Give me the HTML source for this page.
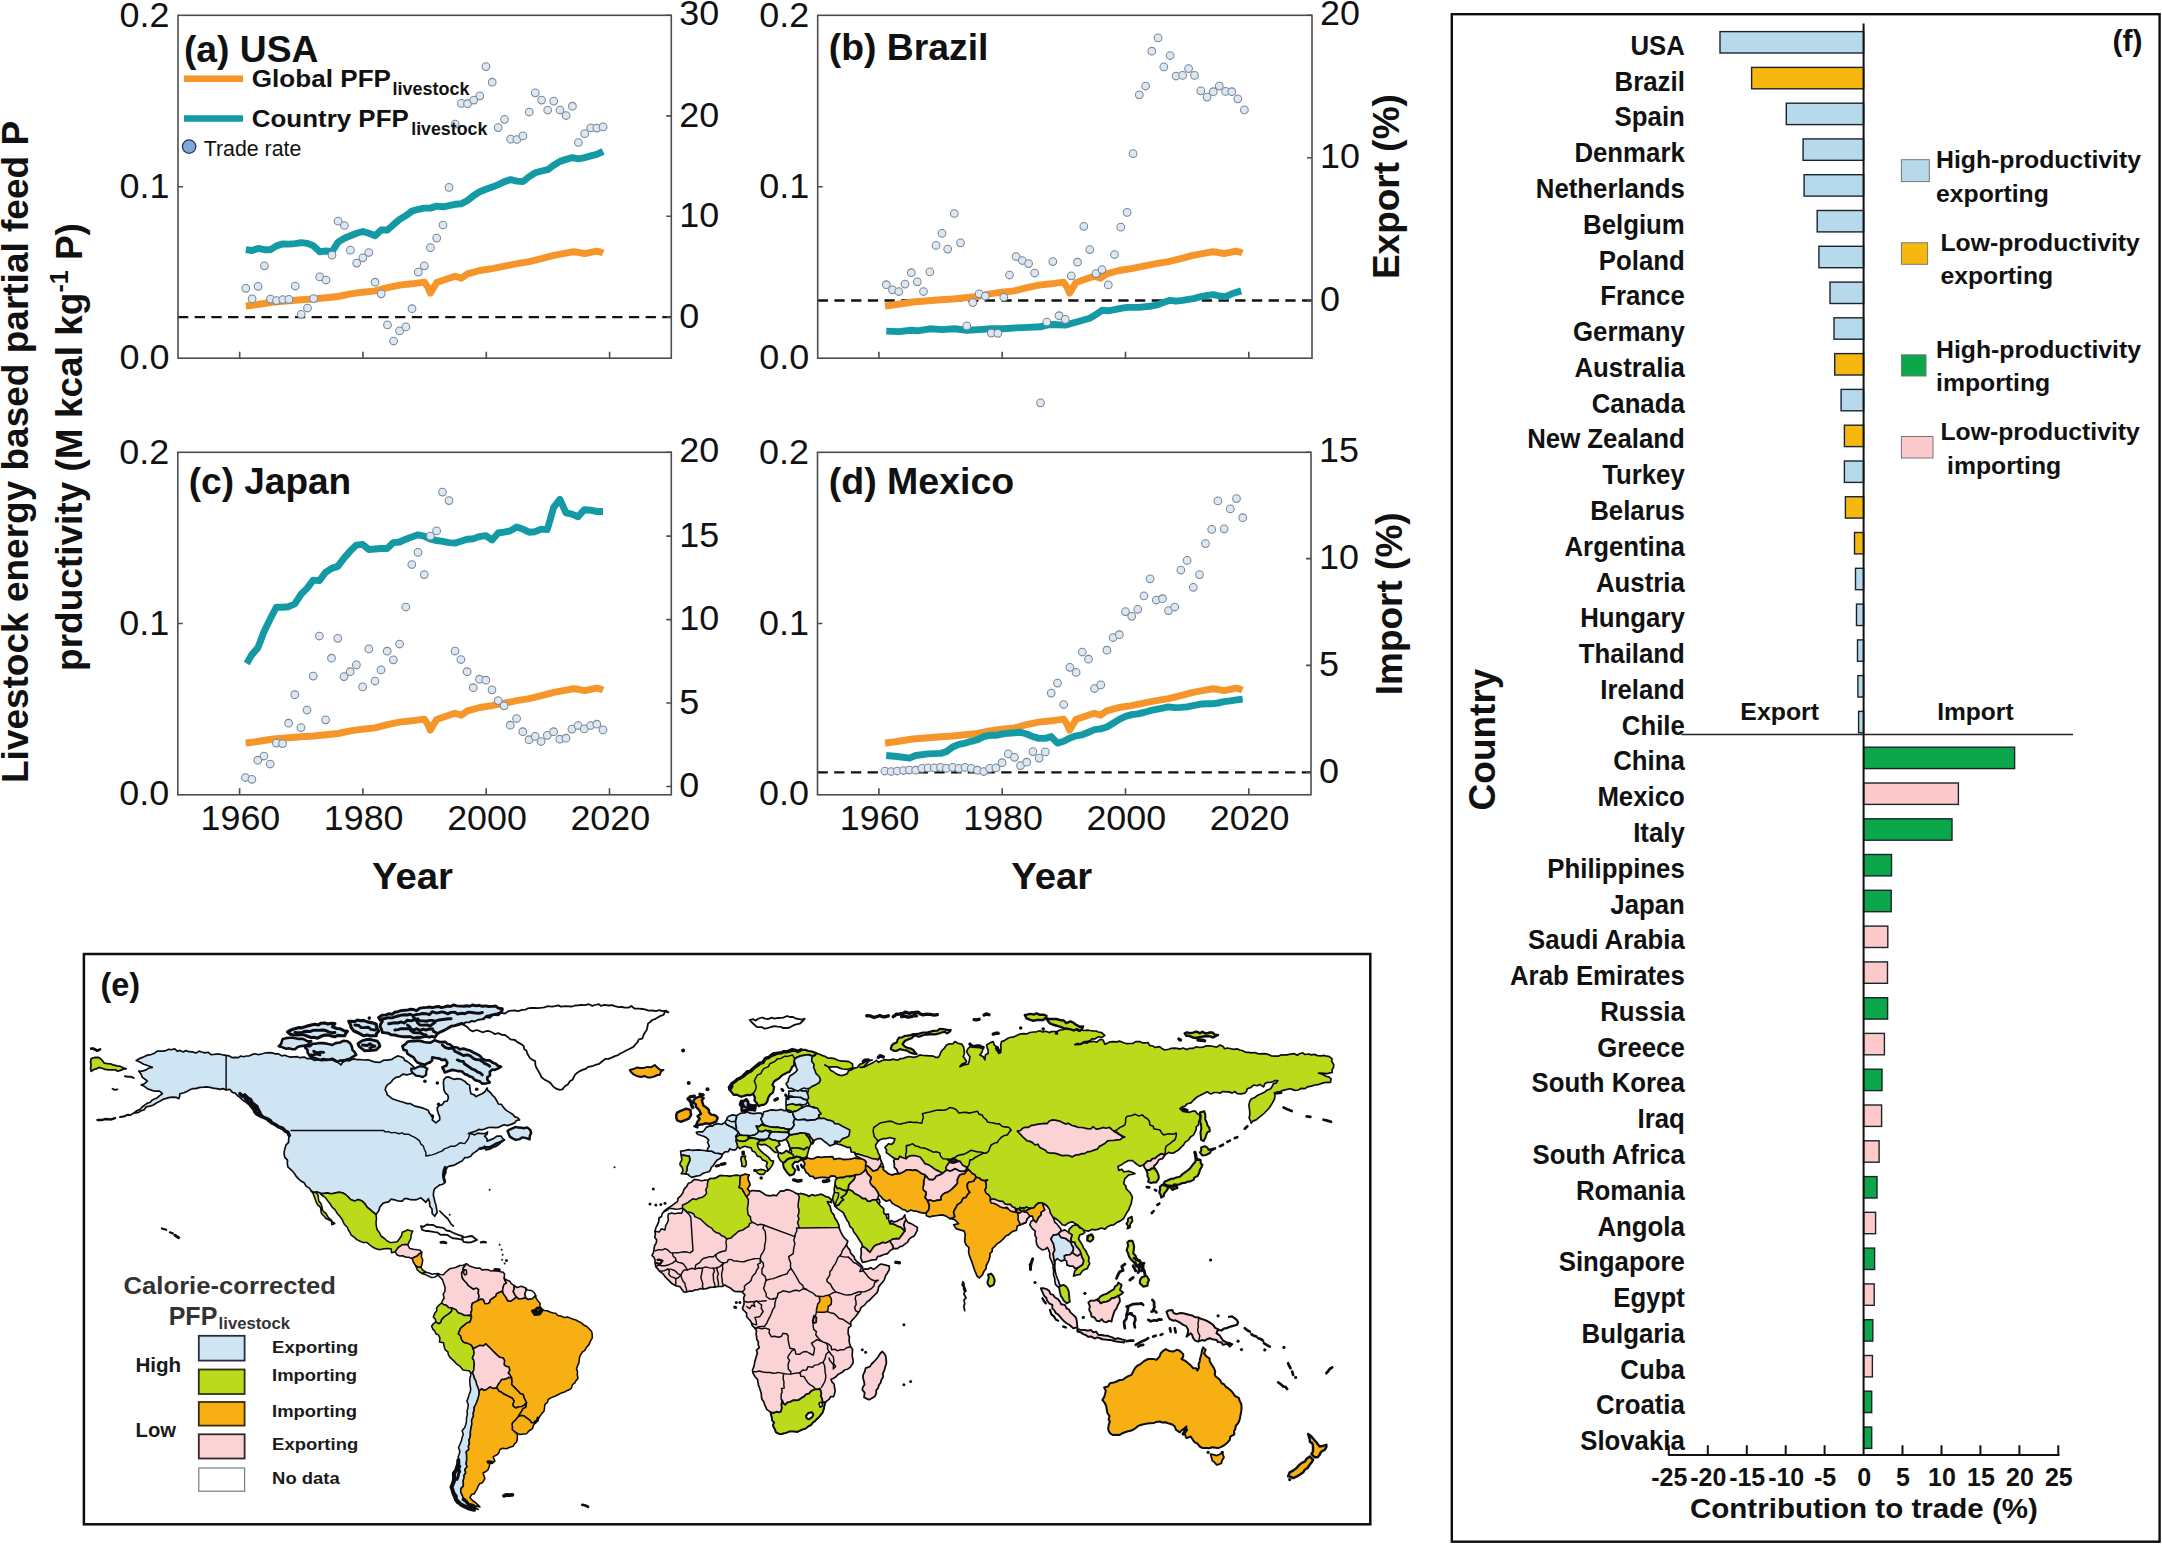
<!DOCTYPE html>
<html><head><meta charset="utf-8"><title>Figure</title>
<style>html,body{margin:0;padding:0;background:#fff}svg{display:block}text{font-family:"Liberation Sans", Arial, Helvetica, sans-serif}</style></head>
<body><svg width="2162" height="1546" viewBox="0 0 2162 1546">
<rect width="2162" height="1546" fill="#fff"/>
<path d="M178.0 317.1 H671.3" stroke="#111" stroke-width="2.3" stroke-dasharray="10.3 6.4" fill="none"/>
<path d="M245.8 306.0 L252.1 305.3 L260.9 304.0 L273.5 302.0 L286.1 301.0 L301.2 299.7 L313.6 299.0 L326.0 297.7 L338.1 296.5 L350.4 293.9 L362.8 292.2 L375.1 290.9 L387.5 287.6 L399.6 285.1 L412.0 283.8 L424.3 282.1 L427.4 286.4 L430.4 293.2 L433.7 287.6 L436.7 282.6 L449.0 278.3 L455.1 276.3 L461.4 278.3 L467.5 273.8 L479.8 270.5 L492.2 268.7 L504.5 266.2 L516.9 263.7 L529.2 261.7 L541.6 258.6 L553.7 255.3 L566.1 253.1 L572.4 251.8 L578.4 252.3 L584.7 253.6 L590.8 252.3 L596.8 251.1 L600.1 251.8 L603.1 253.1" stroke="#F5952A" stroke-width="6.9" fill="none" stroke-linejoin="round"/>
<path d="M245.8 249.7 L252.1 250.5 L258.1 248.4 L264.4 249.7 L270.5 249.7 L276.5 245.9 L282.8 243.9 L288.9 244.1 L295.2 243.6 L301.2 242.6 L307.5 243.4 L313.6 245.9 L319.7 251.7 L326.0 251.0 L332.0 251.7 L338.1 242.1 L344.4 238.3 L350.4 235.8 L356.7 233.3 L362.8 231.5 L368.8 233.3 L375.1 235.8 L381.2 230.0 L387.5 230.0 L393.6 224.5 L399.6 219.4 L405.9 215.6 L412.0 211.1 L418.3 209.3 L424.3 208.1 L430.4 208.1 L436.7 206.1 L443.0 206.8 L449.0 205.6 L455.1 204.3 L461.4 203.8 L467.5 200.5 L473.8 195.5 L479.8 191.7 L485.9 189.2 L492.2 187.1 L498.2 184.6 L504.5 181.6 L510.6 179.6 L516.9 181.1 L522.9 181.6 L529.2 176.6 L535.3 172.8 L541.6 171.0 L547.7 169.7 L553.7 165.2 L560.0 161.4 L566.1 159.4 L572.4 157.6 L578.4 158.9 L584.7 157.6 L590.8 155.9 L596.8 154.4 L603.1 151.3" stroke="#149AA5" stroke-width="6.9" fill="none" stroke-linejoin="round"/>
<g fill="#DBE8F4" stroke="#7b8794" stroke-width="1.05"><circle cx="245.8" cy="288.3" r="3.85"/><circle cx="252.1" cy="298.9" r="3.85"/><circle cx="258.1" cy="286.3" r="3.85"/><circle cx="264.4" cy="265.8" r="3.85"/><circle cx="270.5" cy="299.1" r="3.85"/><circle cx="276.5" cy="300.6" r="3.85"/><circle cx="282.8" cy="299.6" r="3.85"/><circle cx="288.9" cy="299.4" r="3.85"/><circle cx="295.2" cy="286.0" r="3.85"/><circle cx="301.2" cy="314.3" r="3.85"/><circle cx="307.5" cy="308.0" r="3.85"/><circle cx="313.6" cy="298.6" r="3.85"/><circle cx="319.7" cy="276.9" r="3.85"/><circle cx="326.0" cy="280.0" r="3.85"/><circle cx="332.0" cy="255.2" r="3.85"/><circle cx="338.1" cy="221.2" r="3.85"/><circle cx="344.4" cy="225.5" r="3.85"/><circle cx="350.4" cy="250.2" r="3.85"/><circle cx="356.7" cy="263.1" r="3.85"/><circle cx="362.8" cy="257.8" r="3.85"/><circle cx="368.8" cy="252.5" r="3.85"/><circle cx="375.1" cy="282.2" r="3.85"/><circle cx="381.2" cy="293.8" r="3.85"/><circle cx="387.5" cy="324.9" r="3.85"/><circle cx="393.6" cy="341.0" r="3.85"/><circle cx="399.6" cy="330.9" r="3.85"/><circle cx="405.9" cy="326.9" r="3.85"/><circle cx="412.0" cy="308.7" r="3.85"/><circle cx="418.3" cy="272.1" r="3.85"/><circle cx="424.3" cy="265.8" r="3.85"/><circle cx="430.4" cy="247.7" r="3.85"/><circle cx="436.7" cy="238.1" r="3.85"/><circle cx="443.0" cy="225.0" r="3.85"/><circle cx="449.0" cy="187.4" r="3.85"/><circle cx="455.1" cy="124.1" r="3.85"/><circle cx="461.4" cy="103.4" r="3.85"/><circle cx="467.5" cy="103.7" r="3.85"/><circle cx="473.8" cy="100.1" r="3.85"/><circle cx="479.8" cy="95.8" r="3.85"/><circle cx="485.9" cy="66.6" r="3.85"/><circle cx="492.2" cy="82.2" r="3.85"/><circle cx="498.2" cy="127.6" r="3.85"/><circle cx="504.5" cy="119.3" r="3.85"/><circle cx="510.6" cy="139.2" r="3.85"/><circle cx="516.9" cy="139.5" r="3.85"/><circle cx="522.9" cy="135.9" r="3.85"/><circle cx="529.2" cy="112.0" r="3.85"/><circle cx="535.3" cy="92.8" r="3.85"/><circle cx="541.6" cy="100.1" r="3.85"/><circle cx="547.7" cy="110.0" r="3.85"/><circle cx="553.7" cy="101.1" r="3.85"/><circle cx="560.0" cy="110.0" r="3.85"/><circle cx="566.1" cy="115.5" r="3.85"/><circle cx="572.4" cy="106.2" r="3.85"/><circle cx="578.4" cy="142.5" r="3.85"/><circle cx="584.7" cy="133.7" r="3.85"/><circle cx="590.8" cy="127.9" r="3.85"/><circle cx="596.8" cy="128.1" r="3.85"/><circle cx="603.1" cy="126.9" r="3.85"/></g>
<rect x="178.0" y="15.3" width="493.3" height="342.9" fill="none" stroke="#4d4d4d" stroke-width="1.6"/>
<path d="M239.7 358.2 v-6.5 M363.0 358.2 v-6.5 M486.3 358.2 v-6.5 M609.6 358.2 v-6.5 M178.0 186.8 h5 M671.3 15.3 h-5 M671.3 115.9 h-5 M671.3 216.2 h-5 M671.3 317.1 h-5" stroke="#4d4d4d" stroke-width="1.6" fill="none"/>
<text x="169.5" y="27.3" font-size="34.5" text-anchor="end" fill="#111" textLength="50.0" lengthAdjust="spacingAndGlyphs">0.2</text>
<text x="169.5" y="197.8" font-size="34.5" text-anchor="end" fill="#111" textLength="50.0" lengthAdjust="spacingAndGlyphs">0.1</text>
<text x="169.5" y="368.5" font-size="34.5" text-anchor="end" fill="#111" textLength="50.0" lengthAdjust="spacingAndGlyphs">0.0</text>
<text x="679.3" y="25.1" font-size="34.5" text-anchor="start" fill="#111" textLength="39.9" lengthAdjust="spacingAndGlyphs">30</text>
<text x="679.3" y="126.5" font-size="34.5" text-anchor="start" fill="#111" textLength="39.9" lengthAdjust="spacingAndGlyphs">20</text>
<text x="679.3" y="226.8" font-size="34.5" text-anchor="start" fill="#111" textLength="39.9" lengthAdjust="spacingAndGlyphs">10</text>
<text x="679.3" y="327.7" font-size="34.5" text-anchor="start" fill="#111" textLength="20.0" lengthAdjust="spacingAndGlyphs">0</text>
<text x="183.9" y="61.8" font-size="37.0" font-weight="bold" text-anchor="start" fill="#111" textLength="134.6" lengthAdjust="spacingAndGlyphs">(a) USA</text>
<path d="M817.7 300.5 H1312.0" stroke="#111" stroke-width="2.3" stroke-dasharray="10.3 6.4" fill="none"/>
<path d="M885.0 306.0 L891.3 305.3 L900.1 304.0 L912.7 302.0 L925.3 301.0 L940.4 299.7 L952.8 299.0 L965.2 297.7 L977.3 296.5 L989.6 293.9 L1002.0 292.2 L1014.3 290.9 L1026.7 287.6 L1038.8 285.1 L1051.2 283.8 L1063.5 282.1 L1066.6 286.4 L1069.6 293.2 L1072.9 287.6 L1075.9 282.6 L1088.2 278.3 L1094.3 276.3 L1100.6 278.3 L1106.7 273.8 L1119.0 270.5 L1131.4 268.7 L1143.7 266.2 L1156.1 263.7 L1168.4 261.7 L1180.8 258.6 L1192.9 255.3 L1205.3 253.1 L1211.6 251.8 L1217.6 252.3 L1223.9 253.6 L1230.0 252.3 L1236.0 251.1 L1239.3 251.8 L1242.3 253.1" stroke="#F5952A" stroke-width="6.9" fill="none" stroke-linejoin="round"/>
<path d="M886.3 331.1 L898.8 331.6 L911.3 330.2 L917.3 330.8 L929.8 328.8 L942.0 329.6 L954.3 328.8 L966.8 330.2 L979.1 329.6 L991.3 328.8 L1003.8 328.8 L1016.1 327.9 L1028.6 327.4 L1040.5 326.8 L1046.8 325.1 L1052.8 324.5 L1065.3 325.1 L1077.5 321.7 L1089.8 318.2 L1096.0 314.5 L1102.0 310.3 L1108.3 310.8 L1114.5 309.7 L1120.8 308.3 L1127.1 307.4 L1139.3 307.4 L1151.8 306.0 L1158.1 304.6 L1163.8 302.3 L1170.1 300.3 L1176.0 301.2 L1182.6 300.3 L1194.5 298.3 L1200.8 296.6 L1207.1 295.5 L1213.3 294.6 L1219.3 296.0 L1225.6 296.6 L1231.8 293.8 L1241.2 290.9" stroke="#149AA5" stroke-width="6.9" fill="none" stroke-linejoin="round"/>
<g fill="#DBE8F4" stroke="#7b8794" stroke-width="1.05"><circle cx="886.3" cy="284.7" r="3.85"/><circle cx="892.5" cy="289.8" r="3.85"/><circle cx="898.8" cy="291.5" r="3.85"/><circle cx="905.0" cy="284.1" r="3.85"/><circle cx="911.3" cy="272.7" r="3.85"/><circle cx="917.3" cy="281.8" r="3.85"/><circle cx="923.5" cy="291.5" r="3.85"/><circle cx="929.8" cy="271.9" r="3.85"/><circle cx="936.1" cy="245.4" r="3.85"/><circle cx="942.0" cy="233.4" r="3.85"/><circle cx="947.7" cy="249.1" r="3.85"/><circle cx="954.3" cy="213.5" r="3.85"/><circle cx="960.5" cy="242.8" r="3.85"/><circle cx="966.8" cy="325.9" r="3.85"/><circle cx="972.8" cy="302.6" r="3.85"/><circle cx="979.1" cy="293.8" r="3.85"/><circle cx="985.3" cy="296.0" r="3.85"/><circle cx="991.3" cy="333.1" r="3.85"/><circle cx="997.8" cy="333.3" r="3.85"/><circle cx="1003.8" cy="297.2" r="3.85"/><circle cx="1009.5" cy="275.0" r="3.85"/><circle cx="1016.1" cy="256.5" r="3.85"/><circle cx="1022.3" cy="260.5" r="3.85"/><circle cx="1028.6" cy="263.6" r="3.85"/><circle cx="1034.6" cy="273.0" r="3.85"/><circle cx="1040.5" cy="402.8" r="3.85"/><circle cx="1046.8" cy="322.0" r="3.85"/><circle cx="1052.8" cy="261.6" r="3.85"/><circle cx="1059.0" cy="315.7" r="3.85"/><circle cx="1065.3" cy="319.4" r="3.85"/><circle cx="1071.3" cy="275.8" r="3.85"/><circle cx="1077.5" cy="262.2" r="3.85"/><circle cx="1083.8" cy="226.3" r="3.85"/><circle cx="1089.8" cy="249.6" r="3.85"/><circle cx="1096.0" cy="273.6" r="3.85"/><circle cx="1102.0" cy="269.6" r="3.85"/><circle cx="1108.3" cy="284.9" r="3.85"/><circle cx="1114.5" cy="254.5" r="3.85"/><circle cx="1120.8" cy="227.2" r="3.85"/><circle cx="1127.1" cy="212.4" r="3.85"/><circle cx="1133.1" cy="153.7" r="3.85"/><circle cx="1139.3" cy="94.8" r="3.85"/><circle cx="1145.6" cy="86.0" r="3.85"/><circle cx="1151.8" cy="51.2" r="3.85"/><circle cx="1158.1" cy="37.9" r="3.85"/><circle cx="1163.8" cy="66.9" r="3.85"/><circle cx="1170.1" cy="55.5" r="3.85"/><circle cx="1176.0" cy="76.0" r="3.85"/><circle cx="1182.6" cy="75.4" r="3.85"/><circle cx="1188.6" cy="68.6" r="3.85"/><circle cx="1194.5" cy="75.4" r="3.85"/><circle cx="1200.8" cy="90.8" r="3.85"/><circle cx="1207.1" cy="97.1" r="3.85"/><circle cx="1213.3" cy="91.7" r="3.85"/><circle cx="1219.3" cy="86.0" r="3.85"/><circle cx="1225.6" cy="91.4" r="3.85"/><circle cx="1231.8" cy="91.7" r="3.85"/><circle cx="1237.8" cy="98.8" r="3.85"/><circle cx="1244.4" cy="109.9" r="3.85"/></g>
<rect x="817.7" y="15.3" width="494.3" height="342.9" fill="none" stroke="#4d4d4d" stroke-width="1.6"/>
<path d="M878.9 358.2 v-6.5 M1002.2 358.2 v-6.5 M1125.5 358.2 v-6.5 M1248.8 358.2 v-6.5 M817.7 186.8 h5 M1312.0 15.3 h-5 M1312.0 157.8 h-5 M1312.0 300.5 h-5" stroke="#4d4d4d" stroke-width="1.6" fill="none"/>
<text x="809.2" y="27.3" font-size="34.5" text-anchor="end" fill="#111" textLength="50.0" lengthAdjust="spacingAndGlyphs">0.2</text>
<text x="809.2" y="197.8" font-size="34.5" text-anchor="end" fill="#111" textLength="50.0" lengthAdjust="spacingAndGlyphs">0.1</text>
<text x="809.2" y="368.5" font-size="34.5" text-anchor="end" fill="#111" textLength="50.0" lengthAdjust="spacingAndGlyphs">0.0</text>
<text x="1320.0" y="25.1" font-size="34.5" text-anchor="start" fill="#111" textLength="39.9" lengthAdjust="spacingAndGlyphs">20</text>
<text x="1320.0" y="168.4" font-size="34.5" text-anchor="start" fill="#111" textLength="39.9" lengthAdjust="spacingAndGlyphs">10</text>
<text x="1320.0" y="311.1" font-size="34.5" text-anchor="start" fill="#111" textLength="20.0" lengthAdjust="spacingAndGlyphs">0</text>
<text x="828.8" y="59.7" font-size="37.0" font-weight="bold" text-anchor="start" fill="#111" textLength="159.6" lengthAdjust="spacingAndGlyphs">(b) Brazil</text>
<path d="M245.7 743.0 L252.0 742.3 L260.8 741.0 L273.4 739.0 L286.0 738.0 L301.1 736.7 L313.5 736.0 L325.9 734.7 L338.0 733.5 L350.3 730.9 L362.7 729.2 L375.0 727.9 L387.4 724.6 L399.5 722.1 L411.9 720.8 L424.2 719.1 L427.3 723.4 L430.3 730.2 L433.6 724.6 L436.6 719.6 L448.9 715.3 L455.0 713.3 L461.3 715.3 L467.4 710.8 L479.7 707.5 L492.1 705.7 L504.4 703.2 L516.8 700.7 L529.1 698.7 L541.5 695.6 L553.6 692.3 L566.0 690.1 L572.3 688.8 L578.3 689.3 L584.6 690.6 L590.7 689.3 L596.7 688.1 L600.0 688.8 L603.0 690.1" stroke="#F5952A" stroke-width="6.9" fill="none" stroke-linejoin="round"/>
<path d="M246.7 663.4 L251.9 654.6 L257.8 647.9 L264.0 631.8 L270.2 618.9 L276.4 607.2 L282.6 607.2 L288.6 606.7 L294.8 603.9 L301.0 594.3 L307.0 588.4 L313.2 580.1 L319.4 580.6 L325.6 572.3 L331.5 568.4 L337.8 566.4 L344.0 558.1 L350.2 551.1 L356.4 545.1 L362.6 544.4 L368.8 549.5 L375.0 549.0 L381.0 548.5 L387.2 548.5 L393.4 542.6 L399.6 542.0 L405.8 539.2 L411.8 536.9 L418.0 534.8 L424.2 536.1 L430.4 539.2 L436.6 540.5 L442.5 541.3 L449.0 542.6 L455.0 543.1 L460.9 541.3 L467.1 539.2 L473.3 538.7 L479.5 536.6 L485.8 535.6 L492.0 540.0 L498.2 533.0 L504.1 532.2 L510.3 530.9 L516.6 527.0 L522.8 529.1 L529.0 532.2 L535.2 531.7 L541.1 529.1 L547.3 529.6 L553.6 507.6 L559.8 499.3 L566.0 512.8 L571.9 514.1 L578.1 516.7 L584.3 509.7 L590.6 510.2 L596.8 511.5 L603.0 511.5" stroke="#149AA5" stroke-width="6.9" fill="none" stroke-linejoin="round"/>
<g fill="#DBE8F4" stroke="#7b8794" stroke-width="1.05"><circle cx="245.4" cy="777.5" r="3.85"/><circle cx="251.9" cy="779.3" r="3.85"/><circle cx="257.8" cy="760.2" r="3.85"/><circle cx="264.0" cy="756.0" r="3.85"/><circle cx="270.2" cy="764.0" r="3.85"/><circle cx="276.4" cy="743.1" r="3.85"/><circle cx="282.6" cy="743.6" r="3.85"/><circle cx="288.6" cy="723.2" r="3.85"/><circle cx="294.8" cy="694.7" r="3.85"/><circle cx="301.0" cy="727.6" r="3.85"/><circle cx="307.0" cy="710.0" r="3.85"/><circle cx="313.2" cy="676.1" r="3.85"/><circle cx="319.4" cy="636.0" r="3.85"/><circle cx="325.6" cy="719.8" r="3.85"/><circle cx="331.5" cy="658.2" r="3.85"/><circle cx="337.8" cy="638.3" r="3.85"/><circle cx="344.0" cy="676.6" r="3.85"/><circle cx="350.2" cy="671.7" r="3.85"/><circle cx="356.4" cy="664.9" r="3.85"/><circle cx="362.6" cy="686.9" r="3.85"/><circle cx="368.8" cy="648.9" r="3.85"/><circle cx="375.0" cy="681.0" r="3.85"/><circle cx="381.0" cy="669.9" r="3.85"/><circle cx="387.2" cy="651.2" r="3.85"/><circle cx="393.4" cy="659.8" r="3.85"/><circle cx="399.6" cy="644.0" r="3.85"/><circle cx="405.8" cy="607.0" r="3.85"/><circle cx="411.8" cy="564.5" r="3.85"/><circle cx="418.0" cy="552.4" r="3.85"/><circle cx="424.2" cy="574.6" r="3.85"/><circle cx="430.4" cy="536.1" r="3.85"/><circle cx="436.6" cy="530.9" r="3.85"/><circle cx="442.5" cy="492.1" r="3.85"/><circle cx="449.0" cy="500.6" r="3.85"/><circle cx="455.0" cy="651.0" r="3.85"/><circle cx="460.9" cy="659.5" r="3.85"/><circle cx="467.1" cy="671.7" r="3.85"/><circle cx="473.3" cy="687.7" r="3.85"/><circle cx="479.5" cy="679.2" r="3.85"/><circle cx="485.8" cy="680.2" r="3.85"/><circle cx="492.0" cy="689.8" r="3.85"/><circle cx="498.2" cy="700.6" r="3.85"/><circle cx="504.1" cy="705.8" r="3.85"/><circle cx="510.3" cy="725.2" r="3.85"/><circle cx="516.6" cy="718.5" r="3.85"/><circle cx="522.8" cy="731.7" r="3.85"/><circle cx="529.0" cy="739.7" r="3.85"/><circle cx="535.2" cy="736.4" r="3.85"/><circle cx="541.1" cy="741.5" r="3.85"/><circle cx="547.3" cy="735.3" r="3.85"/><circle cx="553.6" cy="731.7" r="3.85"/><circle cx="559.8" cy="739.2" r="3.85"/><circle cx="566.0" cy="738.2" r="3.85"/><circle cx="571.9" cy="729.1" r="3.85"/><circle cx="578.1" cy="725.5" r="3.85"/><circle cx="584.3" cy="728.9" r="3.85"/><circle cx="590.6" cy="725.5" r="3.85"/><circle cx="596.8" cy="724.2" r="3.85"/><circle cx="603.0" cy="729.9" r="3.85"/></g>
<rect x="177.8" y="452.3" width="493.5" height="342.5" fill="none" stroke="#4d4d4d" stroke-width="1.6"/>
<path d="M239.6 794.8 v-6.5 M362.9 794.8 v-6.5 M486.2 794.8 v-6.5 M609.5 794.8 v-6.5 M177.8 623.5 h5 M671.3 452.3 h-5 M671.3 536.1 h-5 M671.3 619.6 h-5 M671.3 703.0 h-5 M671.3 786.5 h-5" stroke="#4d4d4d" stroke-width="1.6" fill="none"/>
<text x="169.3" y="464.3" font-size="34.5" text-anchor="end" fill="#111" textLength="50.0" lengthAdjust="spacingAndGlyphs">0.2</text>
<text x="169.3" y="634.6" font-size="34.5" text-anchor="end" fill="#111" textLength="50.0" lengthAdjust="spacingAndGlyphs">0.1</text>
<text x="169.3" y="805.1" font-size="34.5" text-anchor="end" fill="#111" textLength="50.0" lengthAdjust="spacingAndGlyphs">0.0</text>
<text x="679.3" y="462.1" font-size="34.5" text-anchor="start" fill="#111" textLength="39.9" lengthAdjust="spacingAndGlyphs">20</text>
<text x="679.3" y="546.7" font-size="34.5" text-anchor="start" fill="#111" textLength="39.9" lengthAdjust="spacingAndGlyphs">15</text>
<text x="679.3" y="630.2" font-size="34.5" text-anchor="start" fill="#111" textLength="39.9" lengthAdjust="spacingAndGlyphs">10</text>
<text x="679.3" y="713.6" font-size="34.5" text-anchor="start" fill="#111" textLength="20.0" lengthAdjust="spacingAndGlyphs">5</text>
<text x="679.3" y="797.1" font-size="34.5" text-anchor="start" fill="#111" textLength="20.0" lengthAdjust="spacingAndGlyphs">0</text>
<text x="240.4" y="830.3" font-size="34.5" text-anchor="middle" fill="#111" textLength="79.7" lengthAdjust="spacingAndGlyphs">1960</text>
<text x="363.7" y="830.3" font-size="34.5" text-anchor="middle" fill="#111" textLength="79.7" lengthAdjust="spacingAndGlyphs">1980</text>
<text x="487.0" y="830.3" font-size="34.5" text-anchor="middle" fill="#111" textLength="79.7" lengthAdjust="spacingAndGlyphs">2000</text>
<text x="610.3" y="830.3" font-size="34.5" text-anchor="middle" fill="#111" textLength="79.7" lengthAdjust="spacingAndGlyphs">2020</text>
<text x="412.5" y="889.1" font-size="36.0" font-weight="bold" text-anchor="middle" fill="#111" textLength="80.9" lengthAdjust="spacingAndGlyphs">Year</text>
<text x="188.8" y="493.8" font-size="37.0" font-weight="bold" text-anchor="start" fill="#111" textLength="162.4" lengthAdjust="spacingAndGlyphs">(c) Japan</text>
<path d="M817.5 772.3 H1311.0" stroke="#111" stroke-width="2.3" stroke-dasharray="10.3 6.4" fill="none"/>
<path d="M885.0 743.0 L891.3 742.3 L900.1 741.0 L912.7 739.0 L925.3 738.0 L940.4 736.7 L952.8 736.0 L965.2 734.7 L977.3 733.5 L989.6 730.9 L1002.0 729.2 L1014.3 727.9 L1026.7 724.6 L1038.8 722.1 L1051.2 720.8 L1063.5 719.1 L1066.6 723.4 L1069.6 730.2 L1072.9 724.6 L1075.9 719.6 L1088.2 715.3 L1094.3 713.3 L1100.6 715.3 L1106.7 710.8 L1119.0 707.5 L1131.4 705.7 L1143.7 703.2 L1156.1 700.7 L1168.4 698.7 L1180.8 695.6 L1192.9 692.3 L1205.3 690.1 L1211.6 688.8 L1217.6 689.3 L1223.9 690.6 L1230.0 689.3 L1236.0 688.1 L1239.3 688.8 L1242.3 690.1" stroke="#F5952A" stroke-width="6.9" fill="none" stroke-linejoin="round"/>
<path d="M886.2 755.5 L897.3 756.5 L909.4 758.1 L915.7 755.5 L928.1 753.9 L940.5 753.4 L946.4 751.6 L952.7 747.0 L958.9 744.4 L965.1 743.1 L971.3 741.3 L977.5 739.7 L983.7 736.6 L989.7 735.3 L995.9 735.3 L1002.1 734.0 L1008.3 733.2 L1014.5 732.7 L1020.5 732.2 L1026.7 734.0 L1032.9 736.6 L1039.1 738.4 L1045.3 738.4 L1051.2 736.6 L1057.5 743.1 L1063.7 741.3 L1069.9 737.9 L1076.1 735.8 L1082.3 734.8 L1088.5 732.2 L1094.5 729.6 L1100.7 728.9 L1106.9 727.0 L1113.1 723.2 L1119.3 719.3 L1125.5 716.4 L1131.7 714.6 L1137.7 713.8 L1143.9 712.5 L1150.1 710.7 L1156.3 709.4 L1162.5 708.2 L1168.5 706.9 L1174.7 707.6 L1180.9 707.4 L1187.1 706.9 L1193.3 705.6 L1199.5 704.3 L1205.5 703.8 L1211.7 703.8 L1217.9 703.0 L1224.1 701.7 L1230.3 700.9 L1236.5 699.9 L1242.7 699.1" stroke="#149AA5" stroke-width="6.9" fill="none" stroke-linejoin="round"/>
<g fill="#DBE8F4" stroke="#7b8794" stroke-width="1.05"><circle cx="884.9" cy="771.0" r="3.85"/><circle cx="891.1" cy="771.5" r="3.85"/><circle cx="897.3" cy="771.0" r="3.85"/><circle cx="903.5" cy="770.5" r="3.85"/><circle cx="909.4" cy="770.0" r="3.85"/><circle cx="915.7" cy="770.2" r="3.85"/><circle cx="921.9" cy="768.4" r="3.85"/><circle cx="928.1" cy="767.9" r="3.85"/><circle cx="934.3" cy="767.9" r="3.85"/><circle cx="940.5" cy="767.4" r="3.85"/><circle cx="946.4" cy="768.4" r="3.85"/><circle cx="952.7" cy="767.4" r="3.85"/><circle cx="958.9" cy="768.4" r="3.85"/><circle cx="965.1" cy="767.4" r="3.85"/><circle cx="971.3" cy="768.4" r="3.85"/><circle cx="977.5" cy="770.2" r="3.85"/><circle cx="983.7" cy="771.5" r="3.85"/><circle cx="989.7" cy="768.4" r="3.85"/><circle cx="995.9" cy="767.9" r="3.85"/><circle cx="1002.1" cy="762.7" r="3.85"/><circle cx="1008.3" cy="753.9" r="3.85"/><circle cx="1014.5" cy="757.3" r="3.85"/><circle cx="1020.5" cy="765.6" r="3.85"/><circle cx="1026.7" cy="762.2" r="3.85"/><circle cx="1032.9" cy="751.6" r="3.85"/><circle cx="1039.1" cy="758.1" r="3.85"/><circle cx="1045.3" cy="751.9" r="3.85"/><circle cx="1051.2" cy="693.1" r="3.85"/><circle cx="1057.5" cy="683.1" r="3.85"/><circle cx="1063.7" cy="704.5" r="3.85"/><circle cx="1069.9" cy="667.3" r="3.85"/><circle cx="1076.1" cy="672.4" r="3.85"/><circle cx="1082.3" cy="652.0" r="3.85"/><circle cx="1088.5" cy="659.2" r="3.85"/><circle cx="1094.5" cy="688.5" r="3.85"/><circle cx="1100.7" cy="684.9" r="3.85"/><circle cx="1106.9" cy="650.2" r="3.85"/><circle cx="1113.1" cy="637.5" r="3.85"/><circle cx="1119.3" cy="634.7" r="3.85"/><circle cx="1125.5" cy="611.6" r="3.85"/><circle cx="1131.7" cy="616.3" r="3.85"/><circle cx="1137.7" cy="609.3" r="3.85"/><circle cx="1143.9" cy="595.9" r="3.85"/><circle cx="1150.1" cy="578.8" r="3.85"/><circle cx="1156.3" cy="600.0" r="3.85"/><circle cx="1162.5" cy="598.7" r="3.85"/><circle cx="1168.5" cy="610.6" r="3.85"/><circle cx="1174.7" cy="607.0" r="3.85"/><circle cx="1180.9" cy="570.0" r="3.85"/><circle cx="1187.1" cy="560.4" r="3.85"/><circle cx="1193.3" cy="587.3" r="3.85"/><circle cx="1199.5" cy="574.6" r="3.85"/><circle cx="1205.5" cy="543.6" r="3.85"/><circle cx="1211.7" cy="529.4" r="3.85"/><circle cx="1217.9" cy="500.9" r="3.85"/><circle cx="1224.1" cy="528.8" r="3.85"/><circle cx="1230.3" cy="508.9" r="3.85"/><circle cx="1236.5" cy="498.6" r="3.85"/><circle cx="1242.7" cy="517.7" r="3.85"/></g>
<rect x="817.5" y="452.3" width="493.5" height="342.5" fill="none" stroke="#4d4d4d" stroke-width="1.6"/>
<path d="M878.9 794.8 v-6.5 M1002.2 794.8 v-6.5 M1125.5 794.8 v-6.5 M1248.8 794.8 v-6.5 M817.5 623.5 h5 M1311.0 452.3 h-5 M1311.0 558.6 h-5 M1311.0 665.4 h-5 M1311.0 772.3 h-5" stroke="#4d4d4d" stroke-width="1.6" fill="none"/>
<text x="809.0" y="464.3" font-size="34.5" text-anchor="end" fill="#111" textLength="50.0" lengthAdjust="spacingAndGlyphs">0.2</text>
<text x="809.0" y="634.6" font-size="34.5" text-anchor="end" fill="#111" textLength="50.0" lengthAdjust="spacingAndGlyphs">0.1</text>
<text x="809.0" y="805.1" font-size="34.5" text-anchor="end" fill="#111" textLength="50.0" lengthAdjust="spacingAndGlyphs">0.0</text>
<text x="1319.0" y="462.1" font-size="34.5" text-anchor="start" fill="#111" textLength="39.9" lengthAdjust="spacingAndGlyphs">15</text>
<text x="1319.0" y="569.2" font-size="34.5" text-anchor="start" fill="#111" textLength="39.9" lengthAdjust="spacingAndGlyphs">10</text>
<text x="1319.0" y="676.0" font-size="34.5" text-anchor="start" fill="#111" textLength="20.0" lengthAdjust="spacingAndGlyphs">5</text>
<text x="1319.0" y="782.9" font-size="34.5" text-anchor="start" fill="#111" textLength="20.0" lengthAdjust="spacingAndGlyphs">0</text>
<text x="879.7" y="830.3" font-size="34.5" text-anchor="middle" fill="#111" textLength="79.7" lengthAdjust="spacingAndGlyphs">1960</text>
<text x="1003.0" y="830.3" font-size="34.5" text-anchor="middle" fill="#111" textLength="79.7" lengthAdjust="spacingAndGlyphs">1980</text>
<text x="1126.3" y="830.3" font-size="34.5" text-anchor="middle" fill="#111" textLength="79.7" lengthAdjust="spacingAndGlyphs">2000</text>
<text x="1249.6" y="830.3" font-size="34.5" text-anchor="middle" fill="#111" textLength="79.7" lengthAdjust="spacingAndGlyphs">2020</text>
<text x="1051.8" y="889.1" font-size="36.0" font-weight="bold" text-anchor="middle" fill="#111" textLength="80.9" lengthAdjust="spacingAndGlyphs">Year</text>
<text x="828.8" y="493.8" font-size="37.0" font-weight="bold" text-anchor="start" fill="#111" textLength="185.5" lengthAdjust="spacingAndGlyphs">(d) Mexico</text>
<path d="M184 78.7 H243" stroke="#F5952A" stroke-width="6.5"/>
<path d="M184 118.4 H243" stroke="#149AA5" stroke-width="6.5"/>
<text x="251.8" y="87.2" font-size="24.0" font-weight="bold" text-anchor="start" fill="#111" textLength="139.2" lengthAdjust="spacingAndGlyphs">Global PFP</text>
<text x="392.6" y="94.8" font-size="18.0" font-weight="bold" text-anchor="start" fill="#111" textLength="76.9" lengthAdjust="spacingAndGlyphs">livestock</text>
<text x="251.8" y="127.2" font-size="24.0" font-weight="bold" text-anchor="start" fill="#111" textLength="157.0" lengthAdjust="spacingAndGlyphs">Country PFP</text>
<text x="411.2" y="134.8" font-size="18.0" font-weight="bold" text-anchor="start" fill="#111" textLength="76.1" lengthAdjust="spacingAndGlyphs">livestock</text>
<circle cx="189.1" cy="146.6" r="6.7" fill="#7FA8DC" stroke="#22344f" stroke-width="1.3"/>
<text x="203.8" y="156.1" font-size="21.3" text-anchor="start" fill="#111">Trade rate</text>
<text transform="translate(28.4 452) rotate(-90)" font-size="37" font-weight="bold" text-anchor="middle" fill="#111">Livestock energy based partial feed P</text>
<text transform="translate(81.5 447) rotate(-90)" font-size="37" font-weight="bold" text-anchor="middle" fill="#111">prductivity (M kcal kg<tspan font-size="25" dy="-14">-1</tspan><tspan dy="14"> P)</tspan></text>
<text transform="translate(1398.6 186.6) rotate(-90)" font-size="37" font-weight="bold" text-anchor="middle" fill="#111">Export (%)</text>
<text transform="translate(1401.5 603.8) rotate(-90)" font-size="37" font-weight="bold" text-anchor="middle" fill="#111">Import (%)</text>
<rect x="1451.8" y="14.2" width="707.8" height="1527.5" fill="none" stroke="#0d0d0d" stroke-width="2.4"/>
<rect x="1720.0" y="31.6" width="143.6" height="21.4" fill="#B7D9EC" stroke="#1b242d" stroke-width="1.4"/>
<text x="1684.8" y="54.8" font-size="27.0" font-weight="bold" text-anchor="end" fill="#111" textLength="54.4" lengthAdjust="spacingAndGlyphs">USA</text>
<rect x="1751.6" y="67.4" width="112.0" height="21.4" fill="#F6B80E" stroke="#1b242d" stroke-width="1.4"/>
<text x="1684.8" y="90.6" font-size="27.0" font-weight="bold" text-anchor="end" fill="#111" textLength="70.2" lengthAdjust="spacingAndGlyphs">Brazil</text>
<rect x="1786.3" y="103.2" width="77.3" height="21.4" fill="#B7D9EC" stroke="#1b242d" stroke-width="1.4"/>
<text x="1684.8" y="126.4" font-size="27.0" font-weight="bold" text-anchor="end" fill="#111" textLength="70.2" lengthAdjust="spacingAndGlyphs">Spain</text>
<rect x="1803.1" y="138.9" width="60.5" height="21.4" fill="#B7D9EC" stroke="#1b242d" stroke-width="1.4"/>
<text x="1684.8" y="162.1" font-size="27.0" font-weight="bold" text-anchor="end" fill="#111" textLength="110.4" lengthAdjust="spacingAndGlyphs">Denmark</text>
<rect x="1804.1" y="174.7" width="59.5" height="21.4" fill="#B7D9EC" stroke="#1b242d" stroke-width="1.4"/>
<text x="1684.8" y="197.9" font-size="27.0" font-weight="bold" text-anchor="end" fill="#111" textLength="149.0" lengthAdjust="spacingAndGlyphs">Netherlands</text>
<rect x="1817.2" y="210.5" width="46.4" height="21.4" fill="#B7D9EC" stroke="#1b242d" stroke-width="1.4"/>
<text x="1684.8" y="233.7" font-size="27.0" font-weight="bold" text-anchor="end" fill="#111" textLength="101.7" lengthAdjust="spacingAndGlyphs">Belgium</text>
<rect x="1818.9" y="246.3" width="44.7" height="21.4" fill="#B7D9EC" stroke="#1b242d" stroke-width="1.4"/>
<text x="1684.8" y="269.5" font-size="27.0" font-weight="bold" text-anchor="end" fill="#111" textLength="86.0" lengthAdjust="spacingAndGlyphs">Poland</text>
<rect x="1830.0" y="282.1" width="33.6" height="21.4" fill="#B7D9EC" stroke="#1b242d" stroke-width="1.4"/>
<text x="1684.8" y="305.3" font-size="27.0" font-weight="bold" text-anchor="end" fill="#111" textLength="84.6" lengthAdjust="spacingAndGlyphs">France</text>
<rect x="1834.0" y="317.8" width="29.6" height="21.4" fill="#B7D9EC" stroke="#1b242d" stroke-width="1.4"/>
<text x="1684.8" y="341.0" font-size="27.0" font-weight="bold" text-anchor="end" fill="#111" textLength="111.8" lengthAdjust="spacingAndGlyphs">Germany</text>
<rect x="1834.7" y="353.6" width="28.9" height="21.4" fill="#F6B80E" stroke="#1b242d" stroke-width="1.4"/>
<text x="1684.8" y="376.8" font-size="27.0" font-weight="bold" text-anchor="end" fill="#111" textLength="110.3" lengthAdjust="spacingAndGlyphs">Australia</text>
<rect x="1841.1" y="389.4" width="22.5" height="21.4" fill="#B7D9EC" stroke="#1b242d" stroke-width="1.4"/>
<text x="1684.8" y="412.6" font-size="27.0" font-weight="bold" text-anchor="end" fill="#111" textLength="93.1" lengthAdjust="spacingAndGlyphs">Canada</text>
<rect x="1844.4" y="425.2" width="19.2" height="21.4" fill="#F6B80E" stroke="#1b242d" stroke-width="1.4"/>
<text x="1684.8" y="448.4" font-size="27.0" font-weight="bold" text-anchor="end" fill="#111" textLength="157.6" lengthAdjust="spacingAndGlyphs">New Zealand</text>
<rect x="1844.4" y="461.0" width="19.2" height="21.4" fill="#B7D9EC" stroke="#1b242d" stroke-width="1.4"/>
<text x="1684.8" y="484.2" font-size="27.0" font-weight="bold" text-anchor="end" fill="#111" textLength="82.6" lengthAdjust="spacingAndGlyphs">Turkey</text>
<rect x="1845.4" y="496.7" width="18.2" height="21.4" fill="#F6B80E" stroke="#1b242d" stroke-width="1.4"/>
<text x="1684.8" y="519.9" font-size="27.0" font-weight="bold" text-anchor="end" fill="#111" textLength="94.6" lengthAdjust="spacingAndGlyphs">Belarus</text>
<rect x="1854.5" y="532.5" width="9.1" height="21.4" fill="#F6B80E" stroke="#1b242d" stroke-width="1.4"/>
<text x="1684.8" y="555.7" font-size="27.0" font-weight="bold" text-anchor="end" fill="#111" textLength="120.3" lengthAdjust="spacingAndGlyphs">Argentina</text>
<rect x="1855.5" y="568.3" width="8.1" height="21.4" fill="#B7D9EC" stroke="#1b242d" stroke-width="1.4"/>
<text x="1684.8" y="591.5" font-size="27.0" font-weight="bold" text-anchor="end" fill="#111" textLength="88.8" lengthAdjust="spacingAndGlyphs">Austria</text>
<rect x="1856.5" y="604.1" width="7.1" height="21.4" fill="#B7D9EC" stroke="#1b242d" stroke-width="1.4"/>
<text x="1684.8" y="627.3" font-size="27.0" font-weight="bold" text-anchor="end" fill="#111" textLength="104.6" lengthAdjust="spacingAndGlyphs">Hungary</text>
<rect x="1857.5" y="639.9" width="6.1" height="21.4" fill="#B7D9EC" stroke="#1b242d" stroke-width="1.4"/>
<text x="1684.8" y="663.1" font-size="27.0" font-weight="bold" text-anchor="end" fill="#111" textLength="106.0" lengthAdjust="spacingAndGlyphs">Thailand</text>
<rect x="1857.9" y="675.6" width="5.7" height="21.4" fill="#B7D9EC" stroke="#1b242d" stroke-width="1.4"/>
<text x="1684.8" y="698.8" font-size="27.0" font-weight="bold" text-anchor="end" fill="#111" textLength="84.5" lengthAdjust="spacingAndGlyphs">Ireland</text>
<rect x="1858.6" y="711.4" width="5.0" height="21.4" fill="#B7D9EC" stroke="#1b242d" stroke-width="1.4"/>
<text x="1684.8" y="734.6" font-size="27.0" font-weight="bold" text-anchor="end" fill="#111" textLength="63.0" lengthAdjust="spacingAndGlyphs">Chile</text>
<rect x="1863.6" y="747.2" width="151.0" height="21.4" fill="#0CA74A" stroke="#1b242d" stroke-width="1.4"/>
<text x="1684.8" y="770.4" font-size="27.0" font-weight="bold" text-anchor="end" fill="#111" textLength="71.6" lengthAdjust="spacingAndGlyphs">China</text>
<rect x="1863.6" y="783.0" width="94.8" height="21.4" fill="#FCCACA" stroke="#1b242d" stroke-width="1.4"/>
<text x="1684.8" y="806.2" font-size="27.0" font-weight="bold" text-anchor="end" fill="#111" textLength="87.4" lengthAdjust="spacingAndGlyphs">Mexico</text>
<rect x="1863.6" y="818.8" width="88.4" height="21.4" fill="#0CA74A" stroke="#1b242d" stroke-width="1.4"/>
<text x="1684.8" y="842.0" font-size="27.0" font-weight="bold" text-anchor="end" fill="#111" textLength="51.6" lengthAdjust="spacingAndGlyphs">Italy</text>
<rect x="1863.6" y="854.5" width="27.9" height="21.4" fill="#0CA74A" stroke="#1b242d" stroke-width="1.4"/>
<text x="1684.8" y="877.7" font-size="27.0" font-weight="bold" text-anchor="end" fill="#111" textLength="137.5" lengthAdjust="spacingAndGlyphs">Philippines</text>
<rect x="1863.6" y="890.3" width="27.6" height="21.4" fill="#0CA74A" stroke="#1b242d" stroke-width="1.4"/>
<text x="1684.8" y="913.5" font-size="27.0" font-weight="bold" text-anchor="end" fill="#111" textLength="74.5" lengthAdjust="spacingAndGlyphs">Japan</text>
<rect x="1863.6" y="926.1" width="24.2" height="21.4" fill="#FCCACA" stroke="#1b242d" stroke-width="1.4"/>
<text x="1684.8" y="949.3" font-size="27.0" font-weight="bold" text-anchor="end" fill="#111" textLength="156.7" lengthAdjust="spacingAndGlyphs">Saudi Arabia</text>
<rect x="1863.6" y="961.9" width="23.9" height="21.4" fill="#FCCACA" stroke="#1b242d" stroke-width="1.4"/>
<text x="1684.8" y="985.1" font-size="27.0" font-weight="bold" text-anchor="end" fill="#111" textLength="174.8" lengthAdjust="spacingAndGlyphs">Arab Emirates</text>
<rect x="1863.6" y="997.7" width="24.0" height="21.4" fill="#0CA74A" stroke="#1b242d" stroke-width="1.4"/>
<text x="1684.8" y="1020.9" font-size="27.0" font-weight="bold" text-anchor="end" fill="#111" textLength="84.6" lengthAdjust="spacingAndGlyphs">Russia</text>
<rect x="1863.6" y="1033.4" width="20.8" height="21.4" fill="#FCCACA" stroke="#1b242d" stroke-width="1.4"/>
<text x="1684.8" y="1056.6" font-size="27.0" font-weight="bold" text-anchor="end" fill="#111" textLength="87.5" lengthAdjust="spacingAndGlyphs">Greece</text>
<rect x="1863.6" y="1069.2" width="18.4" height="21.4" fill="#0CA74A" stroke="#1b242d" stroke-width="1.4"/>
<text x="1684.8" y="1092.4" font-size="27.0" font-weight="bold" text-anchor="end" fill="#111" textLength="153.3" lengthAdjust="spacingAndGlyphs">South Korea</text>
<rect x="1863.6" y="1105.0" width="18.0" height="21.4" fill="#FCCACA" stroke="#1b242d" stroke-width="1.4"/>
<text x="1684.8" y="1128.2" font-size="27.0" font-weight="bold" text-anchor="end" fill="#111" textLength="47.3" lengthAdjust="spacingAndGlyphs">Iraq</text>
<rect x="1863.6" y="1140.8" width="15.5" height="21.4" fill="#FCCACA" stroke="#1b242d" stroke-width="1.4"/>
<text x="1684.8" y="1164.0" font-size="27.0" font-weight="bold" text-anchor="end" fill="#111" textLength="152.3" lengthAdjust="spacingAndGlyphs">South Africa</text>
<rect x="1863.6" y="1176.6" width="13.4" height="21.4" fill="#0CA74A" stroke="#1b242d" stroke-width="1.4"/>
<text x="1684.8" y="1199.8" font-size="27.0" font-weight="bold" text-anchor="end" fill="#111" textLength="108.9" lengthAdjust="spacingAndGlyphs">Romania</text>
<rect x="1863.6" y="1212.3" width="12.0" height="21.4" fill="#FCCACA" stroke="#1b242d" stroke-width="1.4"/>
<text x="1684.8" y="1235.5" font-size="27.0" font-weight="bold" text-anchor="end" fill="#111" textLength="87.4" lengthAdjust="spacingAndGlyphs">Angola</text>
<rect x="1863.6" y="1248.1" width="11.0" height="21.4" fill="#0CA74A" stroke="#1b242d" stroke-width="1.4"/>
<text x="1684.8" y="1271.3" font-size="27.0" font-weight="bold" text-anchor="end" fill="#111" textLength="126.1" lengthAdjust="spacingAndGlyphs">Singapore</text>
<rect x="1863.6" y="1283.9" width="10.6" height="21.4" fill="#FCCACA" stroke="#1b242d" stroke-width="1.4"/>
<text x="1684.8" y="1307.1" font-size="27.0" font-weight="bold" text-anchor="end" fill="#111" textLength="71.6" lengthAdjust="spacingAndGlyphs">Egypt</text>
<rect x="1863.6" y="1319.7" width="9.2" height="21.4" fill="#0CA74A" stroke="#1b242d" stroke-width="1.4"/>
<text x="1684.8" y="1342.9" font-size="27.0" font-weight="bold" text-anchor="end" fill="#111" textLength="103.2" lengthAdjust="spacingAndGlyphs">Bulgaria</text>
<rect x="1863.6" y="1355.5" width="8.8" height="21.4" fill="#FCCACA" stroke="#1b242d" stroke-width="1.4"/>
<text x="1684.8" y="1378.7" font-size="27.0" font-weight="bold" text-anchor="end" fill="#111" textLength="64.5" lengthAdjust="spacingAndGlyphs">Cuba</text>
<rect x="1863.6" y="1391.2" width="8.1" height="21.4" fill="#0CA74A" stroke="#1b242d" stroke-width="1.4"/>
<text x="1684.8" y="1414.4" font-size="27.0" font-weight="bold" text-anchor="end" fill="#111" textLength="88.8" lengthAdjust="spacingAndGlyphs">Croatia</text>
<rect x="1863.6" y="1427.0" width="8.1" height="21.4" fill="#0CA74A" stroke="#1b242d" stroke-width="1.4"/>
<text x="1684.8" y="1450.2" font-size="27.0" font-weight="bold" text-anchor="end" fill="#111" textLength="104.6" lengthAdjust="spacingAndGlyphs">Slovakia</text>
<path d="M1863.6 23.5 V1454.6" stroke="#111" stroke-width="2"/>
<path d="M1681.5 734.6 H2073" stroke="#222" stroke-width="1.5"/>
<path d="M1668.2 1454.9 H2059.5" stroke="#111" stroke-width="2"/>
<text x="1669.3" y="1485.7" font-size="25.0" font-weight="bold" text-anchor="middle" fill="#111">-25</text>
<text x="1708.3" y="1485.7" font-size="25.0" font-weight="bold" text-anchor="middle" fill="#111">-20</text>
<text x="1747.2" y="1485.7" font-size="25.0" font-weight="bold" text-anchor="middle" fill="#111">-15</text>
<text x="1786.2" y="1485.7" font-size="25.0" font-weight="bold" text-anchor="middle" fill="#111">-10</text>
<text x="1825.1" y="1485.7" font-size="25.0" font-weight="bold" text-anchor="middle" fill="#111">-5</text>
<text x="1864.1" y="1485.7" font-size="25.0" font-weight="bold" text-anchor="middle" fill="#111">0</text>
<text x="1903.0" y="1485.7" font-size="25.0" font-weight="bold" text-anchor="middle" fill="#111">5</text>
<text x="1942.0" y="1485.7" font-size="25.0" font-weight="bold" text-anchor="middle" fill="#111">10</text>
<text x="1980.9" y="1485.7" font-size="25.0" font-weight="bold" text-anchor="middle" fill="#111">15</text>
<text x="2019.9" y="1485.7" font-size="25.0" font-weight="bold" text-anchor="middle" fill="#111">20</text>
<text x="2058.8" y="1485.7" font-size="25.0" font-weight="bold" text-anchor="middle" fill="#111">25</text>
<path d="M1668.8 1454.9 v-9.6 M1707.8 1454.9 v-9.6 M1746.8 1454.9 v-9.6 M1785.7 1454.9 v-9.6 M1824.6 1454.9 v-9.6 M1902.5 1454.9 v-9.6 M1941.5 1454.9 v-9.6 M1980.4 1454.9 v-9.6 M2019.4 1454.9 v-9.6 M2058.3 1454.9 v-9.6" stroke="#111" stroke-width="2"/>
<text x="1863.9" y="1517.7" font-size="28.3" font-weight="bold" text-anchor="middle" fill="#111" textLength="347.9" lengthAdjust="spacingAndGlyphs">Contribution to trade (%)</text>
<text x="1779.7" y="719.9" font-size="23.6" font-weight="bold" text-anchor="middle" fill="#111" textLength="78.8" lengthAdjust="spacingAndGlyphs">Export</text>
<text x="1975.4" y="719.9" font-size="23.6" font-weight="bold" text-anchor="middle" fill="#111" textLength="76.4" lengthAdjust="spacingAndGlyphs">Import</text>
<text transform="translate(1494.9 739.5) rotate(-90)" font-size="37" font-weight="bold" text-anchor="middle" fill="#111">Country</text>
<text x="2112.5" y="50.5" font-size="30.0" font-weight="bold" text-anchor="start" fill="#111">(f)</text>
<rect x="1901.4" y="159.7" width="27.9" height="21.9" fill="#B7D9EC" stroke="#777" stroke-width="1"/>
<rect x="1901.4" y="242.8" width="26.2" height="21.5" fill="#F6B80E" stroke="#777" stroke-width="1"/>
<rect x="1901.4" y="354.8" width="24.6" height="21.2" fill="#0CA74A" stroke="#777" stroke-width="1"/>
<rect x="1901.4" y="436.5" width="31.6" height="21.5" fill="#FCCACA" stroke="#777" stroke-width="1"/>
<text x="1936.0" y="168.3" font-size="23.5" font-weight="bold" text-anchor="start" fill="#111" textLength="205.0" lengthAdjust="spacingAndGlyphs">High-productivity</text>
<text x="1936.0" y="201.8" font-size="23.5" font-weight="bold" text-anchor="start" fill="#111" textLength="112.8" lengthAdjust="spacingAndGlyphs">exporting</text>
<text x="1940.4" y="250.6" font-size="23.5" font-weight="bold" text-anchor="start" fill="#111" textLength="199.5" lengthAdjust="spacingAndGlyphs">Low-productivity</text>
<text x="1940.4" y="284.2" font-size="23.5" font-weight="bold" text-anchor="start" fill="#111" textLength="112.8" lengthAdjust="spacingAndGlyphs">exporting</text>
<text x="1936.0" y="358.2" font-size="23.5" font-weight="bold" text-anchor="start" fill="#111" textLength="205.0" lengthAdjust="spacingAndGlyphs">High-productivity</text>
<text x="1936.0" y="390.8" font-size="23.5" font-weight="bold" text-anchor="start" fill="#111" textLength="114.2" lengthAdjust="spacingAndGlyphs">importing</text>
<text x="1940.4" y="440.0" font-size="23.5" font-weight="bold" text-anchor="start" fill="#111" textLength="199.5" lengthAdjust="spacingAndGlyphs">Low-productivity</text>
<text x="1947.0" y="473.5" font-size="23.5" font-weight="bold" text-anchor="start" fill="#111" textLength="114.2" lengthAdjust="spacingAndGlyphs">importing</text>
<g stroke="#0b0d12" stroke-linejoin="round" stroke-linecap="round">
<path d="M816.1 1053.1 L819.5 1054.3 L822.3 1055.6 L824.8 1056.2 L828.0 1058.1 L830.9 1058.1 L834.8 1058.7 L837.9 1060.2 L841.3 1061.1 L844.8 1061.2 L848.8 1061.6 L852.3 1063.7 L852.9 1067.5 L849.7 1068.8 L847.3 1069.3 L842.7 1069.0 L839.8 1068.1 L836.9 1066.9 L832.3 1066.9 L829.1 1067.2 L824.8 1065.0 L828.2 1066.8 L830.9 1070.5 L833.6 1071.8 L836.3 1073.8 L837.8 1074.6 L841.1 1075.6 L844.4 1074.9 L847.3 1073.7 L848.5 1070.9 L851.1 1070.0 L854.8 1068.1 L857.3 1067.5 L859.8 1064.4 L862.8 1063.3 L866.1 1061.2 L868.5 1060.4 L872.3 1060.0 L869.1 1060.9 L866.3 1063.8 L863.7 1066.8 L860.0 1067.4 L864.0 1067.2 L866.7 1065.8 L870.1 1064.1 L873.3 1062.4 L876.5 1060.4 L878.7 1062.3 L881.6 1060.8 L884.4 1059.7 L888.1 1060.2 L889.8 1060.1 L893.3 1059.1 L897.4 1060.2 L900.3 1058.7 L903.3 1058.3 L905.9 1057.4 L909.1 1056.5 L913.3 1057.4 L917.4 1056.5 L919.9 1054.9 L922.9 1055.5 L926.1 1055.6 L929.9 1055.8 L933.4 1056.1 L935.4 1057.3 L938.3 1057.4 L939.8 1055.1 L940.8 1052.2 L942.4 1050.0 L944.2 1048.3 L946.6 1045.0 L949.3 1043.8 L952.8 1044.0 L954.9 1041.6 L957.8 1043.2 L961.6 1044.1 L963.6 1047.0 L964.1 1050.0 L964.4 1053.7 L963.2 1056.6 L965.4 1059.5 L966.6 1061.6 L964.8 1063.1 L961.9 1064.1 L959.9 1066.6 L963.2 1065.3 L964.6 1064.6 L968.2 1064.1 L969.2 1061.2 L969.9 1056.6 L968.2 1054.6 L966.5 1051.3 L968.2 1048.3 L970.2 1046.6 L973.7 1046.6 L976.6 1045.0 L979.9 1045.2 L983.2 1048.3 L981.9 1052.3 L979.9 1054.9 L983.3 1056.7 L984.9 1059.9 L985.4 1055.0 L988.2 1053.3 L988.0 1050.1 L987.2 1047.9 L986.5 1045.0 L990.4 1042.6 L993.2 1041.6 L994.4 1045.3 L998.2 1047.5 L997.9 1051.5 L1000.7 1052.5 L1001.0 1048.5 L1000.7 1045.0 L1001.5 1041.6 L1004.4 1040.6 L1007.4 1038.5 L1009.9 1037.5 L1013.7 1036.9 L1016.7 1035.6 L1019.9 1034.1 L1023.7 1033.6 L1026.7 1033.9 L1029.8 1032.5 L1033.7 1032.0 L1036.5 1031.8 L1039.8 1030.8 L1042.6 1032.0 L1045.9 1031.2 L1049.1 1032.6 L1051.5 1031.6 L1054.9 1031.5 L1057.2 1031.5 L1059.8 1030.0 L1062.4 1029.8 L1066.0 1029.0 L1069.8 1029.1 L1073.5 1029.1 L1075.7 1029.6 L1078.5 1030.9 L1081.5 1030.0 L1083.9 1030.5 L1087.8 1030.2 L1090.0 1030.5 L1093.1 1030.8 L1096.2 1031.0 L1098.1 1032.0 L1101.4 1032.5 L1104.8 1035.3 L1101.9 1037.6 L1098.5 1036.7 L1095.1 1038.8 L1091.9 1038.8 L1089.8 1040.8 L1086.3 1041.6 L1084.2 1041.6 L1081.6 1043.2 L1078.2 1044.6 L1074.8 1044.6 L1077.6 1043.4 L1080.6 1044.5 L1084.4 1042.4 L1086.6 1043.3 L1089.5 1041.8 L1093.1 1041.3 L1096.9 1042.2 L1099.8 1039.5 L1103.1 1040.0 L1104.8 1044.1 L1106.9 1043.4 L1110.2 1041.8 L1113.1 1041.6 L1117.0 1041.9 L1119.5 1041.1 L1123.1 1042.5 L1126.7 1043.7 L1129.5 1043.5 L1133.1 1043.3 L1135.7 1041.6 L1139.7 1041.6 L1142.1 1042.8 L1145.4 1042.9 L1148.1 1042.5 L1149.5 1045.4 L1153.1 1046.0 L1154.7 1047.5 L1157.7 1046.9 L1159.7 1046.6 L1162.0 1048.6 L1164.7 1050.0 L1168.8 1049.2 L1171.4 1048.3 L1174.2 1048.1 L1177.3 1048.4 L1179.7 1049.1 L1183.1 1048.0 L1187.0 1049.6 L1189.7 1048.3 L1193.0 1048.4 L1196.3 1046.7 L1199.7 1047.5 L1202.8 1047.2 L1206.2 1045.9 L1209.7 1045.8 L1213.6 1046.5 L1216.7 1047.1 L1220.0 1045.0 L1222.8 1046.2 L1224.6 1048.7 L1227.4 1048.0 L1231.1 1048.8 L1233.8 1049.4 L1237.2 1048.8 L1239.6 1050.0 L1242.1 1050.5 L1246.0 1052.3 L1249.0 1052.4 L1251.3 1052.8 L1254.6 1052.5 L1257.8 1053.6 L1260.4 1053.9 L1264.6 1053.7 L1268.4 1054.4 L1271.2 1055.8 L1274.6 1056.2 L1278.3 1056.2 L1280.5 1055.2 L1283.9 1054.8 L1287.0 1054.9 L1289.4 1054.3 L1294.0 1053.6 L1297.2 1055.3 L1299.5 1053.7 L1302.7 1052.8 L1304.9 1054.5 L1308.9 1054.0 L1310.8 1054.8 L1314.5 1054.4 L1317.4 1055.6 L1321.5 1055.8 L1323.7 1055.4 L1327.0 1056.2 L1329.3 1056.6 L1332.0 1058.7 L1331.7 1061.3 L1333.8 1064.6 L1333.5 1067.3 L1332.0 1069.9 L1332.3 1072.5 L1329.9 1072.9 L1327.3 1073.7 L1323.9 1073.3 L1320.7 1073.1 L1318.5 1073.1 L1320.9 1073.8 L1323.9 1075.0 L1326.0 1076.2 L1328.9 1077.1 L1331.0 1078.7 L1330.4 1082.5 L1328.1 1082.3 L1324.6 1082.6 L1322.3 1083.1 L1318.1 1084.7 L1314.8 1085.0 L1311.4 1086.1 L1307.3 1086.9 L1305.1 1088.7 L1300.9 1088.4 L1298.5 1090.0 L1294.8 1090.4 L1292.3 1089.4 L1289.8 1088.7 L1285.1 1089.9 L1282.3 1090.6 L1279.5 1092.0 L1277.3 1091.8 L1274.9 1095.0 L1274.8 1097.5 L1274.1 1099.9 L1272.3 1103.1 L1271.1 1105.0 L1269.3 1107.7 L1267.3 1110.0 L1264.4 1113.0 L1262.3 1114.9 L1258.5 1117.8 L1256.1 1119.9 L1252.8 1121.1 L1251.1 1123.1 L1250.4 1120.7 L1249.1 1117.8 L1249.8 1114.9 L1249.7 1111.2 L1249.2 1107.5 L1248.9 1104.9 L1249.8 1101.2 L1251.2 1099.0 L1254.8 1097.5 L1257.8 1095.2 L1261.1 1093.7 L1264.8 1091.9 L1267.3 1090.0 L1270.3 1089.0 L1272.3 1086.2 L1273.5 1083.6 L1276.1 1083.1 L1277.9 1080.6 L1274.8 1080.6 L1272.9 1081.8 L1269.8 1082.5 L1267.5 1082.3 L1264.8 1083.7 L1263.6 1086.9 L1259.8 1084.4 L1257.1 1085.7 L1253.6 1085.0 L1251.0 1087.4 L1247.3 1088.7 L1246.4 1091.5 L1244.8 1093.1 L1241.4 1093.9 L1237.3 1093.7 L1234.6 1091.5 L1232.3 1093.1 L1229.0 1091.9 L1226.1 1091.8 L1222.7 1091.5 L1220.0 1093.2 L1217.4 1092.5 L1214.1 1092.5 L1210.9 1094.1 L1207.2 1091.8 L1204.9 1093.1 L1202.3 1094.2 L1199.9 1095.6 L1197.0 1097.0 L1193.6 1100.0 L1190.9 1102.9 L1187.4 1103.7 L1184.7 1106.4 L1182.6 1106.6 L1179.9 1108.7 L1182.9 1111.3 L1186.1 1111.8 L1189.3 1112.3 L1192.4 1111.2 L1195.2 1111.0 L1197.4 1113.7 L1200.1 1115.3 L1199.9 1118.7 L1198.7 1122.0 L1198.6 1124.9 L1196.3 1126.6 L1196.1 1129.9 L1194.7 1132.6 L1193.6 1134.9 L1190.2 1137.2 L1188.6 1139.9 L1185.2 1142.1 L1183.6 1144.9 L1180.7 1147.6 L1178.6 1149.9 L1175.8 1151.5 L1173.7 1153.0 L1171.4 1153.2 L1168.7 1152.4 L1164.9 1154.9 L1161.2 1153.7 L1157.4 1156.2 L1155.2 1158.3 L1152.4 1158.7 L1150.6 1160.9 L1147.4 1161.2 L1145.4 1163.2 L1143.7 1164.9 L1139.9 1166.2 L1137.3 1164.6 L1134.6 1162.5 L1132.4 1160.5 L1128.5 1160.6 L1124.9 1162.4 L1121.2 1164.9 L1118.1 1166.2 L1118.7 1170.5 L1121.9 1169.2 L1123.7 1171.8 L1125.8 1171.5 L1128.7 1171.1 L1131.8 1172.2 L1134.9 1173.6 L1131.5 1174.5 L1128.7 1174.9 L1127.0 1176.6 L1124.9 1178.6 L1124.1 1181.5 L1123.7 1183.6 L1125.8 1186.0 L1126.2 1188.6 L1128.2 1190.8 L1129.9 1192.4 L1131.3 1194.9 L1132.4 1197.4 L1131.6 1201.0 L1131.2 1203.6 L1129.6 1207.4 L1128.7 1209.9 L1127.0 1212.3 L1124.9 1216.1 L1123.4 1218.8 L1120.0 1221.1 L1117.4 1222.1 L1113.7 1224.8 L1110.8 1225.2 L1107.5 1226.7 L1105.1 1229.1 L1101.2 1228.0 L1097.8 1229.4 L1095.0 1229.8 L1091.9 1229.4 L1088.7 1231.1 L1085.6 1230.6 L1082.5 1229.8 L1080.0 1227.3 L1077.7 1225.1 L1075.0 1223.6 L1072.6 1221.9 L1070.0 1222.3 L1067.4 1223.6 L1064.9 1225.5 L1062.3 1224.8 L1059.5 1221.6 L1057.3 1219.8 L1054.2 1217.7 L1049.8 1217.3 L1047.6 1214.8 L1047.0 1213.2 L1046.0 1209.8 L1044.4 1206.9 L1042.3 1203.0 L1039.0 1202.8 L1036.1 1204.9 L1034.2 1207.6 L1029.8 1208.6 L1026.1 1208.6 L1023.6 1207.7 L1019.8 1208.6 L1017.3 1209.3 L1014.8 1208.6 L1011.8 1208.5 L1009.3 1206.6 L1007.3 1205.5 L1005.0 1204.0 L1002.1 1204.2 L999.8 1202.4 L996.3 1200.9 L993.6 1199.9 L989.9 1200.5 L989.9 1197.2 L988.6 1194.9 L985.7 1192.9 L984.9 1189.9 L986.1 1187.5 L986.1 1184.9 L985.5 1181.6 L987.4 1179.9 L984.3 1180.8 L981.1 1179.9 L979.4 1178.0 L976.1 1177.4 L974.8 1174.8 L972.4 1173.7 L970.9 1172.0 L968.6 1169.9 L967.4 1168.1 L964.3 1166.6 L962.4 1165.6 L959.9 1161.8 L957.0 1161.7 L954.9 1163.1 L952.2 1162.3 L949.9 1162.4 L947.4 1165.6 L946.8 1169.9 L945.0 1171.2 L943.0 1173.7 L939.9 1172.4 L938.1 1170.6 L934.9 1169.9 L931.1 1167.8 L928.7 1165.6 L924.3 1163.3 L922.4 1160.6 L920.0 1159.3 L917.4 1156.8 L915.0 1157.1 L911.2 1156.2 L908.6 1156.9 L906.2 1159.3 L902.0 1158.6 L899.9 1156.8 L898.1 1159.9 L894.7 1159.2 L892.4 1159.9 L889.2 1160.9 L884.5 1160.8 L881.8 1161.7 L878.1 1160.6 L875.1 1159.7 L872.5 1159.3 L869.3 1158.7 L867.5 1157.4 L863.6 1157.7 L861.2 1155.6 L858.2 1154.3 L855.0 1154.0 L854.8 1152.4 L851.3 1152.0 L850.3 1147.3 L847.3 1147.4 L844.8 1146.2 L841.1 1144.9 L837.6 1144.0 L834.8 1143.7 L836.8 1142.5 L838.6 1139.9 L842.3 1138.7 L845.5 1136.9 L847.3 1134.9 L847.3 1130.5 L844.0 1129.7 L842.3 1126.8 L838.4 1126.3 L834.8 1124.3 L833.3 1122.5 L829.0 1122.7 L827.3 1120.6 L824.4 1120.1 L821.2 1120.0 L818.6 1118.7 L818.6 1116.5 L819.9 1113.7 L817.9 1111.1 L816.7 1108.7 L813.8 1106.9 L809.9 1106.8 L808.1 1102.7 L806.1 1100.6 L806.6 1097.3 L806.7 1094.9 L808.0 1091.8 L808.6 1088.7 L810.4 1086.9 L813.6 1085.5 L816.1 1083.7 L816.9 1081.3 L819.2 1080.0 L817.4 1076.3 L814.9 1073.7 L813.4 1069.8 L812.4 1067.5 L811.9 1063.9 L810.5 1061.2 L811.1 1056.5 L813.8 1054.2Z" fill="#BBDA1C" stroke-width="1.68"/>
<path d="M136.2 1060.4 L138.8 1058.9 L142.4 1057.4 L145.6 1055.9 L148.7 1054.9 L151.2 1054.6 L154.9 1052.9 L157.5 1051.0 L162.4 1051.2 L165.1 1050.9 L168.7 1049.2 L170.9 1049.8 L174.8 1048.9 L177.5 1051.3 L179.9 1050.4 L183.4 1051.9 L185.7 1050.6 L189.1 1051.7 L192.4 1051.9 L196.0 1053.0 L199.1 1051.1 L201.6 1052.0 L204.9 1052.9 L208.0 1052.2 L211.0 1054.7 L213.3 1054.5 L216.1 1054.2 L219.9 1054.2 L222.6 1054.8 L226.1 1055.4 L228.9 1055.8 L232.2 1057.7 L234.9 1057.4 L238.3 1057.6 L240.8 1056.0 L243.6 1056.7 L246.5 1056.0 L249.5 1055.8 L252.3 1054.4 L255.6 1053.7 L258.3 1054.7 L262.3 1053.7 L266.3 1052.8 L269.8 1052.7 L273.2 1053.2 L275.2 1053.9 L278.6 1053.9 L281.6 1055.9 L285.1 1055.2 L287.3 1056.2 L290.5 1057.1 L294.3 1056.8 L297.3 1056.7 L299.7 1057.7 L304.2 1057.1 L307.3 1058.7 L310.8 1058.4 L314.8 1060.4 L317.7 1059.7 L321.9 1060.6 L324.8 1060.2 L327.3 1060.3 L331.4 1059.6 L334.8 1061.2 L337.5 1062.1 L341.0 1064.9 L342.4 1062.5 L346.0 1060.4 L349.5 1060.9 L351.3 1059.8 L353.9 1058.9 L357.2 1059.7 L359.9 1059.5 L364.0 1060.0 L366.8 1059.9 L369.7 1060.2 L372.6 1061.4 L375.8 1062.2 L379.7 1062.4 L384.1 1060.1 L387.2 1060.2 L392.1 1059.3 L394.7 1057.4 L397.6 1055.9 L401.0 1056.7 L403.6 1058.1 L404.7 1060.4 L407.1 1061.4 L409.7 1063.4 L411.8 1065.1 L413.4 1066.7 L415.3 1067.9 L417.2 1069.9 L413.4 1072.9 L411.0 1073.7 L407.2 1074.9 L402.7 1074.2 L399.7 1076.7 L395.8 1077.4 L392.7 1079.9 L390.3 1083.0 L387.2 1084.9 L385.7 1087.7 L385.2 1089.9 L386.7 1092.6 L387.2 1094.9 L389.3 1096.3 L392.2 1098.7 L395.1 1099.7 L399.7 1101.2 L404.1 1102.5 L407.2 1103.6 L410.6 1103.7 L414.7 1106.1 L419.4 1107.1 L422.2 1107.9 L424.6 1108.8 L428.4 1110.4 L429.2 1112.9 L430.9 1114.9 L433.4 1116.8 L432.2 1119.9 L435.9 1122.9 L439.7 1119.9 L439.7 1116.9 L438.4 1113.6 L437.4 1110.2 L437.2 1107.9 L439.2 1105.5 L442.2 1104.9 L444.3 1101.5 L447.2 1101.2 L448.4 1097.8 L447.7 1094.9 L445.5 1093.3 L443.9 1089.9 L443.7 1086.5 L443.4 1082.4 L443.8 1079.7 L445.9 1077.4 L448.0 1076.9 L450.9 1077.9 L453.8 1079.3 L457.2 1078.7 L460.6 1079.0 L464.6 1081.2 L467.3 1083.9 L469.6 1084.9 L469.8 1087.6 L470.2 1090.2 L470.9 1093.7 L474.4 1094.9 L475.9 1096.7 L479.1 1095.0 L482.1 1093.7 L484.9 1091.8 L487.1 1087.9 L487.8 1090.5 L490.9 1093.0 L492.1 1094.9 L494.7 1097.3 L497.1 1101.2 L498.3 1104.0 L501.5 1104.4 L503.4 1107.4 L506.3 1110.4 L509.6 1112.4 L512.9 1114.5 L514.6 1116.6 L517.7 1117.8 L519.6 1119.9 L516.4 1120.5 L514.6 1122.9 L511.7 1124.1 L507.3 1125.6 L504.3 1124.7 L500.9 1126.1 L498.4 1127.4 L495.3 1127.7 L492.1 1127.4 L488.4 1127.5 L484.6 1129.1 L481.6 1129.8 L478.9 1129.4 L475.9 1131.1 L471.2 1132.5 L468.4 1133.6 L471.8 1133.8 L474.6 1134.9 L477.4 1133.2 L482.1 1133.6 L485.0 1133.6 L487.6 1131.9 L487.0 1134.3 L484.6 1136.1 L487.0 1138.7 L487.1 1141.1 L490.2 1139.9 L493.4 1138.6 L497.3 1136.0 L500.9 1136.1 L502.8 1138.7 L504.6 1139.9 L501.8 1141.4 L498.4 1144.9 L495.5 1146.7 L493.6 1147.0 L490.9 1148.6 L488.5 1149.5 L485.9 1149.9 L484.6 1146.1 L482.4 1148.2 L479.6 1148.6 L477.0 1150.7 L474.6 1152.4 L472.2 1154.2 L470.9 1156.1 L468.4 1157.3 L464.9 1157.6 L462.1 1161.1 L459.9 1162.1 L457.2 1163.6 L454.5 1165.1 L449.7 1166.1 L447.5 1167.1 L445.9 1169.8 L445.8 1172.8 L444.7 1174.8 L443.7 1179.4 L445.2 1182.3 L442.3 1184.5 L439.7 1184.8 L437.8 1186.4 L434.7 1188.6 L433.6 1191.7 L433.4 1196.1 L434.2 1198.5 L434.9 1201.9 L435.9 1204.8 L436.6 1208.8 L437.2 1212.3 L434.7 1216.3 L432.2 1213.5 L432.0 1209.1 L429.7 1206.1 L429.7 1202.7 L428.4 1198.6 L425.9 1202.3 L423.2 1199.9 L420.9 1197.8 L417.5 1199.3 L414.7 1199.8 L410.6 1199.7 L407.2 1198.6 L404.6 1198.5 L402.2 1201.1 L397.9 1201.0 L394.7 1199.8 L390.9 1199.2 L388.6 1201.9 L386.0 1202.3 L382.9 1203.4 L379.7 1207.3 L379.0 1210.2 L377.8 1212.1 L376.0 1214.8 L374.0 1212.9 L371.8 1211.1 L369.9 1209.4 L367.2 1207.3 L364.6 1203.4 L362.2 1201.1 L358.1 1199.6 L354.7 1201.1 L350.9 1199.8 L348.5 1197.3 L345.5 1194.5 L342.8 1193.0 L339.8 1192.3 L336.3 1192.7 L333.3 1193.6 L330.5 1193.7 L327.3 1192.9 L323.5 1193.6 L320.9 1193.3 L316.9 1191.9 L313.2 1192.3 L311.0 1190.6 L309.4 1188.1 L306.0 1186.1 L304.5 1183.1 L301.0 1181.1 L298.6 1178.8 L296.0 1176.1 L294.3 1173.3 L291.1 1169.8 L287.9 1166.8 L287.3 1163.6 L287.5 1160.1 L284.8 1157.3 L284.1 1153.8 L284.3 1151.1 L285.3 1147.3 L286.1 1144.9 L288.6 1142.3 L288.6 1139.9 L289.0 1136.7 L289.8 1134.9 L288.2 1131.6 L284.8 1131.1 L282.4 1129.0 L278.6 1127.4 L275.2 1124.6 L272.3 1123.6 L268.3 1121.5 L266.1 1118.6 L263.0 1116.2 L261.1 1113.6 L258.2 1114.6 L256.1 1114.9 L254.2 1112.0 L252.3 1108.6 L250.5 1106.1 L248.6 1104.2 L246.1 1102.4 L243.4 1100.6 L239.9 1097.4 L237.3 1095.5 L235.2 1093.1 L232.4 1092.4 L229.8 1089.3 L226.1 1089.9 L222.8 1088.6 L219.9 1089.4 L216.9 1088.6 L213.1 1088.1 L209.9 1087.4 L206.5 1086.8 L204.0 1087.2 L199.9 1087.4 L195.6 1088.6 L192.4 1088.7 L189.8 1089.8 L187.4 1091.2 L184.0 1092.8 L179.9 1093.7 L179.6 1096.7 L178.7 1098.7 L176.2 1097.3 L173.6 1097.1 L169.9 1097.4 L167.2 1098.1 L163.6 1099.1 L159.9 1101.2 L157.2 1102.5 L152.9 1105.2 L149.9 1106.1 L146.2 1106.8 L144.2 1109.7 L140.7 1110.9 L138.7 1112.4 L135.5 1112.8 L133.2 1113.4 L130.0 1115.4 L133.4 1113.3 L136.2 1111.1 L139.7 1109.5 L141.7 1107.5 L144.9 1104.9 L147.5 1103.1 L150.3 1102.2 L151.9 1100.2 L154.9 1098.7 L157.4 1097.7 L159.7 1095.6 L162.4 1093.7 L159.6 1091.2 L154.9 1091.2 L152.0 1090.4 L147.4 1088.7 L143.9 1086.1 L141.2 1084.9 L144.5 1083.7 L147.4 1081.2 L145.4 1079.5 L142.4 1077.4 L140.8 1073.6 L138.7 1071.2 L142.2 1071.1 L146.2 1069.9 L148.4 1068.3 L152.4 1067.4 L149.5 1066.2 L146.8 1065.3 L143.7 1064.2 L141.1 1062.8 L139.3 1061.8Z" fill="#CFE5F3" stroke-width="1.68"/>
<path d="M239.9 1093.7 L241.9 1095.6 L245.1 1097.0 L246.1 1099.9 L248.6 1102.6 L250.3 1104.7 L252.3 1107.4 L255.2 1108.6 L255.2 1112.2 L257.8 1114.4 L261.1 1116.4 L264.8 1117.9 L267.8 1119.1 L270.2 1120.5 L271.8 1122.9 L275.2 1124.5 L278.6 1126.9 L282.6 1128.2 L285.3 1131.1 L287.9 1132.4 L289.3 1135.4" fill="none" stroke-width="3.58"/>
<path d="M244.8 1094.9 L247.9 1098.0 L250.4 1099.2 L252.4 1103.0 L254.8 1104.9 L257.2 1106.9 L258.0 1109.4 L259.8 1112.4" fill="none" stroke-width="3.36"/>
<path d="M445.2 1167.3 L444.0 1170.3 L443.4 1174.8 L443.8 1178.4 L444.7 1181.1" fill="none" stroke-width="2.91"/>
<path d="M479.6 1148.6 L482.8 1148.2 L485.5 1147.4 L489.6 1147.4 L492.6 1145.8 L495.8 1143.8 L499.6 1142.6 L502.1 1141.1" fill="none" stroke-width="2.69"/>
<path d="M226.1 1055.4 L226.1 1089.9" fill="none" stroke-width="1.45"/>
<path d="M291.1 1130.4 L383.5 1130.4 L385.2 1131.9 L388.5 1131.6 L391.5 1132.9 L394.7 1132.4 L399.0 1133.7 L402.2 1132.9 L404.5 1134.3 L408.4 1134.1 L411.5 1135.9 L414.7 1137.4 L417.7 1139.4 L419.7 1141.1 L420.7 1143.9 L423.4 1146.1 L424.4 1149.5 L425.9 1152.4 L425.9 1156.1 L429.7 1155.2 L432.2 1154.9 L435.8 1153.6 L438.4 1152.4 L442.0 1151.1 L444.7 1148.6 L447.5 1147.9 L450.9 1146.1 L454.4 1146.3 L457.2 1144.9 L459.9 1142.7 L464.6 1143.6 L466.4 1141.5 L468.4 1138.6 L469.6 1134.9" fill="none" stroke-width="1.45"/>
<path d="M507.6 1131.1 L509.6 1129.6 L513.6 1127.9 L515.8 1126.9 L518.1 1127.6 L521.4 1127.7 L523.9 1128.2 L527.1 1127.4 L530.2 1129.9 L531.1 1132.9 L529.8 1136.0 L529.6 1139.4 L525.5 1137.9 L522.1 1137.4 L519.8 1139.1 L515.8 1139.9 L513.1 1138.6 L510.1 1136.9 L508.7 1133.8Z" fill="#CFE5F3" stroke-width="2.46"/>
<path d="M320.3 1193.6 L323.5 1193.6 L327.3 1192.9 L330.5 1193.7 L333.3 1193.6 L336.3 1192.7 L339.8 1192.3 L342.8 1193.0 L345.5 1194.5 L348.5 1197.3 L350.9 1199.8 L354.7 1201.1 L358.1 1199.6 L362.2 1201.1 L364.6 1203.4 L367.2 1207.3 L369.9 1209.4 L371.8 1211.1 L374.0 1212.9 L376.0 1214.8 L376.5 1218.3 L376.0 1222.3 L376.3 1225.8 L377.2 1229.8 L379.4 1232.6 L381.0 1236.0 L384.5 1238.5 L387.2 1241.0 L390.4 1242.6 L393.5 1242.3 L397.2 1241.8 L399.7 1238.5 L401.6 1235.5 L402.2 1232.3 L405.1 1231.3 L407.2 1229.8 L410.4 1230.8 L412.7 1231.0 L411.1 1235.0 L410.9 1238.5 L409.5 1241.2 L407.7 1244.8 L405.6 1244.5 L402.2 1244.8 L398.5 1247.3 L396.8 1249.6 L395.2 1251.8 L391.6 1252.8 L391.0 1248.7 L387.2 1248.5 L383.8 1248.8 L379.7 1249.8 L375.4 1248.5 L372.5 1247.0 L369.7 1244.8 L367.1 1242.5 L363.3 1242.6 L359.7 1241.0 L356.8 1239.6 L354.1 1237.2 L351.0 1234.8 L349.9 1232.2 L348.5 1230.3 L347.3 1227.3 L344.7 1224.8 L343.5 1222.7 L342.3 1219.8 L339.7 1216.1 L337.3 1213.5 L335.0 1209.7 L332.3 1207.3 L329.9 1203.5 L327.8 1201.1 L326.4 1198.8 L324.3 1196.8 L322.4 1195.8Z" fill="#BBDA1C" stroke-width="1.55"/>
<path d="M311.0 1190.6 L313.2 1192.6 L316.0 1192.3 L318.0 1195.0 L318.5 1198.6 L318.9 1201.4 L320.7 1203.1 L321.8 1206.1 L322.4 1209.7 L323.8 1211.9 L326.0 1213.5 L328.4 1217.6 L331.0 1219.8 L332.4 1221.8 L334.8 1223.5 L331.8 1224.8 L331.6 1221.3 L328.2 1219.5 L326.0 1218.5 L324.2 1216.2 L321.6 1213.8 L321.0 1211.0 L320.5 1207.4 L318.5 1205.7 L316.8 1203.6 L315.3 1199.6 L314.3 1196.8 L313.1 1193.6Z" fill="#BBDA1C" stroke-width="1.55"/>
<path d="M395.2 1251.8 L396.8 1249.6 L398.5 1247.3 L402.2 1244.8 L405.6 1244.5 L407.7 1244.8 L409.7 1248.5 L413.5 1249.3 L417.2 1249.8 L419.8 1250.0 L421.7 1252.3 L419.3 1253.9 L417.2 1256.0 L414.8 1257.0 L412.2 1258.5 L408.5 1257.3 L405.9 1257.3 L402.6 1255.7 L399.7 1256.0 L396.8 1254.7Z" fill="#FCD3D5" stroke-width="1.55"/>
<path d="M412.2 1258.5 L414.8 1257.0 L417.2 1256.0 L419.3 1253.9 L421.7 1252.3 L421.4 1256.7 L422.7 1259.8 L422.1 1264.0 L420.9 1267.2 L417.7 1267.2 L415.9 1266.0 L413.4 1262.3Z" fill="#F8AF14" stroke-width="1.55"/>
<path d="M415.9 1266.0 L417.7 1267.2 L420.9 1267.2 L422.7 1270.0 L425.9 1272.2 L422.2 1273.5 L419.7 1272.0 L417.2 1269.7Z" fill="#BBDA1C" stroke-width="1.55"/>
<path d="M425.9 1272.2 L429.0 1273.1 L432.2 1274.2 L434.8 1273.8 L438.4 1273.5 L440.9 1276.7 L438.2 1275.0 L434.7 1277.2 L431.0 1277.4 L428.4 1276.0 L424.9 1274.4 L422.2 1273.5Z" fill="#FFFFFF" stroke-width="1.55"/>
<path d="M420.9 1226.0 L423.4 1226.8 L427.0 1224.5 L429.7 1224.8 L433.2 1225.0 L436.6 1227.0 L439.7 1227.3 L443.4 1227.9 L446.5 1230.5 L449.7 1231.0 L453.0 1232.7 L455.8 1233.9 L458.4 1234.8 L462.5 1236.1 L464.6 1238.5 L461.7 1239.7 L458.1 1238.8 L455.9 1238.5 L453.2 1238.4 L449.9 1236.8 L447.2 1234.8 L443.8 1234.6 L440.8 1234.9 L437.2 1232.3 L434.9 1232.1 L431.8 1231.6 L428.4 1231.0 L425.8 1231.0 L422.2 1229.8Z" fill="#FFFFFF" stroke-width="1.79"/>
<path d="M462.1 1237.3 L465.7 1237.1 L468.3 1236.5 L472.1 1236.0 L474.9 1238.5 L477.1 1239.8 L474.7 1240.8 L470.9 1242.3 L468.0 1242.5 L463.4 1241.8Z" fill="#FFFFFF" stroke-width="1.79"/>
<path d="M440.9 1242.3 L443.4 1242.1 L445.9 1242.8" fill="none" stroke-width="2.80"/>
<path d="M480.9 1242.3 L483.6 1241.9 L485.9 1242.3" fill="none" stroke-width="2.24"/>
<path d="M439.7 1211.0 L441.8 1213.1 L444.7 1216.0 L447.6 1218.5 L449.2 1221.0 L451.3 1224.4 L453.4 1226.0" fill="none" stroke-width="1.68"/>
<circle cx="499.6" cy="1244.8" r="1.0" fill="#0b0d12" stroke="none"/>
<circle cx="501.6" cy="1249.8" r="1.0" fill="#0b0d12" stroke="none"/>
<circle cx="502.6" cy="1254.8" r="1.0" fill="#0b0d12" stroke="none"/>
<circle cx="502.1" cy="1259.8" r="1.0" fill="#0b0d12" stroke="none"/>
<circle cx="504.6" cy="1263.5" r="1.0" fill="#0b0d12" stroke="none"/>
<circle cx="489.6" cy="1189.8" r="1.0" fill="#0b0d12" stroke="none"/>
<circle cx="614.5" cy="1167.3" r="1.0" fill="#0b0d12" stroke="none"/>
<circle cx="449.7" cy="1214.8" r="1.0" fill="#0b0d12" stroke="none"/>
<path d="M161.9 1228.5 L166.2 1229.8" fill="none" stroke-width="2.24"/>
<path d="M169.9 1232.3 L172.9 1233.5" fill="none" stroke-width="2.24"/>
<path d="M174.9 1235.3 L178.7 1237.8" fill="none" stroke-width="2.91"/>
<path d="M97.5 1119.9 L101.5 1120.1 L105.0 1119.1 L108.1 1119.2 L111.3 1119.4 L115.0 1118.1" fill="none" stroke-width="2.46"/>
<path d="M120.0 1116.9 L123.7 1116.6 L127.3 1114.8 L130.0 1114.9" fill="none" stroke-width="2.02"/>
<path d="M112.5 1088.7 L114.7 1089.9 L117.5 1089.4" fill="none" stroke-width="1.79"/>
<path d="M125.0 1076.2 L127.8 1076.8 L130.7 1076.8 L133.7 1077.9" fill="none" stroke-width="2.02"/>
<path d="M91.2 1058.7 L94.7 1057.5 L98.7 1057.4 L101.7 1059.8 L104.4 1063.2 L107.5 1063.7 L110.3 1063.8 L113.0 1064.8 L117.1 1065.8 L120.0 1066.2 L123.6 1068.0 L126.2 1068.7 L122.7 1069.4 L119.8 1070.6 L117.5 1071.2 L115.4 1069.8 L112.2 1069.9 L108.7 1069.9 L105.1 1069.3 L102.8 1068.5 L98.7 1067.4 L96.3 1068.9 L94.1 1069.4 L91.2 1071.2 L90.6 1068.2 L91.1 1064.4 L90.5 1061.9Z" fill="#BBDA1C" stroke-width="1.79"/>
<path d="M91.2 1048.7 L93.6 1048.7 L97.3 1050.7 L100.0 1049.4" fill="none" stroke-width="2.69"/>
<path d="M278.7 1046.2 L281.1 1043.9 L282.5 1039.3 L286.1 1038.1 L289.9 1037.7 L292.5 1037.7 L295.6 1038.3 L298.7 1038.9 L302.5 1038.7 L305.2 1039.9 L307.3 1041.3 L311.2 1041.2 L309.1 1043.5 L307.5 1045.0 L304.4 1045.6 L300.0 1046.2 L297.6 1047.0 L295.0 1049.3 L292.5 1049.2 L288.6 1048.3 L286.2 1048.7 L282.0 1047.1Z" fill="#CFE5F3" stroke-width="2.58"/>
<path d="M305.0 1047.5 L307.1 1046.0 L309.9 1046.2 L312.5 1043.7 L315.3 1043.8 L319.3 1043.1 L322.5 1043.1 L325.6 1043.4 L328.4 1044.1 L332.4 1045.0 L335.6 1043.1 L339.9 1042.5 L343.4 1040.8 L347.4 1041.2 L350.0 1043.1 L351.2 1045.0 L352.1 1047.7 L352.4 1049.9 L354.4 1051.7 L356.2 1054.9 L352.7 1056.9 L349.9 1058.7 L346.8 1059.4 L344.2 1060.4 L339.9 1060.6 L337.0 1061.6 L332.7 1058.7 L329.9 1059.3 L325.9 1059.5 L323.3 1058.9 L320.0 1059.9 L315.5 1058.2 L312.5 1057.4 L309.8 1056.1 L307.5 1052.4 L307.6 1049.9Z" fill="#CFE5F3" stroke-width="2.58"/>
<path d="M287.5 1031.8 L290.1 1030.5 L292.0 1029.6 L295.0 1028.7 L299.0 1027.6 L300.9 1027.9 L305.0 1026.8 L308.9 1025.6 L312.3 1024.8 L315.0 1024.3 L318.4 1025.0 L320.8 1023.3 L324.9 1023.1 L328.0 1024.1 L331.2 1023.2 L334.9 1023.5 L332.4 1026.8 L336.8 1028.5 L339.9 1028.7 L343.8 1030.7 L347.4 1031.2 L345.6 1033.5 L344.9 1035.6 L341.9 1035.8 L337.5 1035.4 L334.9 1036.8 L331.0 1035.9 L328.9 1035.1 L324.9 1035.0 L322.0 1035.9 L319.8 1037.0 L317.5 1038.1 L313.8 1037.3 L311.2 1037.6 L307.5 1036.2 L303.7 1034.7 L301.1 1034.6 L297.5 1035.0 L293.0 1035.0 L290.0 1034.0Z" fill="#CFE5F3" stroke-width="3.14"/>
<path d="M348.7 1021.2 L351.2 1021.2 L354.9 1021.5 L357.4 1020.0 L360.3 1020.7 L363.5 1020.4 L367.4 1021.9 L369.9 1022.4 L373.9 1023.3 L376.2 1024.3 L376.6 1027.5 L378.6 1031.2 L376.5 1033.5 L376.2 1035.6 L373.6 1035.8 L370.7 1035.9 L367.4 1035.0 L363.7 1035.8 L360.1 1033.9 L357.4 1032.5 L353.5 1030.7 L351.2 1027.5 L350.4 1024.4Z" fill="#CFE5F3" stroke-width="3.14"/>
<path d="M358.0 1043.7 L360.4 1041.9 L362.4 1040.6 L365.7 1039.8 L369.9 1039.3 L373.8 1040.3 L377.4 1041.2 L379.2 1043.9 L379.9 1046.2 L377.6 1048.5 L376.2 1049.9 L372.9 1050.2 L368.7 1050.6 L364.8 1050.8 L361.2 1048.1 L358.8 1046.0Z" fill="#CFE5F3" stroke-width="2.91"/>
<path d="M378.6 1017.5 L382.4 1015.1 L385.9 1015.1 L388.6 1013.7 L392.2 1014.3 L394.5 1012.3 L397.9 1011.7 L401.1 1010.6 L404.9 1010.2 L407.8 1010.1 L409.8 1009.3 L413.8 1009.5 L416.3 1010.7 L419.9 1008.1 L423.7 1007.6 L426.7 1007.4 L429.7 1007.0 L432.5 1007.6 L435.8 1006.8 L439.0 1006.5 L441.4 1007.6 L444.8 1006.9 L447.5 1006.0 L450.6 1006.5 L453.8 1004.9 L456.6 1005.9 L460.4 1006.1 L464.2 1006.2 L466.2 1005.8 L469.8 1006.2 L472.4 1005.0 L476.4 1005.9 L479.4 1005.3 L482.2 1006.3 L486.0 1005.9 L488.5 1006.5 L492.7 1006.4 L495.8 1006.0 L498.3 1008.1 L502.3 1008.7 L502.0 1010.9 L499.8 1013.1 L497.1 1013.9 L493.4 1014.6 L489.8 1015.6 L486.9 1016.1 L484.3 1018.5 L482.3 1020.0 L479.0 1021.2 L474.8 1021.9 L471.7 1023.4 L468.9 1024.6 L464.8 1024.3 L461.8 1023.5 L458.6 1024.5 L454.8 1025.6 L451.1 1026.3 L448.7 1027.7 L444.8 1030.0 L442.4 1031.1 L440.3 1032.0 L437.3 1033.7 L434.8 1037.5 L432.2 1036.4 L429.3 1037.2 L426.3 1036.3 L423.5 1036.9 L419.9 1037.5 L417.1 1037.3 L413.6 1038.1 L410.8 1036.8 L407.4 1036.8 L404.3 1036.7 L401.8 1036.6 L397.7 1035.9 L394.9 1035.0 L391.1 1034.8 L388.5 1033.2 L385.9 1032.9 L382.4 1032.5 L381.3 1028.9 L379.9 1026.2 L381.0 1023.4 L382.4 1021.2 L380.1 1019.9Z" fill="#CFE5F3" stroke-width="2.91"/>
<path d="M402.4 1046.2 L405.4 1044.1 L407.4 1041.8 L411.2 1041.1 L414.7 1041.1 L417.4 1040.6 L421.3 1041.1 L424.0 1042.0 L427.4 1042.5 L430.5 1042.7 L434.6 1040.3 L437.3 1041.2 L440.1 1042.1 L445.1 1041.8 L447.3 1043.7 L450.0 1044.5 L453.3 1047.0 L457.3 1047.5 L459.8 1049.3 L463.6 1048.6 L467.3 1049.9 L469.8 1050.5 L473.4 1052.5 L476.1 1053.7 L479.7 1055.6 L482.3 1058.7 L486.1 1060.4 L489.6 1060.4 L492.3 1062.4 L495.8 1063.8 L497.6 1065.6 L501.0 1066.8 L498.5 1068.2 L494.8 1069.9 L492.4 1069.5 L489.8 1071.8 L490.0 1075.3 L487.3 1077.4 L487.4 1079.9 L489.8 1082.4 L486.6 1083.3 L482.3 1083.7 L479.6 1081.3 L476.9 1080.6 L474.8 1079.9 L472.3 1077.3 L469.3 1076.3 L467.3 1074.9 L464.8 1074.1 L462.1 1071.5 L459.8 1071.2 L456.8 1070.8 L452.3 1069.9 L448.9 1071.0 L444.8 1072.4 L443.7 1069.7 L442.3 1067.4 L446.4 1065.5 L447.3 1062.4 L445.5 1059.7 L441.6 1059.9 L439.8 1058.7 L435.6 1058.0 L432.3 1057.4 L432.0 1060.6 L429.9 1062.4 L427.5 1063.2 L424.9 1064.9 L420.2 1063.6 L417.4 1062.4 L415.6 1060.6 L413.6 1057.4 L410.1 1055.5 L407.4 1053.7 L406.5 1050.5 L403.6 1049.9Z" fill="#CFE5F3" stroke-width="2.69"/>
<path d="M411.1 1068.7 L414.9 1068.6 L417.4 1067.1 L419.9 1066.2 L424.5 1067.0 L427.4 1068.7 L426.3 1071.1 L426.1 1074.9 L422.8 1077.1 L419.9 1076.2 L415.9 1075.6 L413.6 1073.7 L411.6 1071.4Z" fill="#CFE5F3" stroke-width="2.24"/>
<path d="M382.4 1018.7 L384.9 1018.5 L388.3 1017.6 L392.3 1017.9 L394.9 1016.9 L398.0 1016.0 L401.3 1015.1 L404.7 1014.7 L407.4 1015.0 L410.3 1014.2 L413.0 1015.7 L417.0 1014.4 L419.8 1014.2 L422.4 1013.5 L426.1 1013.7 L429.3 1014.7 L432.2 1011.7 L435.9 1013.0 L437.8 1012.9 L441.8 1011.9 L444.8 1012.5 L447.7 1013.9 L450.8 1012.4 L454.9 1012.3 L457.5 1014.0 L462.0 1013.3 L464.8 1013.7 L468.5 1012.1 L471.8 1012.5 L475.4 1013.0 L479.1 1013.3 L482.3 1012.5" fill="none" stroke-width="2.91"/>
<path d="M388.6 1023.7 L391.9 1023.2 L394.5 1022.8 L397.8 1023.0 L401.1 1021.9 L404.4 1023.1 L407.1 1020.3 L410.9 1020.9 L413.6 1020.0 L417.6 1018.8 L419.4 1020.8 L423.4 1020.9 L426.1 1021.2 L430.0 1020.4 L431.6 1020.4 L435.6 1021.1 L438.6 1020.0 L441.1 1019.7 L444.5 1019.3 L448.7 1018.8 L451.1 1018.7" fill="none" stroke-width="2.91"/>
<path d="M394.9 1030.0 L398.2 1029.6 L400.9 1028.7 L404.7 1028.7 L407.4 1028.7 L410.3 1028.2 L413.3 1030.2 L416.9 1028.7 L419.9 1030.6 L423.2 1029.1 L425.8 1030.0 L428.8 1029.2 L432.3 1028.7 L433.9 1031.7 L436.1 1032.5" fill="none" stroke-width="2.91"/>
<path d="M407.4 1025.0 L409.8 1026.6 L410.4 1030.2 L413.6 1032.5 L416.4 1032.9 L420.1 1032.9 L423.4 1034.4 L426.1 1035.0" fill="none" stroke-width="2.91"/>
<path d="M413.6 1017.5 L415.8 1019.6 L417.7 1022.9 L419.9 1025.0 L423.4 1025.1 L427.5 1024.9 L429.9 1026.2 L432.2 1024.4 L434.8 1022.5" fill="none" stroke-width="2.91"/>
<path d="M295.0 1032.5 L297.6 1032.6 L301.8 1032.5 L303.9 1031.5 L307.5 1031.2 L310.0 1031.6 L313.0 1030.4 L316.9 1030.3 L319.1 1030.4 L322.5 1030.0 L325.8 1030.5 L328.5 1031.9 L332.3 1032.8 L334.9 1032.5" fill="none" stroke-width="2.91"/>
<path d="M354.9 1025.0 L358.9 1025.5 L361.1 1027.6 L364.9 1027.5 L368.5 1027.3 L370.8 1029.4 L374.9 1030.0" fill="none" stroke-width="2.91"/>
<path d="M442.3 1045.0 L445.1 1047.3 L448.3 1048.5 L453.1 1048.0 L454.8 1051.2 L457.3 1052.4 L461.4 1054.4 L463.4 1055.5 L467.3 1054.9 L470.2 1055.8 L472.7 1057.9 L475.6 1059.5 L479.8 1059.9 L482.8 1061.8 L484.3 1063.3 L487.2 1064.5 L489.8 1066.2" fill="none" stroke-width="2.91"/>
<path d="M457.3 1059.9 L460.3 1061.1 L463.3 1061.4 L464.3 1063.8 L467.0 1065.5 L469.8 1067.4 L472.1 1069.0 L475.1 1070.1 L477.8 1072.1 L480.1 1072.8 L482.3 1074.9" fill="none" stroke-width="2.91"/>
<path d="M313.7 1051.2 L316.8 1052.9 L320.8 1052.3 L323.7 1052.4" fill="none" stroke-width="2.91"/>
<path d="M310.0 1054.9 L313.1 1055.2 L316.4 1053.8 L320.0 1054.9" fill="none" stroke-width="2.91"/>
<path d="M362.4 1045.0 L367.2 1045.5 L369.9 1043.7 L372.1 1045.4 L374.9 1046.2 L372.7 1046.5 L369.9 1048.1" fill="none" stroke-width="2.91"/>
<circle cx="424.9" cy="1081.2" r="1.8" fill="#0b0d12" stroke="none"/>
<circle cx="437.3" cy="1083.0" r="1.8" fill="#0b0d12" stroke="none"/>
<circle cx="438.6" cy="1104.3" r="1.8" fill="#0b0d12" stroke="none"/>
<circle cx="432.3" cy="1116.1" r="1.8" fill="#0b0d12" stroke="none"/>
<circle cx="476.7" cy="1089.3" r="1.8" fill="#0b0d12" stroke="none"/>
<circle cx="369.3" cy="1018.1" r="1.8" fill="#0b0d12" stroke="none"/>
<path d="M463.7 1025.0 L465.1 1022.3 L469.7 1022.4 L470.9 1021.0 L474.8 1021.5 L477.5 1020.0 L480.3 1019.5 L483.9 1019.2 L485.4 1017.1 L489.9 1017.8 L491.7 1016.0 L494.9 1015.0 L498.3 1015.3 L501.3 1012.8 L505.1 1013.5 L508.5 1011.1 L511.6 1010.7 L514.9 1010.5 L518.2 1011.1 L522.0 1009.8 L525.6 1009.6 L528.0 1008.3 L531.1 1007.9 L534.9 1008.0 L537.7 1008.1 L542.4 1007.7 L544.6 1007.4 L547.4 1006.2 L552.2 1006.6 L554.9 1006.2 L558.4 1005.4 L560.8 1006.6 L565.2 1006.2 L568.4 1006.3 L572.2 1006.5 L574.9 1005.5 L578.0 1005.3 L581.0 1005.0 L584.9 1005.1 L588.8 1004.2 L592.4 1005.9 L594.9 1005.0 L598.8 1004.1 L600.8 1005.9 L604.5 1004.9 L608.7 1005.5 L612.0 1005.1 L614.8 1006.2 L618.8 1007.1 L621.5 1006.9 L624.3 1007.5 L628.9 1007.6 L631.2 1006.0 L634.8 1008.7 L639.1 1008.7 L642.5 1009.0 L644.9 1009.3 L648.5 1010.7 L652.3 1010.5 L655.9 1011.2 L659.3 1010.1 L662.4 1011.2 L666.2 1010.6 L668.5 1012.5 L665.2 1011.5 L663.4 1015.0 L659.8 1016.2 L657.6 1017.6 L654.9 1019.2 L652.3 1020.0 L650.2 1022.0 L648.0 1023.6 L647.3 1027.5 L646.6 1030.3 L645.1 1032.3 L643.6 1035.0 L642.2 1038.6 L638.8 1039.3 L637.3 1042.5 L635.2 1044.7 L633.4 1046.9 L629.8 1048.7 L626.2 1050.5 L623.5 1052.0 L619.8 1053.7 L618.1 1055.2 L614.9 1056.1 L612.3 1057.4 L608.5 1058.9 L605.5 1058.8 L602.3 1061.2 L599.2 1063.8 L595.4 1064.8 L592.4 1066.2 L588.1 1066.8 L585.7 1068.9 L582.4 1069.9 L580.0 1071.1 L577.3 1072.7 L574.9 1074.9 L572.8 1079.4 L569.9 1081.2 L567.8 1084.4 L564.9 1086.2 L562.4 1089.4 L559.8 1089.8 L556.1 1088.7 L552.7 1086.1 L551.1 1083.7 L548.8 1081.7 L544.9 1079.9 L541.4 1077.2 L539.9 1073.7 L538.5 1071.2 L536.2 1067.4 L535.3 1064.6 L535.2 1061.1 L532.4 1059.9 L529.8 1057.9 L527.4 1053.7 L526.3 1050.5 L524.3 1049.2 L523.7 1046.2 L521.6 1044.4 L517.0 1041.9 L514.9 1040.0 L510.5 1039.4 L507.5 1036.9 L504.9 1035.0 L502.1 1034.8 L498.2 1033.2 L494.9 1034.2 L492.5 1032.5 L489.5 1031.2 L486.6 1031.0 L482.5 1032.3 L480.0 1031.2 L476.5 1030.0 L472.8 1031.4 L470.0 1030.0 L467.3 1027.1Z" fill="#FFFFFF" stroke-width="1.79"/>
<path d="M629.8 1069.9 L633.5 1069.1 L637.3 1067.4 L639.9 1067.9 L643.9 1067.9 L647.3 1066.9 L650.9 1067.3 L654.7 1065.0 L657.3 1067.4 L660.0 1069.8 L663.5 1069.9 L661.0 1071.5 L659.8 1074.9 L657.3 1075.0 L654.2 1076.5 L651.1 1077.4 L647.5 1077.4 L644.6 1076.0 L641.1 1076.9 L636.6 1075.9 L633.6 1074.4 L631.0 1072.0Z" fill="#F8AF14" stroke-width="2.02"/>
<path d="M749.7 1020.0 L753.0 1019.1 L755.7 1020.6 L758.7 1018.5 L762.2 1017.5 L765.2 1018.7 L767.9 1019.1 L771.8 1017.7 L774.7 1018.7 L777.0 1018.0 L780.8 1017.9 L783.3 1017.6 L787.2 1016.0 L789.7 1017.0 L792.6 1016.8 L796.1 1018.7 L798.8 1019.0 L801.0 1019.6 L804.7 1018.7 L802.9 1021.0 L799.7 1023.7 L795.4 1024.7 L792.2 1025.9 L789.7 1027.5 L787.2 1028.0 L782.9 1028.0 L781.3 1026.9 L777.5 1026.7 L774.7 1026.2 L770.9 1027.0 L767.5 1028.1 L764.7 1028.7 L761.9 1027.1 L757.0 1027.1 L754.7 1025.0 L751.5 1022.0Z" fill="#FFFFFF" stroke-width="1.79"/>
<path d="M436.6 1273.8 L440.3 1274.6 L443.3 1274.7 L446.6 1271.3 L449.9 1268.7 L453.3 1268.0 L456.2 1267.3 L459.9 1265.5 L463.2 1265.3 L466.6 1263.8 L465.3 1265.4 L463.3 1268.0 L462.8 1270.9 L461.6 1273.0 L461.8 1275.3 L462.4 1278.0 L463.9 1280.2 L466.6 1283.0 L468.4 1285.6 L470.7 1287.1 L473.3 1289.1 L476.6 1288.0 L478.7 1289.7 L478.2 1293.0 L479.1 1295.9 L478.2 1300.5 L474.9 1302.1 L472.4 1303.3 L471.6 1306.3 L471.8 1310.4 L470.7 1312.9 L471.6 1317.1 L469.0 1315.2 L466.6 1315.4 L464.3 1315.5 L461.6 1313.8 L458.2 1312.9 L455.8 1309.6 L451.6 1308.0 L448.6 1307.6 L446.6 1305.5 L443.4 1304.5 L441.6 1303.0 L442.6 1300.5 L444.1 1298.0 L443.2 1294.2 L444.9 1291.3 L445.1 1287.4 L444.1 1284.6 L443.1 1281.8 L442.4 1279.6 L439.1 1276.3Z" fill="#FCD3D5" stroke-width="1.55"/>
<path d="M466.6 1263.8 L470.2 1266.3 L473.2 1267.2 L477.1 1268.2 L479.9 1268.0 L481.9 1269.9 L486.0 1269.4 L488.2 1269.7 L490.5 1270.9 L493.9 1270.7 L496.6 1270.5 L500.4 1271.7 L503.2 1272.2 L504.6 1274.3 L504.1 1278.0 L505.1 1280.7 L506.5 1283.0 L504.1 1284.5 L503.2 1287.1 L502.4 1291.3 L499.1 1292.5 L496.6 1293.8 L495.9 1296.1 L493.2 1298.0 L490.5 1299.6 L489.9 1302.1 L488.0 1303.6 L484.9 1303.8 L483.2 1299.6 L480.9 1299.3 L478.2 1300.5 L479.1 1295.9 L478.2 1293.0 L478.7 1289.7 L476.6 1288.0 L473.3 1289.1 L470.7 1287.1 L468.4 1285.6 L466.6 1283.0 L463.9 1280.2 L462.4 1278.0 L461.8 1275.3 L461.6 1273.0 L462.8 1270.9 L463.3 1268.0 L465.3 1265.4Z" fill="#FCD3D5" stroke-width="1.55"/>
<path d="M464.1 1269.7 L466.3 1270.0 L466.6 1273.8 L464.9 1275.0 L463.6 1273.0Z" fill="#FFFFFF" stroke-width="1.55"/>
<path d="M504.1 1278.0 L506.0 1279.8 L509.9 1281.3 L511.1 1283.3 L514.0 1285.5 L514.3 1288.7 L513.2 1291.3 L514.7 1294.4 L516.5 1297.1 L513.2 1299.6 L511.1 1301.2 L508.2 1301.3 L507.1 1299.8 L505.7 1297.1 L503.2 1293.8 L502.4 1291.3 L503.2 1287.1 L504.1 1284.5 L506.5 1283.0 L505.1 1280.7Z" fill="#FCD3D5" stroke-width="1.55"/>
<path d="M514.0 1285.5 L517.0 1287.5 L521.5 1286.3 L525.7 1288.0 L525.9 1291.3 L524.9 1293.8 L525.7 1298.0 L521.5 1298.8 L519.0 1299.1 L516.5 1297.1 L514.7 1294.4 L513.2 1291.3 L514.3 1288.7Z" fill="#FCD3D5" stroke-width="1.55"/>
<path d="M525.7 1288.0 L527.5 1290.1 L531.5 1290.5 L534.5 1293.0 L535.7 1295.5 L532.4 1298.8 L528.2 1299.6 L525.7 1298.0 L524.9 1293.8 L525.9 1291.3Z" fill="#FFFFFF" stroke-width="1.55"/>
<path d="M441.6 1303.0 L443.4 1304.5 L446.6 1305.5 L448.6 1307.6 L451.6 1308.0 L451.7 1311.1 L449.9 1312.9 L447.6 1314.6 L444.9 1316.3 L441.6 1319.6 L441.0 1322.2 L439.1 1323.8 L435.8 1322.1 L435.5 1319.6 L433.3 1317.1 L434.9 1312.9 L436.7 1310.9 L436.6 1308.0 L438.2 1305.9Z" fill="#BBDA1C" stroke-width="1.55"/>
<path d="M435.8 1322.1 L439.1 1323.8 L441.0 1322.2 L441.6 1319.6 L444.9 1316.3 L447.6 1314.6 L449.9 1312.9 L451.7 1311.1 L451.6 1308.0 L455.8 1309.6 L458.2 1312.9 L461.6 1313.8 L464.3 1315.5 L466.6 1315.4 L469.0 1315.2 L471.6 1317.1 L470.7 1320.1 L469.9 1322.1 L466.8 1323.0 L464.9 1324.6 L462.5 1326.7 L460.8 1327.9 L459.3 1331.4 L458.3 1333.8 L460.5 1335.8 L461.6 1339.6 L463.6 1342.2 L466.6 1342.9 L470.7 1344.6 L472.1 1346.1 L473.2 1348.7 L474.0 1351.7 L473.9 1354.5 L472.4 1357.9 L473.7 1360.1 L474.3 1363.7 L474.1 1366.2 L473.8 1370.0 L472.4 1372.9 L470.7 1372.9 L469.2 1370.7 L466.6 1370.4 L463.1 1369.9 L459.9 1366.2 L456.8 1364.2 L455.2 1362.4 L453.3 1360.4 L449.8 1357.1 L448.3 1354.6 L447.9 1351.9 L445.2 1349.8 L444.1 1346.3 L443.5 1342.8 L439.4 1342.0 L439.9 1337.9 L438.3 1334.9 L435.9 1333.8 L434.9 1331.3 L433.0 1329.4 L431.6 1326.3 L433.3 1323.8Z" fill="#BBDA1C" stroke-width="1.55"/>
<path d="M471.6 1306.3 L472.4 1303.3 L474.9 1302.1 L478.2 1300.5 L480.9 1299.3 L483.2 1299.6 L484.9 1303.8 L488.0 1303.6 L489.9 1302.1 L490.5 1299.6 L493.2 1298.0 L495.9 1296.1 L496.6 1293.8 L499.1 1292.5 L502.4 1291.3 L503.2 1293.8 L505.7 1297.1 L507.1 1299.8 L508.2 1301.3 L511.1 1301.2 L513.2 1299.6 L516.5 1297.1 L519.0 1299.1 L521.5 1298.8 L525.7 1298.0 L528.2 1299.6 L532.4 1298.8 L535.7 1295.5 L536.1 1298.4 L538.2 1301.3 L540.0 1303.3 L539.9 1306.3 L542.3 1310.0 L544.8 1310.5 L547.2 1310.8 L550.6 1312.2 L553.2 1312.9 L555.6 1313.2 L557.9 1315.5 L561.5 1316.3 L564.7 1317.6 L567.6 1317.0 L569.8 1317.9 L573.2 1319.3 L575.9 1319.9 L578.1 1321.3 L580.5 1322.4 L584.1 1325.2 L586.5 1326.3 L588.5 1328.2 L591.5 1331.3 L592.2 1334.1 L592.3 1337.9 L590.6 1340.8 L589.0 1344.6 L586.5 1347.3 L584.8 1350.4 L582.3 1352.1 L579.8 1356.2 L579.3 1359.0 L579.0 1362.4 L578.1 1364.6 L576.5 1368.3 L577.5 1371.8 L577.3 1374.6 L578.0 1378.5 L576.2 1380.4 L574.8 1382.9 L572.5 1384.6 L571.5 1387.9 L569.8 1389.5 L566.6 1390.8 L564.4 1392.1 L561.5 1392.9 L558.4 1394.5 L554.8 1396.2 L550.7 1397.9 L548.2 1399.5 L547.4 1402.4 L544.8 1404.5 L544.5 1408.2 L544.0 1411.2 L541.9 1413.4 L539.9 1416.2 L537.4 1420.0 L535.7 1422.8 L531.5 1422.8 L530.1 1420.4 L526.5 1417.9 L524.2 1416.1 L521.5 1415.4 L518.2 1416.5 L519.4 1414.4 L521.5 1411.2 L522.9 1408.7 L525.7 1407.0 L526.5 1402.9 L524.9 1399.5 L523.9 1397.2 L523.2 1394.5 L520.1 1393.4 L518.2 1391.2 L514.9 1387.9 L511.5 1384.5 L511.8 1381.9 L511.5 1377.9 L509.8 1374.7 L508.2 1372.9 L509.7 1370.3 L509.0 1367.1 L505.8 1366.3 L504.1 1364.6 L504.5 1360.6 L503.2 1357.9 L499.5 1357.2 L496.6 1354.6 L493.2 1351.2 L490.8 1348.8 L488.2 1346.3 L485.7 1343.8 L483.3 1345.8 L479.9 1345.4 L476.8 1346.9 L473.2 1348.7 L472.1 1346.1 L470.7 1344.6 L466.6 1342.9 L463.6 1342.2 L461.6 1339.6 L460.5 1335.8 L458.3 1333.8 L459.3 1331.4 L460.8 1327.9 L462.5 1326.7 L464.9 1324.6 L466.8 1323.0 L469.9 1322.1 L470.7 1320.1 L471.6 1317.1 L470.7 1312.9 L471.8 1310.4Z" fill="#F8AF14" stroke-width="1.55"/>
<path d="M532.4 1311.0 L535.1 1310.3 L537.4 1308.0 L539.7 1308.2 L542.3 1310.0 L539.9 1313.8 L537.6 1314.3 L534.9 1314.6Z" fill="#F8AF14" stroke-width="2.91"/>
<path d="M534.0 1312.1 L537.5 1311.8 L539.9 1311.3" fill="none" stroke-width="2.91"/>
<path d="M473.2 1348.7 L476.8 1346.9 L479.9 1345.4 L483.3 1345.8 L485.7 1343.8 L488.2 1346.3 L490.8 1348.8 L493.2 1351.2 L496.6 1354.6 L499.5 1357.2 L503.2 1357.9 L504.5 1360.6 L504.1 1364.6 L505.8 1366.3 L509.0 1367.1 L509.7 1370.3 L508.2 1372.9 L509.8 1374.7 L511.5 1377.9 L508.9 1377.4 L506.5 1378.7 L504.0 1379.4 L501.6 1379.6 L500.0 1382.1 L498.2 1384.5 L496.6 1387.9 L493.0 1388.4 L489.9 1387.0 L486.6 1389.5 L483.9 1390.4 L481.6 1388.7 L479.1 1391.2 L478.0 1387.8 L476.6 1384.5 L475.8 1380.8 L474.1 1377.9 L473.7 1375.8 L472.4 1372.9 L473.8 1370.0 L474.1 1366.2 L474.3 1363.7 L473.7 1360.1 L472.4 1357.9 L473.9 1354.5 L474.0 1351.7Z" fill="#FCD3D5" stroke-width="1.55"/>
<path d="M496.6 1387.9 L498.2 1384.5 L500.0 1382.1 L501.6 1379.6 L504.0 1379.4 L506.5 1378.7 L508.9 1377.4 L511.5 1377.9 L511.8 1381.9 L511.5 1384.5 L514.9 1387.9 L518.2 1391.2 L520.1 1393.4 L523.2 1394.5 L523.9 1397.2 L524.9 1399.5 L526.5 1402.9 L524.0 1405.4 L521.6 1406.5 L518.2 1407.0 L516.0 1408.0 L513.2 1406.2 L512.8 1404.2 L514.0 1401.2 L512.6 1398.5 L509.9 1397.0 L506.9 1395.5 L503.2 1393.7 L501.2 1392.0 L499.1 1391.2Z" fill="#F8AF14" stroke-width="1.55"/>
<path d="M518.2 1416.5 L521.5 1415.4 L524.2 1416.1 L526.5 1417.9 L530.1 1420.4 L531.5 1422.8 L535.7 1422.8 L533.6 1425.0 L532.4 1428.7 L528.9 1431.0 L526.5 1433.7 L523.8 1434.0 L519.9 1434.5 L518.0 1433.6 L514.9 1432.0 L512.2 1429.5 L512.4 1427.0 L511.9 1423.9 L513.2 1422.0 L515.5 1419.7Z" fill="#F8AF14" stroke-width="1.55"/>
<path d="M470.7 1372.9 L472.4 1372.9 L473.7 1375.8 L474.1 1377.9 L475.8 1380.8 L476.6 1384.5 L478.0 1387.8 L479.1 1391.2 L479.1 1394.1 L478.2 1397.9 L476.9 1401.7 L475.7 1404.5 L474.1 1407.6 L474.2 1410.6 L473.2 1412.9 L473.5 1416.1 L472.2 1418.6 L471.6 1421.2 L471.9 1423.8 L471.2 1427.1 L470.7 1429.5 L470.3 1432.7 L470.5 1434.7 L469.9 1437.8 L469.0 1439.9 L469.5 1443.6 L468.3 1446.2 L468.9 1449.1 L466.2 1452.0 L466.6 1454.5 L466.7 1457.8 L466.6 1461.1 L466.1 1464.2 L467.2 1466.5 L464.9 1469.5 L465.7 1472.8 L464.1 1475.2 L464.1 1477.8 L463.1 1480.8 L463.4 1483.0 L463.3 1486.1 L460.9 1488.6 L460.8 1492.0 L461.8 1494.4 L463.3 1497.8 L465.1 1499.6 L466.6 1502.8 L469.6 1505.7 L473.2 1506.9 L475.9 1508.3 L478.2 1509.4 L475.0 1508.3 L473.2 1510.3 L470.8 1508.2 L466.6 1507.8 L463.4 1507.3 L459.9 1504.4 L456.6 1502.7 L454.9 1499.4 L453.1 1495.4 L452.4 1492.8 L452.9 1490.0 L451.8 1486.6 L451.6 1484.5 L452.5 1481.2 L452.7 1479.0 L453.3 1476.1 L455.0 1472.8 L456.6 1469.5 L457.0 1466.0 L457.4 1462.8 L459.2 1460.1 L458.1 1456.9 L459.1 1454.5 L459.9 1451.3 L458.5 1447.7 L459.9 1444.5 L461.3 1441.0 L462.3 1437.0 L463.3 1434.5 L462.1 1430.8 L464.6 1427.7 L465.8 1424.5 L466.4 1421.8 L466.5 1417.9 L467.4 1414.5 L467.1 1410.7 L467.8 1408.3 L468.3 1404.5 L466.9 1401.1 L468.4 1397.4 L469.1 1394.5 L470.3 1391.9 L470.7 1388.7 L469.9 1384.5 L469.8 1380.5 L469.9 1377.9 L470.7 1376.0Z" fill="#CFE5F3" stroke-width="1.55"/>
<path d="M479.1 1391.2 L481.6 1388.7 L483.9 1390.4 L486.6 1389.5 L489.9 1387.0 L493.0 1388.4 L496.6 1387.9 L499.1 1391.2 L501.2 1392.0 L503.2 1393.7 L506.9 1395.5 L509.9 1397.0 L512.6 1398.5 L514.0 1401.2 L512.8 1404.2 L513.2 1406.2 L516.0 1408.0 L518.2 1407.0 L521.6 1406.5 L524.0 1405.4 L526.5 1402.9 L525.7 1407.0 L522.9 1408.7 L521.5 1411.2 L519.4 1414.4 L518.2 1416.5 L515.5 1419.7 L513.2 1422.0 L511.9 1423.9 L512.4 1427.0 L512.2 1429.5 L514.9 1432.0 L517.3 1434.2 L517.4 1437.0 L517.1 1440.1 L516.5 1442.0 L514.7 1443.7 L513.2 1446.2 L509.1 1447.5 L506.5 1448.7 L502.5 1448.3 L499.9 1449.5 L499.0 1452.6 L497.4 1454.5 L494.8 1455.9 L493.2 1457.0 L494.9 1461.1 L493.2 1462.5 L489.9 1463.6 L489.1 1466.5 L488.2 1469.5 L486.1 1471.5 L483.2 1472.8 L483.8 1475.6 L484.9 1478.6 L483.4 1481.0 L482.4 1482.8 L479.9 1483.5 L478.2 1486.1 L477.1 1489.1 L475.7 1491.1 L474.3 1493.8 L471.6 1494.4 L469.9 1497.8 L473.2 1501.1 L475.2 1502.2 L477.4 1504.4 L479.9 1506.9 L476.4 1506.3 L473.2 1506.9 L469.6 1505.7 L466.6 1502.8 L465.1 1499.6 L463.3 1497.8 L461.8 1494.4 L460.8 1492.0 L460.9 1488.6 L463.3 1486.1 L463.4 1483.0 L463.1 1480.8 L464.1 1477.8 L464.1 1475.2 L465.7 1472.8 L464.9 1469.5 L467.2 1466.5 L466.1 1464.2 L466.6 1461.1 L466.7 1457.8 L466.6 1454.5 L466.2 1452.0 L468.9 1449.1 L468.3 1446.2 L469.5 1443.6 L469.0 1439.9 L469.9 1437.8 L470.5 1434.7 L470.3 1432.7 L470.7 1429.5 L471.2 1427.1 L471.9 1423.8 L471.6 1421.2 L472.2 1418.6 L473.5 1416.1 L473.2 1412.9 L474.2 1410.6 L474.1 1407.6 L475.7 1404.5 L476.9 1401.7 L478.2 1397.9 L479.1 1394.1Z" fill="#F8AF14" stroke-width="1.55"/>
<path d="M458.3 1460.3 L458.3 1463.5 L456.9 1467.8 L456.2 1470.2 L453.8 1473.5 L454.1 1476.1 L454.3 1479.2 L453.7 1482.0 L452.6 1484.5 L451.5 1487.1 L452.5 1489.7 L453.3 1492.8 L455.8 1496.3 L455.8 1499.4 L458.8 1502.4 L460.8 1504.4 L464.3 1506.2 L467.4 1507.8 L470.1 1508.8 L474.1 1509.8" fill="none" stroke-width="4.03"/>
<path d="M459.9 1466.1 L458.6 1469.3 L459.7 1471.5 L458.3 1474.5 L458.1 1476.5 L456.9 1479.5" fill="none" stroke-width="2.91"/>
<path d="M463.3 1499.4 L466.5 1501.7 L468.3 1504.4 L472.6 1505.4 L474.9 1506.9" fill="none" stroke-width="3.36"/>
<path d="M488.2 1462.0 L491.9 1462.5" fill="none" stroke-width="3.36"/>
<path d="M534.9 1422.0 L537.4 1420.5 L537.9 1417.9" fill="none" stroke-width="2.91"/>
<path d="M504.1 1495.8 L506.3 1494.9 L509.6 1495.1 L512.4 1494.8" fill="none" stroke-width="3.81"/>
<path d="M582.3 1504.8 L585.3 1505.5 L588.1 1506.8" fill="none" stroke-width="2.69"/>
<path d="M494.9 1269.7 L499.1 1270.0" fill="none" stroke-width="3.36"/>
<circle cx="506.5" cy="1260.5" r="1.5" fill="#0b0d12" stroke="none"/>
<circle cx="736.3" cy="1302.6" r="1.5" fill="#0b0d12" stroke="none"/>
<circle cx="734.7" cy="1307.1" r="1.5" fill="#0b0d12" stroke="none"/>
<path d="M694.1 1179.6 L697.1 1179.7 L701.6 1180.8 L704.5 1180.2 L708.3 1180.0 L710.4 1178.5 L714.5 1178.5 L716.6 1177.5 L720.2 1175.5 L723.5 1175.7 L726.6 1175.8 L729.5 1176.4 L733.9 1175.5 L736.6 1175.3 L740.7 1175.8 L744.9 1174.2 L749.1 1175.0 L747.9 1177.1 L748.2 1180.0 L749.5 1182.9 L749.9 1185.0 L748.6 1186.9 L747.4 1189.1 L749.9 1191.6 L752.5 1190.5 L756.6 1190.8 L760.1 1191.2 L763.2 1193.3 L765.8 1195.1 L769.9 1195.8 L773.8 1195.1 L776.5 1195.8 L778.0 1193.7 L780.7 1190.8 L783.6 1191.2 L786.5 1189.6 L789.2 1189.9 L793.2 1191.6 L795.4 1193.1 L798.2 1194.1 L800.9 1193.5 L804.2 1194.4 L806.5 1195.0 L808.8 1196.6 L812.1 1194.7 L814.8 1195.8 L818.2 1195.1 L821.0 1194.3 L823.2 1195.3 L825.9 1196.7 L829.0 1197.5 L831.2 1199.9 L831.5 1202.5 L827.3 1201.6 L828.5 1204.2 L830.3 1207.0 L830.7 1210.0 L831.6 1212.2 L833.8 1214.9 L834.8 1218.3 L836.5 1220.4 L838.5 1224.4 L839.0 1227.4 L840.0 1230.2 L840.9 1232.2 L842.3 1234.9 L844.4 1238.0 L847.8 1241.1 L846.5 1244.6 L847.5 1247.2 L849.8 1249.9 L850.7 1253.1 L854.0 1256.6 L854.6 1258.9 L856.9 1261.7 L859.0 1263.2 L862.3 1266.6 L863.1 1269.9 L865.3 1268.8 L868.1 1269.1 L871.0 1267.6 L873.5 1269.4 L876.4 1267.4 L879.0 1265.1 L881.0 1264.0 L884.8 1264.9 L889.3 1266.1 L889.3 1269.6 L887.3 1273.2 L885.7 1275.5 L884.4 1279.6 L883.1 1281.6 L881.3 1283.6 L878.6 1286.9 L878.1 1289.9 L877.1 1292.6 L873.6 1296.0 L871.5 1298.2 L868.8 1300.8 L866.7 1302.1 L864.8 1304.9 L861.2 1307.4 L859.8 1310.7 L858.1 1312.9 L855.6 1316.5 L852.5 1319.8 L850.6 1322.3 L851.0 1325.8 L848.5 1327.8 L848.1 1331.5 L848.3 1334.4 L849.5 1337.1 L849.0 1339.8 L849.6 1343.4 L850.6 1346.5 L852.6 1349.7 L852.3 1353.2 L852.2 1355.0 L852.5 1357.7 L853.1 1360.0 L853.1 1362.8 L851.8 1365.0 L850.2 1367.3 L847.7 1369.2 L845.1 1369.7 L841.8 1372.5 L838.4 1374.2 L836.0 1376.7 L833.2 1378.5 L831.0 1379.2 L831.8 1381.7 L834.3 1384.3 L834.3 1386.7 L835.0 1389.3 L835.1 1391.7 L834.2 1394.8 L833.5 1396.7 L830.6 1396.6 L829.3 1399.2 L826.0 1401.7 L824.7 1404.2 L823.9 1408.4 L822.6 1412.6 L821.0 1414.4 L819.3 1416.8 L816.9 1418.9 L815.1 1420.9 L812.6 1422.8 L810.9 1425.1 L808.4 1426.2 L805.9 1428.4 L803.0 1429.3 L800.1 1430.5 L797.5 1431.8 L793.4 1431.4 L789.4 1431.4 L786.7 1432.6 L784.3 1433.3 L780.5 1434.1 L778.6 1433.6 L775.9 1432.2 L775.0 1429.3 L773.8 1427.6 L773.0 1424.9 L774.2 1422.6 L772.2 1420.4 L771.7 1416.8 L770.5 1412.2 L766.7 1409.3 L765.8 1407.1 L764.6 1404.6 L763.8 1401.7 L762.0 1399.5 L761.4 1396.5 L761.3 1393.4 L760.2 1390.1 L759.3 1387.2 L758.4 1385.1 L758.1 1382.8 L757.5 1379.4 L755.0 1376.7 L752.9 1372.8 L752.5 1370.0 L753.8 1366.9 L754.3 1364.7 L754.9 1361.5 L755.4 1359.4 L756.6 1355.4 L757.4 1353.2 L756.5 1350.2 L759.3 1347.6 L758.2 1344.8 L758.3 1341.9 L756.7 1339.2 L756.6 1336.5 L756.1 1334.4 L756.5 1330.7 L754.9 1328.2 L752.3 1325.7 L751.6 1323.2 L750.5 1320.9 L748.7 1319.0 L746.6 1316.5 L746.6 1313.2 L743.8 1310.5 L742.4 1308.2 L743.9 1304.6 L744.1 1301.5 L743.6 1297.9 L744.9 1294.9 L741.6 1291.5 L737.9 1291.7 L734.9 1291.5 L732.3 1289.8 L730.7 1288.2 L727.3 1286.6 L724.9 1284.9 L722.1 1286.5 L718.3 1286.5 L715.4 1286.9 L713.4 1287.2 L709.9 1287.4 L706.5 1288.6 L703.3 1289.0 L700.5 1288.6 L698.3 1289.6 L694.9 1289.9 L692.0 1291.2 L689.7 1291.1 L686.6 1291.9 L683.8 1292.1 L681.6 1289.0 L679.8 1286.6 L675.8 1285.7 L672.0 1283.6 L670.0 1281.6 L667.2 1278.9 L665.0 1276.6 L663.4 1274.2 L660.0 1271.6 L658.1 1269.4 L655.8 1266.6 L655.0 1262.8 L655.0 1259.9 L653.9 1257.2 L652.0 1255.7 L653.4 1252.5 L654.2 1248.3 L654.5 1245.7 L656.2 1243.1 L656.7 1239.9 L654.6 1237.1 L655.4 1234.6 L655.0 1231.6 L656.3 1227.8 L657.5 1224.9 L658.9 1221.5 L659.1 1218.0 L661.6 1216.6 L662.8 1213.9 L664.5 1210.9 L666.6 1209.1 L668.7 1207.6 L671.6 1205.8 L674.9 1203.3 L677.5 1201.6 L678.1 1198.2 L680.8 1195.8 L682.8 1193.1 L684.1 1189.1 L686.7 1186.4 L688.3 1183.3 L690.9 1182.5Z" fill="#FCD3D5" stroke-width="1.68"/>
<path d="M708.3 1180.0 L710.4 1178.5 L714.5 1178.5 L716.6 1177.5 L720.2 1175.5 L723.5 1175.7 L726.6 1175.8 L729.5 1176.4 L733.9 1175.5 L736.6 1175.3 L740.7 1175.8 L740.1 1178.7 L739.9 1181.6 L739.8 1185.0 L739.1 1187.5 L741.9 1188.6 L744.1 1192.5 L745.4 1195.0 L746.6 1196.6 L748.3 1199.5 L748.3 1202.3 L747.9 1205.7 L747.4 1208.3 L747.8 1212.3 L748.2 1214.9 L750.5 1216.8 L750.6 1219.9 L752.4 1222.4 L749.5 1223.6 L748.8 1226.3 L745.0 1228.4 L743.2 1229.9 L739.9 1230.7 L738.2 1231.5 L735.9 1233.7 L733.2 1235.8 L731.0 1238.1 L726.6 1239.1 L724.6 1236.8 L721.6 1235.8 L719.5 1233.6 L716.6 1232.8 L713.2 1230.4 L711.8 1228.1 L708.4 1226.4 L706.6 1224.9 L703.9 1222.5 L700.7 1219.2 L698.9 1218.4 L694.9 1216.6 L693.8 1214.0 L690.8 1212.5 L686.7 1211.7 L684.7 1209.7 L682.5 1208.3 L682.5 1205.0 L684.7 1204.3 L688.1 1202.4 L690.0 1200.8 L692.8 1198.8 L696.1 1199.6 L698.3 1198.3 L702.3 1197.3 L704.6 1195.7 L706.6 1193.3 L705.8 1189.6 L707.4 1186.6 L707.4 1183.8Z" fill="#BBDA1C" stroke-width="1.55"/>
<path d="M740.7 1175.8 L744.9 1174.2 L749.1 1175.0 L747.9 1177.1 L748.2 1180.0 L749.5 1182.9 L749.9 1185.0 L748.6 1186.9 L747.4 1189.1 L749.9 1191.6 L749.0 1194.3 L746.6 1196.6 L745.4 1195.0 L744.1 1192.5 L741.9 1188.6 L739.1 1187.5 L739.8 1185.0 L739.9 1181.6 L740.1 1178.7Z" fill="#F8AF14" stroke-width="1.55"/>
<path d="M669.1 1208.3 L671.8 1208.4 L675.9 1209.3 L678.8 1209.0 L682.5 1208.3 L682.7 1210.7 L681.6 1213.3 L678.5 1212.9 L674.6 1213.7 L671.8 1213.1 L668.3 1214.1 L668.0 1216.7 L668.3 1220.3 L667.5 1222.4 L665.6 1225.9 L665.0 1229.9 L661.5 1228.7 L659.1 1232.1 L655.0 1231.3 L655.9 1228.0 L657.5 1224.9 L658.9 1221.5 L659.1 1218.0 L661.6 1216.6 L662.1 1213.8 L664.0 1211.9 L667.7 1209.9Z" fill="#FFFFFF" stroke-width="1.55"/>
<path d="M798.2 1194.1 L800.9 1193.5 L804.2 1194.4 L806.5 1195.0 L808.8 1196.6 L812.1 1194.7 L814.8 1195.8 L818.2 1195.1 L821.0 1194.3 L823.2 1195.3 L825.9 1196.7 L829.0 1197.5 L831.2 1199.9 L831.5 1202.5 L827.3 1201.6 L828.5 1204.2 L830.3 1207.0 L830.7 1210.0 L831.6 1212.2 L833.8 1214.9 L834.8 1218.3 L836.5 1220.4 L838.5 1224.4 L839.0 1227.4 L799.0 1227.9 L798.6 1225.6 L797.5 1222.6 L799.0 1219.0 L797.8 1215.6 L798.7 1213.7 L799.0 1210.0 L798.1 1206.6 L798.2 1203.7 L798.7 1200.4 L799.3 1197.4Z" fill="#BBDA1C" stroke-width="1.55"/>
<path d="M819.0 1296.5 L823.2 1296.6 L826.3 1295.4 L829.0 1295.2 L831.2 1298.4 L831.5 1301.5 L831.1 1304.4 L828.2 1306.5 L828.1 1308.9 L827.3 1311.5 L824.5 1312.2 L820.8 1312.2 L816.5 1311.9 L816.4 1309.5 L817.3 1306.5 L817.7 1304.0 L819.8 1301.5 L819.6 1298.4Z" fill="#F8AF14" stroke-width="1.55"/>
<path d="M770.5 1412.2 L773.4 1413.0 L776.3 1411.8 L779.2 1412.2 L780.7 1411.8 L781.9 1407.7 L781.3 1405.1 L781.9 1402.2 L782.1 1400.1 L783.3 1403.2 L785.1 1404.7 L787.7 1402.3 L790.1 1401.9 L793.4 1400.2 L795.8 1400.3 L798.4 1400.1 L801.8 1397.7 L803.9 1396.6 L805.9 1394.4 L809.4 1393.3 L810.9 1391.1 L815.1 1389.2 L817.8 1389.3 L820.1 1388.8 L821.4 1393.4 L820.7 1395.9 L822.0 1398.4 L822.6 1402.2 L825.5 1402.2 L824.7 1404.2 L823.9 1408.4 L822.6 1412.6 L821.0 1414.4 L819.3 1416.8 L816.9 1418.9 L815.1 1420.9 L812.6 1422.8 L810.9 1425.1 L808.4 1426.2 L805.9 1428.4 L803.0 1429.3 L800.1 1430.5 L797.5 1431.8 L793.4 1431.4 L789.4 1431.4 L786.7 1432.6 L784.3 1433.3 L780.5 1434.1 L778.6 1433.6 L775.9 1432.2 L775.0 1429.3 L773.8 1427.6 L773.0 1424.9 L774.2 1422.6 L772.2 1420.4 L771.7 1416.8Z" fill="#BBDA1C" stroke-width="1.90"/>
<path d="M805.9 1415.9 L808.4 1413.0 L811.8 1412.2 L813.4 1414.3 L812.2 1417.2 L808.8 1419.3 L806.8 1418.4Z" fill="#FFFFFF" stroke-width="2.02"/>
<path d="M818.9 1403.4 L820.5 1402.2 L822.5 1403.4 L822.2 1406.3 L820.1 1407.2Z" fill="#FFFFFF" stroke-width="1.55"/>
<path d="M882.3 1351.5 L884.3 1353.6 L885.6 1355.7 L886.2 1360.1 L886.4 1363.1 L885.5 1366.0 L884.9 1368.2 L883.9 1371.5 L882.7 1373.7 L883.2 1376.9 L881.4 1379.8 L880.5 1383.2 L879.1 1384.6 L878.1 1388.1 L876.2 1390.4 L876.3 1393.3 L874.8 1396.4 L871.3 1398.5 L869.0 1399.8 L866.6 1398.6 L864.0 1397.3 L864.7 1392.6 L862.3 1389.8 L862.8 1387.2 L864.6 1384.6 L864.0 1381.5 L863.0 1378.0 L863.1 1374.8 L864.8 1371.5 L865.6 1368.1 L869.9 1366.6 L871.5 1364.0 L873.7 1362.0 L876.4 1359.0 L877.9 1357.1 L879.8 1354.0Z" fill="#FCD3D5" stroke-width="1.79"/>
<path d="M682.5 1208.3 L684.8 1210.2 L687.1 1212.4 L689.2 1214.4 L690.8 1217.4 L693.0 1250.7 L690.0 1252.9 L686.6 1252.0 L683.7 1251.7 L679.1 1252.6 L677.4 1252.7 L673.3 1252.9 L670.6 1252.7 L667.8 1249.9 L665.0 1248.6 L662.5 1249.9 L659.0 1249.6 L655.3 1250.7" fill="none" stroke-width="1.45"/>
<path d="M726.6 1239.1 L725.9 1242.3 L726.5 1245.5 L726.3 1247.9 L725.8 1250.7 L721.9 1251.5 L718.1 1253.0 L715.8 1254.6 L713.4 1256.7 L709.1 1256.6 L707.0 1257.5 L703.7 1258.2 L701.6 1259.9 L699.7 1262.7 L695.8 1264.9 L694.9 1269.1 L691.9 1268.2 L687.5 1269.9 L686.0 1267.7 L683.6 1264.1 L681.5 1263.0 L678.2 1262.4 L675.8 1260.7 L675.7 1258.4 L673.2 1256.2 L672.5 1253.2" fill="none" stroke-width="1.45"/>
<path d="M655.8 1266.6 L658.7 1265.1 L661.9 1265.8 L665.0 1265.7 L668.9 1264.7 L672.5 1263.2 L675.8 1260.7" fill="none" stroke-width="1.45"/>
<path d="M660.0 1271.2 L664.5 1270.7 L667.5 1269.1 L670.7 1269.1 L675.0 1270.7 L678.0 1273.8 L680.8 1274.9 L682.6 1271.8 L684.1 1269.9 L687.5 1269.9" fill="none" stroke-width="1.45"/>
<path d="M667.5 1269.1 L669.4 1270.8 L668.8 1274.2 L670.8 1276.6 L672.8 1277.1 L675.8 1278.6 L678.3 1277.7 L680.8 1274.9" fill="none" stroke-width="1.45"/>
<path d="M675.8 1278.6 L675.8 1282.9 L675.8 1285.7" fill="none" stroke-width="1.45"/>
<path d="M680.8 1274.9 L681.7 1278.3 L683.1 1281.4 L685.0 1283.2 L685.1 1285.4 L686.3 1288.5 L686.6 1291.5" fill="none" stroke-width="1.45"/>
<path d="M694.9 1269.1 L698.6 1268.0 L702.4 1268.2 L702.3 1270.5 L701.7 1273.4 L700.9 1277.5 L701.6 1279.9 L702.8 1283.6 L702.4 1286.3 L703.3 1289.0" fill="none" stroke-width="1.45"/>
<path d="M702.4 1268.2 L705.4 1266.9 L709.4 1267.9 L713.3 1268.2 L716.2 1268.0 L719.9 1266.6 L723.3 1263.2" fill="none" stroke-width="1.45"/>
<path d="M713.3 1268.2 L714.5 1271.2 L713.1 1274.1 L713.5 1278.6 L713.5 1280.4 L714.9 1284.9 L714.9 1287.4" fill="none" stroke-width="1.45"/>
<path d="M716.9 1267.4 L717.2 1270.6 L718.4 1273.9 L717.3 1276.7 L717.8 1280.0 L718.5 1283.1 L718.3 1286.5" fill="none" stroke-width="1.45"/>
<path d="M723.3 1263.2 L722.4 1266.0 L722.8 1269.2 L721.8 1272.6 L721.6 1276.6 L722.3 1279.6 L722.3 1282.6 L723.3 1285.2" fill="none" stroke-width="1.45"/>
<path d="M715.8 1254.6 L716.1 1257.4 L718.3 1260.0 L719.9 1261.6 L723.3 1263.2" fill="none" stroke-width="1.45"/>
<path d="M752.4 1222.4 L754.6 1223.2 L757.4 1225.0 L761.1 1224.3 L764.1 1225.3" fill="none" stroke-width="1.45"/>
<path d="M764.1 1225.3 L762.9 1228.1 L765.2 1231.4 L765.6 1235.6 L765.7 1238.3 L765.6 1241.1 L764.6 1245.6 L764.6 1248.3 L763.4 1251.6 L761.0 1255.1 L760.2 1258.6" fill="none" stroke-width="1.45"/>
<path d="M723.3 1263.2 L727.2 1262.1 L728.3 1259.6 L730.9 1259.4 L734.3 1261.1 L736.6 1261.0 L739.9 1261.6 L743.9 1261.8 L748.0 1260.3 L750.7 1259.6 L753.8 1258.8 L756.9 1258.6 L760.2 1258.6" fill="none" stroke-width="1.45"/>
<path d="M764.1 1225.3 L794.9 1236.6 L795.2 1234.2 L796.9 1230.8 L796.5 1227.9 L799.0 1227.9" fill="none" stroke-width="1.45"/>
<path d="M794.9 1236.6 L793.8 1240.0 L794.9 1243.7 L794.0 1246.9 L793.5 1249.9 L793.3 1253.6 L788.6 1256.6 L789.4 1259.9 L790.7 1263.0 L790.4 1266.3 L791.0 1268.6 L788.4 1271.1 L787.2 1273.7 L783.5 1274.9 L780.1 1276.0 L776.0 1277.6 L773.2 1278.6 L770.1 1279.1 L766.2 1280.2" fill="none" stroke-width="1.45"/>
<path d="M760.2 1258.6 L761.3 1261.3 L763.2 1262.9 L763.6 1266.6 L761.9 1269.0 L761.9 1273.6 L765.1 1276.4 L766.2 1280.2" fill="none" stroke-width="1.45"/>
<path d="M760.2 1259.6 L760.2 1263.2 L757.6 1264.3 L758.6 1267.3 L756.6 1270.2 L755.6 1272.9 L753.3 1275.3 L752.0 1277.1 L751.2 1280.2 L749.4 1282.4 L746.6 1284.1 L744.3 1286.5 L744.7 1289.3 L742.4 1291.9" fill="none" stroke-width="1.45"/>
<path d="M766.2 1280.2 L764.9 1283.4 L764.7 1285.2 L763.6 1288.2 L764.7 1290.9 L766.2 1293.5 L766.2 1296.5 L769.9 1299.1 L773.2 1299.0" fill="none" stroke-width="1.45"/>
<path d="M744.9 1301.5 L747.7 1302.3 L751.3 1301.7 L753.7 1301.8 L756.6 1301.2 L760.2 1301.4 L762.8 1301.0 L766.2 1300.7" fill="none" stroke-width="1.45"/>
<path d="M746.6 1306.5 L749.8 1308.6 L751.9 1305.2 L754.9 1306.5 L753.7 1303.6 L754.9 1301.5" fill="none" stroke-width="1.45"/>
<path d="M756.6 1301.2 L759.6 1303.5 L761.6 1304.9 L761.3 1308.4 L763.2 1311.5 L761.1 1314.5 L759.9 1316.5 L758.0 1317.0 L754.9 1317.4 L756.0 1320.2 L756.6 1324.8 L754.7 1324.4 L751.9 1323.5" fill="none" stroke-width="1.45"/>
<path d="M773.2 1299.0 L777.0 1297.6 L778.2 1293.2 L777.3 1296.2 L776.0 1298.9 L774.9 1303.2 L774.8 1306.7 L772.8 1309.5 L771.5 1313.2 L769.8 1316.9 L768.2 1319.9 L766.8 1323.2 L764.1 1326.5 L761.4 1326.5 L757.9 1326.9 L755.2 1328.5" fill="none" stroke-width="1.45"/>
<path d="M791.0 1268.6 L792.6 1270.7 L795.0 1274.6 L796.8 1277.6 L798.2 1280.2 L799.5 1282.8 L802.7 1285.4 L803.4 1287.8 L806.5 1289.5" fill="none" stroke-width="1.45"/>
<path d="M778.2 1293.2 L781.2 1292.0 L783.0 1290.8 L786.5 1291.5 L789.8 1292.2 L794.0 1290.5 L796.5 1290.2 L799.4 1291.0 L803.1 1288.8 L806.5 1289.5" fill="none" stroke-width="1.45"/>
<path d="M846.5 1244.6 L844.6 1247.5 L842.5 1250.2 L841.3 1253.7 L839.8 1255.7 L837.8 1257.7 L836.7 1260.7 L835.1 1264.1 L833.2 1266.6 L831.6 1269.9 L829.9 1271.6 L829.8 1274.9 L828.2 1277.7 L826.8 1279.2 L827.1 1281.7 L830.7 1284.4 L831.5 1286.5 L833.2 1289.0 L835.7 1291.9" fill="none" stroke-width="1.45"/>
<path d="M806.5 1289.5 L809.5 1291.3 L813.2 1293.2 L816.3 1296.1 L819.0 1296.2" fill="none" stroke-width="1.45"/>
<path d="M829.0 1295.2 L832.5 1293.0 L835.7 1291.9" fill="none" stroke-width="1.45"/>
<path d="M839.8 1255.7 L842.3 1256.6 L845.7 1257.1 L848.1 1256.9 L850.6 1259.1 L853.6 1262.5 L856.5 1263.6 L859.2 1265.9 L861.5 1267.4" fill="none" stroke-width="1.45"/>
<path d="M861.5 1267.4 L859.8 1271.6 L863.1 1270.7" fill="none" stroke-width="1.45"/>
<path d="M863.1 1270.7 L866.2 1274.3 L868.1 1276.9 L871.2 1279.5 L874.5 1280.7 L878.4 1280.2 L874.5 1282.8 L873.9 1286.0 L871.5 1288.5 L867.7 1290.6 L864.5 1291.7 L861.5 1291.9 L858.8 1291.7 L854.8 1293.2 L851.7 1294.5 L848.0 1295.0 L845.1 1294.9 L842.7 1294.1 L839.3 1293.0 L835.7 1291.9" fill="none" stroke-width="1.45"/>
<path d="M861.5 1291.9 L860.3 1294.3 L856.1 1295.6 L855.1 1298.5 L855.9 1300.9 L856.1 1304.7 L854.7 1307.1 L855.6 1310.7 L858.5 1312.4" fill="none" stroke-width="1.45"/>
<path d="M827.3 1311.5 L830.0 1312.7 L834.0 1313.5 L836.3 1315.6 L839.1 1318.5 L842.9 1319.2 L845.1 1320.9 L847.7 1322.7 L849.5 1324.0" fill="none" stroke-width="1.45"/>
<path d="M816.5 1311.9 L815.6 1315.4 L814.0 1318.2 L812.5 1320.7 L813.1 1323.8 L813.2 1326.5 L813.7 1329.4 L816.4 1331.6 L815.7 1334.8 L818.0 1337.7 L820.7 1340.7 L823.0 1342.0 L826.5 1343.2 L829.0 1344.3 L831.2 1346.4 L831.5 1349.8 L834.9 1349.2 L837.4 1350.8 L839.8 1349.8 L844.0 1349.7 L846.6 1347.7 L850.1 1346.8" fill="none" stroke-width="1.45"/>
<path d="M755.2 1328.5 L758.4 1327.8 L761.5 1328.9 L765.5 1328.1 L769.5 1329.5 L769.1 1332.8 L771.5 1336.8 L774.5 1336.2 L778.6 1337.2 L781.5 1336.2 L782.9 1333.2 L786.9 1334.0 L788.2 1336.0 L788.0 1339.3 L788.6 1342.3 L789.1 1344.8 L789.9 1348.2 L792.3 1348.8 L794.5 1349.3 L795.4 1351.2 L795.7 1354.0 L799.5 1354.3 L802.9 1352.0 L806.5 1351.5 L809.0 1353.0 L813.2 1355.2 L814.1 1351.7 L814.5 1348.2 L812.9 1345.6 L811.5 1343.2 L813.6 1342.0 L816.5 1339.8 L820.7 1340.7" fill="none" stroke-width="1.45"/>
<path d="M753.2 1371.8 L756.5 1371.7 L759.2 1371.0 L763.0 1372.0 L766.5 1372.5 L770.1 1372.5 L773.2 1373.3 L776.0 1373.0 L778.3 1372.4 L781.5 1373.1 L784.8 1373.8 L787.4 1374.1 L790.7 1374.1 L794.2 1373.4 L797.4 1373.0 L799.9 1372.8" fill="none" stroke-width="1.45"/>
<path d="M794.5 1349.3 L791.8 1350.8 L789.0 1354.8 L787.7 1357.6 L789.6 1360.4 L788.2 1363.6 L788.2 1366.5 L788.4 1369.3 L790.9 1371.7 L790.7 1374.1" fill="none" stroke-width="1.45"/>
<path d="M799.9 1372.8 L802.5 1370.2 L806.5 1370.1 L808.0 1366.6 L812.6 1367.3 L814.8 1365.1 L818.5 1364.6 L819.8 1363.4 L823.2 1362.3" fill="none" stroke-width="1.45"/>
<path d="M826.5 1343.2 L827.8 1346.3 L827.5 1348.8 L829.0 1351.5 L826.1 1354.2 L825.2 1358.1 L823.2 1362.3" fill="none" stroke-width="1.45"/>
<path d="M829.0 1351.5 L831.4 1354.7 L833.2 1356.5 L833.9 1360.7 L833.5 1363.5 L835.7 1366.5 L833.2 1369.0 L833.5 1365.2 L831.5 1362.3 L829.8 1360.4 L829.0 1358.1" fill="none" stroke-width="1.45"/>
<path d="M799.9 1372.8 L800.9 1376.3 L804.0 1376.5 L805.8 1379.6 L808.2 1383.1 L810.7 1385.2 L812.8 1386.2 L814.8 1388.1" fill="none" stroke-width="1.45"/>
<path d="M823.2 1362.3 L824.5 1365.6 L824.9 1368.3 L825.1 1372.3 L825.7 1374.8 L825.7 1377.8 L824.8 1381.5 L823.4 1384.1 L821.5 1387.3" fill="none" stroke-width="1.45"/>
<path d="M783.5 1374.8 L783.0 1378.3 L784.0 1382.1 L783.8 1384.2 L784.2 1388.1 L781.5 1388.5 L782.2 1391.9 L781.1 1394.4 L781.2 1397.1 L781.2 1399.8" fill="none" stroke-width="1.45"/>
<path d="M814.0 1315.7 L816.5 1317.4 L816.2 1319.3 L816.2 1322.3 L813.5 1323.2 L813.2 1319.0 L814.0 1315.7" fill="none" stroke-width="1.79"/>
<path d="M657.5 1259.9 L659.7 1259.7 L662.5 1260.7 L660.0 1264.1 L656.7 1263.2" fill="none" stroke-width="2.24"/>
<circle cx="653.3" cy="1189.1" r="1.5" fill="#0b0d12" stroke="none"/>
<circle cx="650.0" cy="1204.1" r="1.5" fill="#0b0d12" stroke="none"/>
<circle cx="655.8" cy="1205.0" r="1.5" fill="#0b0d12" stroke="none"/>
<circle cx="660.8" cy="1204.6" r="1.5" fill="#0b0d12" stroke="none"/>
<circle cx="665.0" cy="1203.3" r="1.5" fill="#0b0d12" stroke="none"/>
<circle cx="739.9" cy="1302.4" r="1.5" fill="#0b0d12" stroke="none"/>
<circle cx="735.7" cy="1307.4" r="1.5" fill="#0b0d12" stroke="none"/>
<circle cx="903.9" cy="1324.8" r="1.5" fill="#0b0d12" stroke="none"/>
<circle cx="862.3" cy="1349.8" r="1.5" fill="#0b0d12" stroke="none"/>
<circle cx="865.6" cy="1352.3" r="1.5" fill="#0b0d12" stroke="none"/>
<circle cx="910.6" cy="1381.5" r="1.5" fill="#0b0d12" stroke="none"/>
<circle cx="903.9" cy="1384.8" r="1.5" fill="#0b0d12" stroke="none"/>
<path d="M895.6 1262.4 L899.4 1262.9" fill="none" stroke-width="2.91"/>
<path d="M963.9 1283.2 L964.0 1285.9 L963.7 1289.1 L964.7 1291.5 L963.9 1294.0 L966.1 1297.9 L964.0 1299.9 L964.7 1303.7 L963.9 1306.6 L964.7 1310.7" fill="none" stroke-width="1.79"/>
<path d="M676.2 1114.9 L677.2 1112.6 L680.0 1111.2 L683.2 1109.9 L686.2 1108.7 L690.6 1109.9 L690.5 1112.5 L691.2 1114.9 L688.7 1118.7 L685.8 1119.9 L682.5 1121.2 L680.4 1121.7 L677.5 1120.6 L676.4 1118.5Z" fill="#F8AF14" stroke-width="2.46"/>
<path d="M695.6 1098.1 L700.0 1096.4 L703.7 1098.1 L701.8 1100.4 L702.7 1103.1 L703.4 1105.5 L706.2 1107.4 L708.9 1109.9 L709.0 1112.4 L711.2 1114.6 L713.5 1114.9 L715.6 1115.6 L717.7 1117.7 L716.4 1121.4 L713.5 1122.7 L710.0 1123.9 L705.3 1123.3 L702.5 1124.4 L699.6 1124.6 L695.6 1126.2 L697.5 1121.8 L699.7 1118.7 L697.5 1116.2 L701.0 1113.7 L699.0 1109.9 L696.0 1106.8 L695.8 1104.4 L693.5 1102.4 L693.7 1100.2Z" fill="#F8AF14" stroke-width="2.46"/>
<path d="M688.1 1098.7 L690.1 1100.9 L691.2 1102.4 L691.6 1104.9 L692.7 1107.4" fill="none" stroke-width="3.58"/>
<path d="M690.0 1096.8 L694.3 1096.2" fill="none" stroke-width="3.36"/>
<path d="M700.0 1094.3 L703.1 1094.9" fill="none" stroke-width="3.36"/>
<path d="M694.3 1126.2 L697.5 1127.4" fill="none" stroke-width="2.46"/>
<circle cx="688.7" cy="1083.1" r="2.0" fill="#0b0d12" stroke="none"/>
<circle cx="707.5" cy="1089.3" r="2.0" fill="#0b0d12" stroke="none"/>
<circle cx="683.1" cy="1050.6" r="2.0" fill="#0b0d12" stroke="none"/>
<path d="M680.6 1151.1 L683.1 1150.8 L685.5 1150.4 L688.7 1149.6 L691.8 1150.3 L695.5 1150.1 L698.7 1149.9 L701.0 1150.2 L704.6 1150.5 L707.5 1151.1 L711.5 1151.1 L714.9 1153.0 L718.7 1153.4 L722.4 1154.3 L721.7 1156.6 L719.9 1158.6 L716.9 1160.2 L714.9 1163.0 L713.1 1165.9 L711.2 1167.4 L710.4 1170.1 L708.7 1171.8 L704.8 1172.8 L702.5 1173.6 L700.0 1175.5 L696.2 1176.1 L691.8 1177.4 L689.4 1175.9 L688.1 1174.3 L685.6 1173.9 L686.9 1169.9 L687.2 1166.4 L688.7 1163.0 L689.9 1160.4 L689.3 1156.1 L686.8 1155.9 L683.7 1155.2 L681.2 1155.5Z" fill="#CFE5F3" stroke-width="1.68"/>
<path d="M681.2 1155.5 L683.7 1155.2 L686.8 1155.9 L689.3 1156.1 L689.9 1160.4 L688.7 1163.0 L687.2 1166.4 L686.9 1169.9 L685.6 1173.9 L681.2 1173.6 L683.0 1170.7 L682.2 1167.4 L680.0 1164.9 L680.2 1162.8 L681.9 1159.9Z" fill="#BBDA1C" stroke-width="1.68"/>
<path d="M716.2 1166.1 L718.7 1165.5" fill="none" stroke-width="2.91"/>
<path d="M721.2 1164.3 L724.9 1163.6" fill="none" stroke-width="3.36"/>
<path d="M696.2 1132.4 L698.8 1131.8 L702.5 1131.8 L704.5 1130.0 L706.2 1127.4 L710.0 1125.9 L712.5 1126.2 L714.5 1124.3 L718.7 1123.7 L721.5 1124.5 L724.9 1122.4 L726.8 1124.6 L729.9 1126.2 L732.6 1127.3 L736.2 1129.9 L738.7 1132.4 L736.9 1134.7 L735.6 1136.2 L736.5 1138.3 L736.2 1141.2 L737.1 1143.6 L738.1 1146.2 L735.6 1149.9 L731.9 1149.9 L729.9 1148.6 L728.4 1151.6 L724.9 1151.8 L722.4 1154.3 L718.7 1153.4 L714.9 1153.0 L711.5 1151.1 L707.5 1151.1 L707.5 1148.8 L709.3 1146.2 L707.5 1142.5 L708.7 1139.9 L706.5 1137.8 L703.7 1136.2 L700.5 1135.2 L697.5 1134.3Z" fill="#CFE5F3" stroke-width="1.68"/>
<path d="M724.9 1122.4 L726.6 1119.6 L727.4 1117.4 L729.3 1116.0 L732.4 1114.9 L736.8 1115.6 L736.3 1118.8 L735.6 1121.2 L735.8 1124.1 L736.4 1127.4 L736.2 1129.9 L732.6 1127.3 L729.9 1126.2 L726.8 1124.6Z" fill="#CFE5F3" stroke-width="1.68"/>
<path d="M727.4 1119.9 L731.8 1121.8 L735.6 1121.2" fill="none" stroke-width="1.45"/>
<path d="M736.8 1115.6 L739.2 1114.1 L741.2 1113.1 L744.8 1112.9 L747.4 1111.8 L749.9 1113.2 L753.7 1113.7 L757.7 1113.2 L761.2 1113.1 L763.2 1116.8 L762.4 1119.9 L763.4 1122.6 L761.2 1124.9 L759.2 1126.6 L756.2 1126.2 L757.8 1129.0 L758.7 1131.2 L757.5 1133.1 L754.9 1134.9 L751.0 1135.8 L747.4 1135.5 L743.0 1135.5 L739.9 1134.9 L738.7 1132.4 L736.2 1129.9 L736.4 1127.4 L735.8 1124.1 L735.6 1121.2 L736.3 1118.8Z" fill="#CFE5F3" stroke-width="1.68"/>
<path d="M741.2 1101.2 L743.9 1101.1 L746.2 1099.3 L748.0 1101.7 L748.0 1104.9 L749.2 1107.7 L746.8 1110.6 L744.7 1110.5 L741.8 1110.6 L741.8 1106.7 L740.1 1104.4Z" fill="#CFE5F3" stroke-width="2.91"/>
<path d="M748.9 1104.9 L752.8 1105.7 L755.5 1105.6 L754.7 1110.2 L752.5 1109.5 L749.4 1109.6Z" fill="#CFE5F3" stroke-width="3.14"/>
<path d="M742.4 1102.4 L743.7 1106.2 L746.2 1107.4" fill="none" stroke-width="2.80"/>
<path d="M749.9 1106.2 L753.7 1108.7" fill="none" stroke-width="2.80"/>
<path d="M763.7 1111.8 L767.0 1111.1 L769.9 1110.2 L772.4 1109.9 L775.8 1110.4 L778.2 1110.1 L781.3 1109.4 L783.6 1110.6 L786.8 1110.5 L788.8 1112.2 L792.4 1111.8 L793.5 1115.7 L794.9 1118.7 L793.4 1122.4 L794.3 1124.9 L792.7 1127.4 L791.1 1129.3 L786.5 1129.3 L783.6 1128.0 L781.2 1128.1 L778.2 1127.2 L774.9 1127.4 L770.2 1126.9 L767.4 1126.2 L764.2 1124.7 L762.4 1122.4 L760.8 1118.8 L762.4 1116.2Z" fill="#CFE5F3" stroke-width="1.68"/>
<path d="M756.2 1126.2 L759.2 1126.6 L761.2 1124.9 L764.9 1125.6 L767.4 1126.2 L770.2 1126.9 L774.9 1127.4 L778.2 1127.2 L781.2 1128.1 L783.6 1128.0 L786.0 1129.2 L789.3 1129.3 L787.4 1132.4 L784.1 1132.4 L779.9 1132.2 L777.0 1131.8 L772.4 1131.8 L769.6 1130.6 L767.4 1130.9 L765.3 1130.2 L762.4 1131.8 L758.7 1131.2 L757.8 1129.0Z" fill="#BBDA1C" stroke-width="1.68"/>
<path d="M747.4 1135.5 L751.0 1135.8 L754.9 1134.9 L757.5 1133.1 L758.7 1131.2 L762.4 1131.8 L765.3 1130.2 L767.4 1130.9 L770.5 1133.0 L769.0 1135.9 L768.6 1138.0 L766.3 1139.1 L762.4 1139.3 L759.6 1139.3 L756.2 1138.7 L752.4 1138.2 L749.9 1138.0Z" fill="#CFE5F3" stroke-width="1.68"/>
<path d="M770.5 1133.0 L772.4 1131.8 L777.0 1131.8 L779.9 1132.2 L784.1 1132.4 L787.4 1132.4 L789.9 1134.9 L788.2 1136.9 L786.1 1139.3 L782.4 1140.8 L778.6 1141.2 L775.1 1140.2 L772.4 1139.9 L768.6 1138.0 L769.0 1135.9Z" fill="#CFE5F3" stroke-width="1.68"/>
<path d="M736.2 1136.8 L739.9 1134.9 L743.0 1135.5 L747.4 1135.5 L748.7 1138.7 L744.9 1141.2 L742.8 1141.4 L739.9 1141.2 L736.4 1139.9Z" fill="#BBDA1C" stroke-width="1.68"/>
<path d="M736.4 1139.9 L739.9 1141.2 L742.8 1141.4 L744.9 1141.2 L748.7 1138.7 L749.9 1138.0 L752.4 1138.2 L756.2 1138.7 L759.9 1140.5 L757.4 1143.7 L757.6 1146.1 L758.7 1148.6 L760.5 1150.6 L763.7 1153.6 L766.1 1155.4 L768.6 1157.4 L770.8 1160.6 L773.6 1161.1 L772.4 1164.9 L769.9 1168.6 L767.4 1171.1 L767.7 1168.9 L766.2 1166.1 L767.4 1162.4 L765.1 1160.7 L762.4 1159.9 L760.5 1156.9 L757.4 1156.1 L755.2 1152.3 L752.4 1151.1 L751.1 1147.9 L748.7 1147.4 L744.9 1146.2 L742.3 1147.1 L739.9 1148.6 L737.4 1146.2 L737.2 1144.0 L736.2 1141.2Z" fill="#BBDA1C" stroke-width="1.68"/>
<path d="M756.2 1170.5 L760.8 1169.4 L763.7 1169.9 L766.2 1171.1 L763.7 1174.3 L760.0 1174.4 L757.4 1173.0Z" fill="#BBDA1C" stroke-width="1.68"/>
<path d="M741.4 1156.8 L745.5 1156.1 L745.0 1158.9 L746.2 1161.8 L746.2 1164.9 L744.9 1166.8 L741.8 1166.1 L741.8 1163.0 L740.8 1159.2Z" fill="#BBDA1C" stroke-width="1.68"/>
<path d="M742.2 1151.8 L743.9 1151.5 L744.2 1154.6 L742.4 1154.9Z" fill="#CFE5F3" stroke-width="1.79"/>
<path d="M759.9 1140.5 L763.3 1140.6 L765.8 1139.6 L768.6 1138.0 L772.4 1139.9 L775.1 1140.2 L778.6 1141.2 L779.9 1144.9 L776.1 1147.4 L777.0 1150.0 L778.6 1152.4 L774.9 1152.4 L772.2 1149.8 L769.9 1147.4 L767.5 1145.9 L764.9 1144.3 L761.2 1144.9 L757.4 1143.7Z" fill="#BBDA1C" stroke-width="1.68"/>
<path d="M778.6 1141.2 L782.4 1140.8 L786.1 1139.3 L787.3 1140.9 L788.6 1143.7 L789.4 1146.3 L790.5 1148.6 L788.6 1152.4 L786.4 1150.7 L783.6 1153.0 L781.2 1153.6 L778.6 1152.4 L777.0 1150.0 L776.1 1147.4 L779.9 1144.9Z" fill="#FFFFFF" stroke-width="1.68"/>
<path d="M786.1 1139.3 L788.2 1136.9 L789.9 1134.9 L793.1 1134.4 L797.4 1133.7 L800.3 1132.9 L804.9 1133.0 L806.3 1134.9 L808.6 1137.4 L810.4 1141.1 L811.1 1143.7 L809.2 1148.0 L807.0 1147.4 L803.7 1149.8 L801.1 1148.6 L797.4 1148.0 L793.6 1148.0 L790.5 1148.6 L789.4 1146.3 L788.6 1143.7 L787.3 1140.9Z" fill="#BBDA1C" stroke-width="1.68"/>
<path d="M804.9 1133.0 L809.2 1134.3 L810.3 1136.8 L813.0 1139.9 L812.6 1143.7 L811.1 1143.7 L810.4 1141.1 L808.6 1137.4 L806.3 1134.9Z" fill="#BBDA1C" stroke-width="1.68"/>
<path d="M790.5 1148.6 L793.6 1148.0 L797.4 1148.0 L801.1 1148.6 L803.7 1149.8 L807.0 1147.4 L809.2 1148.0 L808.0 1152.4 L806.7 1156.8 L803.6 1158.6 L799.9 1157.4 L796.6 1156.5 L793.6 1158.0 L793.2 1154.9 L791.1 1153.6 L791.6 1151.5Z" fill="#BBDA1C" stroke-width="1.68"/>
<path d="M778.6 1152.4 L781.2 1153.6 L783.6 1153.0 L786.4 1150.7 L788.6 1152.4 L791.1 1153.6 L793.2 1154.9 L793.6 1158.0 L790.1 1158.2 L787.4 1159.3 L785.1 1161.8 L783.0 1163.0 L779.9 1159.9 L778.0 1156.1Z" fill="#BBDA1C" stroke-width="1.68"/>
<path d="M783.0 1163.0 L785.1 1161.8 L787.4 1159.3 L790.1 1158.2 L793.6 1158.0 L796.6 1156.5 L799.9 1157.4 L803.6 1158.6 L799.9 1160.5 L797.6 1162.1 L794.9 1161.8 L792.4 1164.9 L793.1 1167.6 L795.5 1169.9 L793.6 1174.3 L789.9 1175.5 L788.3 1173.8 L786.1 1171.1 L783.6 1167.4Z" fill="#BBDA1C" stroke-width="2.02"/>
<path d="M793.6 1179.9 L797.9 1181.2 L801.1 1180.5" fill="none" stroke-width="3.36"/>
<path d="M797.4 1166.1 L798.6 1169.9" fill="none" stroke-width="2.69"/>
<path d="M801.1 1164.9 L802.4 1167.4" fill="none" stroke-width="2.46"/>
<path d="M823.6 1181.4 L826.2 1181.2 L828.6 1180.5" fill="none" stroke-width="3.81"/>
<circle cx="761.2" cy="1178.0" r="1.8" fill="#0b0d12" stroke="none"/>
<circle cx="754.9" cy="1170.5" r="1.8" fill="#0b0d12" stroke="none"/>
<path d="M786.1 1104.9 L788.7 1104.5 L792.4 1103.7 L795.9 1104.9 L799.9 1104.3 L803.0 1107.4 L800.2 1108.7 L798.6 1109.9 L795.2 1111.4 L792.4 1111.8 L789.9 1110.5 L786.1 1109.3Z" fill="#BBDA1C" stroke-width="1.68"/>
<path d="M786.1 1098.7 L790.3 1097.1 L793.6 1096.8 L797.7 1097.2 L801.1 1097.4 L803.7 1099.2 L807.4 1099.9 L806.7 1103.7 L803.4 1105.0 L799.9 1104.3 L795.9 1104.9 L792.4 1103.7 L788.7 1104.5 L786.1 1104.9 L786.0 1102.0Z" fill="#CFE5F3" stroke-width="1.68"/>
<path d="M788.6 1091.2 L793.3 1091.2 L796.1 1090.0 L799.1 1089.7 L802.2 1091.1 L806.1 1090.6 L808.0 1094.9 L808.6 1097.9 L807.4 1099.9 L803.7 1099.2 L801.1 1097.4 L797.7 1097.2 L793.6 1096.8 L791.4 1096.1 L788.6 1096.2 L788.8 1093.4Z" fill="#CFE5F3" stroke-width="1.68"/>
<path d="M785.5 1094.9 L788.0 1098.7" fill="none" stroke-width="2.91"/>
<path d="M794.9 1118.7 L793.5 1115.7 L792.4 1111.8 L795.2 1111.4 L798.6 1109.9 L800.2 1108.7 L803.0 1107.4 L806.6 1105.8 L809.9 1106.2 L813.9 1107.8 L817.4 1108.1 L819.0 1110.9 L821.1 1113.7 L818.8 1114.7 L818.6 1118.1 L814.9 1119.9 L810.5 1120.2 L807.4 1120.6 L804.5 1119.4 L799.9 1119.9 L797.4 1120.0Z" fill="#CFE5F3" stroke-width="1.68"/>
<path d="M794.3 1124.9 L793.4 1122.4 L794.9 1118.7 L797.4 1120.0 L799.9 1119.9 L804.5 1119.4 L807.4 1120.6 L810.5 1120.2 L814.9 1119.9 L818.6 1118.1 L820.9 1118.4 L824.6 1118.4 L827.3 1119.9 L829.9 1120.3 L833.3 1121.6 L834.8 1123.7 L838.5 1123.9 L842.3 1126.2 L844.4 1127.2 L846.9 1128.4 L849.8 1129.9 L849.5 1133.3 L848.6 1136.2 L844.9 1137.9 L842.3 1138.7 L839.9 1141.8 L834.8 1141.2 L834.2 1144.3 L829.8 1145.9 L826.7 1143.0 L824.0 1141.2 L821.1 1138.7 L817.8 1138.7 L814.9 1139.9 L812.6 1143.7 L813.0 1139.9 L810.3 1136.8 L809.2 1134.3 L804.9 1133.0 L800.3 1132.9 L797.4 1133.7 L793.1 1134.4 L789.9 1134.9 L788.7 1132.7 L789.3 1129.3 L791.1 1129.3 L792.7 1127.4Z" fill="#CFE5F3" stroke-width="1.68"/>
<path d="M733.7 1094.9 L731.5 1092.1 L729.9 1090.0 L728.7 1087.3 L730.2 1085.0 L732.1 1083.8 L734.9 1081.8 L737.3 1079.6 L741.2 1076.8 L743.7 1076.4 L746.9 1073.8 L748.7 1072.5 L751.9 1070.7 L753.8 1068.4 L756.2 1066.9 L758.8 1065.2 L761.5 1062.7 L763.7 1060.6 L765.6 1058.4 L769.4 1057.3 L772.4 1055.6 L775.8 1054.6 L779.3 1052.8 L782.4 1052.2 L784.9 1051.5 L789.6 1051.8 L792.4 1050.6 L795.5 1050.9 L797.7 1050.9 L801.1 1050.0 L805.0 1049.9 L808.6 1051.0 L811.9 1051.5 L816.1 1053.1 L815.0 1055.1 L812.4 1056.2 L808.8 1054.9 L806.1 1055.0 L803.6 1055.5 L799.9 1056.2 L797.0 1057.6 L794.9 1058.7 L794.3 1061.9 L794.1 1065.3 L792.1 1066.9 L791.1 1069.3 L789.4 1071.9 L787.4 1072.5 L783.6 1074.4 L781.1 1076.2 L778.5 1078.8 L776.1 1080.0 L773.9 1081.6 L772.4 1085.0 L774.1 1086.9 L773.6 1090.0 L772.8 1092.7 L769.9 1094.9 L768.1 1098.0 L767.4 1101.2 L766.0 1103.3 L763.7 1104.9 L761.4 1104.9 L758.7 1106.2 L756.2 1102.4 L754.5 1100.5 L754.9 1097.4 L753.0 1093.7 L750.4 1095.2 L747.4 1094.9 L744.9 1095.6 L741.2 1096.8 L736.8 1094.7Z" fill="#BBDA1C" stroke-width="2.24"/>
<path d="M753.0 1093.7 L755.1 1090.8 L756.2 1087.5 L755.7 1084.4 L754.3 1081.2 L755.5 1078.4 L757.4 1075.0 L760.8 1073.6 L761.8 1071.5 L763.7 1068.7 L768.4 1066.6 L769.9 1063.7 L772.6 1062.5 L775.0 1061.4 L777.4 1058.7 L780.9 1058.4 L784.9 1056.2 L787.8 1056.4 L792.4 1055.0 L794.9 1058.7" fill="none" stroke-width="1.46"/>
<path d="M729.9 1089.3 L731.7 1086.8 L731.8 1083.7 L735.2 1081.4 L737.4 1079.3 L740.2 1078.2 L742.5 1076.7 L744.9 1074.3 L747.3 1071.6 L750.0 1071.5 L752.4 1069.3 L754.7 1067.3 L757.8 1064.7 L759.9 1063.1 L762.9 1062.6 L765.4 1058.3 L768.6 1057.5 L771.6 1055.0 L774.2 1053.6 L778.6 1053.1 L781.6 1052.8 L783.7 1051.6 L787.3 1051.7 L789.9 1050.6 L792.4 1049.5 L795.4 1050.3 L797.8 1051.5 L801.1 1049.7" fill="none" stroke-width="3.36"/>
<path d="M794.9 1058.7 L797.0 1057.6 L799.9 1056.2 L803.6 1055.5 L806.1 1055.0 L808.8 1054.9 L812.4 1056.2 L811.8 1059.0 L811.7 1061.2 L814.1 1064.5 L813.6 1067.5 L814.8 1070.0 L816.1 1073.7 L819.2 1076.5 L820.5 1080.0 L819.1 1082.7 L817.4 1083.7 L815.5 1084.9 L812.2 1086.2 L809.9 1088.1 L806.9 1088.8 L804.0 1088.0 L801.1 1089.3 L798.3 1091.1 L794.9 1090.0 L791.4 1088.3 L788.6 1088.1 L787.1 1085.5 L786.1 1083.7 L788.2 1081.5 L788.6 1078.7 L790.1 1075.7 L793.6 1073.7 L795.5 1072.1 L797.4 1070.0 L796.4 1067.8 L795.5 1065.0 L794.3 1061.2Z" fill="#CFE5F3" stroke-width="1.68"/>
<path d="M774.9 1099.9 L777.4 1098.7" fill="none" stroke-width="3.36"/>
<path d="M781.8 1089.3 L783.0 1090.6" fill="none" stroke-width="2.91"/>
<path d="M802.4 1159.9 L805.0 1159.2 L807.4 1158.0 L811.1 1158.8 L813.6 1158.6 L817.6 1156.8 L821.1 1157.4 L825.7 1156.9 L828.6 1156.8 L832.4 1156.6 L834.2 1159.4 L837.3 1158.6 L840.3 1158.5 L843.0 1159.5 L846.1 1159.3 L848.6 1159.4 L852.5 1158.6 L854.8 1158.0 L858.7 1158.6 L862.3 1158.6 L865.9 1158.7 L867.3 1161.1 L865.8 1164.0 L866.1 1166.1 L866.6 1169.6 L868.6 1171.1 L867.1 1173.6 L864.8 1176.1 L861.4 1176.8 L857.3 1175.5 L852.7 1176.0 L849.8 1176.1 L846.2 1177.9 L843.6 1177.4 L840.3 1178.0 L837.3 1178.6 L834.8 1176.1 L831.4 1175.8 L828.6 1178.0 L824.1 1177.3 L821.1 1177.4 L818.7 1177.6 L814.9 1178.6 L813.1 1176.5 L809.9 1176.1 L808.1 1173.8 L806.1 1172.4 L805.1 1170.1 L803.6 1167.4 L804.9 1163.6Z" fill="#F8AF14" stroke-width="1.79"/>
<path d="M799.9 1157.4 L803.6 1158.6 L806.7 1156.8 L807.4 1158.0 L805.0 1159.2 L802.4 1159.9Z" fill="#F8AF14" stroke-width="1.79"/>
<path d="M898.1 1159.3 L899.9 1156.2 L902.2 1157.5 L906.2 1158.7 L907.9 1156.8 L911.2 1155.6 L914.7 1155.6 L917.4 1156.2 L920.1 1157.0 L922.4 1159.9 L925.0 1163.7 L928.7 1164.9 L932.0 1167.0 L934.9 1169.3 L937.6 1170.7 L939.9 1171.8 L943.0 1173.1 L939.9 1174.9 L936.2 1176.2 L934.8 1178.6 L932.4 1179.9 L928.7 1179.3 L927.2 1177.4 L924.9 1174.9 L921.7 1173.8 L919.9 1172.4 L917.2 1170.6 L914.9 1169.9 L912.8 1170.5 L909.9 1169.9 L906.6 1169.8 L904.9 1171.2 L902.8 1172.3 L899.9 1173.7 L898.1 1173.7 L896.8 1169.9 L894.2 1167.2 L894.3 1163.7 L893.6 1160.8 L894.9 1158.7Z" fill="#FCD3D5" stroke-width="1.68"/>
<path d="M947.4 1164.9 L949.9 1161.8 L951.9 1162.6 L954.9 1162.4 L957.6 1161.3 L959.9 1161.2 L962.4 1164.9 L965.0 1166.4 L967.4 1167.4 L964.9 1171.2 L961.2 1171.5 L958.6 1170.6 L954.9 1168.7 L952.8 1170.1 L949.9 1171.2 L946.8 1169.9 L945.7 1167.9Z" fill="#FCD3D5" stroke-width="1.68"/>
<path d="M924.9 1174.9 L927.2 1177.4 L928.7 1179.3 L932.4 1179.9 L934.8 1178.6 L936.2 1176.2 L939.9 1174.9 L943.0 1173.1 L944.7 1171.7 L946.8 1169.9 L949.9 1171.2 L952.8 1170.1 L954.9 1168.7 L958.6 1170.6 L961.2 1171.5 L964.9 1171.2 L968.6 1169.9 L966.4 1171.0 L964.9 1173.7 L962.4 1174.3 L959.9 1174.9 L958.4 1177.3 L957.4 1179.9 L957.5 1183.1 L956.1 1184.9 L953.4 1187.7 L951.1 1189.9 L947.4 1192.4 L945.0 1192.9 L942.4 1194.9 L941.0 1196.7 L941.1 1199.9 L937.0 1200.4 L933.7 1201.2 L930.7 1200.2 L927.4 1200.5 L924.9 1197.4 L925.9 1194.6 L926.2 1192.4 L923.4 1190.1 L923.0 1187.4 L923.6 1184.9 L923.7 1181.2 L924.7 1177.6Z" fill="#FCD3D5" stroke-width="1.68"/>
<path d="M855.0 1153.7 L858.3 1154.2 L861.2 1154.9 L863.7 1155.8 L867.5 1156.8 L870.0 1157.7 L872.5 1158.7 L875.1 1158.8 L878.1 1159.9 L880.0 1156.2 L880.5 1159.3 L881.8 1162.4 L880.0 1166.2 L877.5 1169.9 L873.1 1171.2 L870.0 1168.1 L867.9 1166.4 L865.6 1165.6 L866.2 1161.8 L863.6 1159.5 L861.2 1158.7 L858.2 1157.0 L856.2 1156.2Z" fill="#FCD3D5" stroke-width="1.68"/>
<path d="M865.6 1165.6 L867.9 1166.4 L870.0 1168.1 L873.1 1171.2 L877.5 1169.9 L880.0 1166.2 L883.7 1167.4 L883.4 1169.9 L886.2 1171.8 L888.9 1174.0 L892.4 1174.9 L895.0 1173.9 L898.1 1173.7 L899.9 1173.7 L902.8 1172.3 L904.9 1171.2 L906.6 1169.8 L909.9 1169.9 L912.8 1170.5 L914.9 1169.9 L917.2 1170.6 L919.9 1172.4 L921.7 1173.8 L924.9 1174.9 L924.7 1177.6 L923.7 1181.2 L923.6 1184.9 L923.0 1187.4 L923.4 1190.1 L926.2 1192.4 L925.9 1194.6 L924.9 1197.4 L927.4 1200.5 L929.3 1204.9 L929.2 1207.9 L928.7 1209.9 L926.2 1213.0 L923.7 1213.1 L919.9 1212.4 L916.3 1211.1 L913.7 1211.1 L911.0 1209.9 L907.4 1211.8 L904.9 1209.9 L902.3 1209.4 L899.9 1207.4 L897.4 1206.0 L894.9 1204.9 L892.3 1203.2 L889.9 1199.9 L886.2 1201.2 L882.5 1198.7 L881.1 1196.7 L878.7 1194.9 L877.7 1192.2 L876.2 1189.9 L874.8 1187.9 L872.5 1186.2 L870.3 1183.5 L870.0 1181.2 L871.2 1177.4 L869.6 1175.8 L867.5 1173.7 L865.6 1169.3Z" fill="#F8AF14" stroke-width="1.68"/>
<path d="M927.4 1200.5 L930.7 1200.2 L933.7 1201.2 L937.0 1200.4 L941.1 1199.9 L941.0 1196.7 L942.4 1194.9 L945.0 1192.9 L947.4 1192.4 L951.1 1189.9 L953.4 1187.7 L956.1 1184.9 L957.5 1183.1 L957.4 1179.9 L958.4 1177.3 L959.9 1174.9 L962.4 1174.3 L964.9 1173.7 L966.4 1171.0 L968.6 1169.9 L970.9 1172.0 L972.4 1173.7 L974.8 1174.8 L976.1 1177.4 L973.6 1181.2 L971.4 1181.8 L968.6 1182.4 L967.4 1184.1 L967.4 1187.4 L968.1 1189.6 L969.9 1192.4 L967.7 1194.3 L966.1 1197.4 L963.0 1198.3 L961.1 1202.4 L957.5 1204.7 L956.1 1207.4 L954.5 1210.0 L953.6 1212.4 L954.9 1216.8 L952.4 1218.0 L949.9 1218.6 L946.1 1216.1 L942.4 1214.9 L940.1 1215.2 L937.4 1215.5 L934.3 1215.8 L932.4 1216.1 L929.5 1217.0 L926.2 1215.5 L926.2 1213.0 L928.7 1209.9 L929.2 1207.9 L929.3 1204.9Z" fill="#F8AF14" stroke-width="1.68"/>
<path d="M976.1 1177.4 L979.4 1178.0 L981.1 1179.9 L984.3 1180.8 L987.4 1179.9 L985.5 1181.6 L986.1 1184.9 L986.1 1187.5 L984.9 1189.9 L985.7 1192.9 L988.6 1194.9 L990.3 1197.4 L991.1 1199.9 L993.5 1201.1 L996.1 1203.7 L999.7 1205.5 L1002.3 1206.2 L1005.4 1207.7 L1007.3 1208.6 L1009.8 1208.5 L1013.6 1209.9 L1016.1 1212.4 L1017.3 1208.6 L1019.8 1209.9 L1022.4 1211.2 L1024.8 1211.1 L1027.6 1209.7 L1029.8 1208.6 L1034.2 1207.6 L1036.1 1204.9 L1039.0 1202.8 L1042.3 1203.0 L1045.0 1204.5 L1047.3 1206.2 L1044.8 1209.9 L1041.1 1212.4 L1041.1 1215.2 L1038.6 1217.4 L1037.6 1219.6 L1036.1 1222.4 L1033.6 1219.9 L1032.3 1216.1 L1029.8 1216.1 L1028.6 1217.4 L1026.9 1219.1 L1026.1 1222.4 L1022.9 1223.6 L1019.8 1224.9 L1017.3 1226.1 L1016.4 1230.3 L1013.6 1231.1 L1011.5 1232.2 L1008.6 1234.9 L1006.0 1235.8 L1003.6 1238.6 L1000.0 1242.0 L997.3 1243.6 L995.3 1245.8 L992.3 1248.6 L992.2 1251.3 L989.9 1253.6 L989.9 1256.9 L988.6 1261.1 L986.3 1265.5 L986.1 1268.6 L983.8 1271.6 L982.4 1274.8 L979.2 1278.0 L976.9 1275.9 L976.1 1273.6 L974.9 1271.1 L973.6 1267.3 L972.2 1262.9 L971.1 1259.9 L969.5 1255.9 L968.6 1252.4 L968.9 1247.5 L966.1 1244.9 L964.8 1242.0 L964.9 1237.4 L965.3 1235.0 L964.3 1231.1 L959.9 1229.9 L956.1 1228.6 L953.6 1224.9 L956.7 1224.1 L958.6 1223.6 L956.9 1221.9 L954.9 1219.9 L952.2 1218.9 L949.9 1218.6 L952.4 1218.0 L954.9 1216.8 L953.6 1212.4 L954.5 1210.0 L956.1 1207.4 L957.5 1204.7 L961.1 1202.4 L963.0 1198.3 L966.1 1197.4 L967.7 1194.3 L969.9 1192.4 L968.1 1189.6 L967.4 1187.4 L967.4 1184.1 L968.6 1182.4 L971.4 1181.8 L973.6 1181.2Z" fill="#F8AF14" stroke-width="1.68"/>
<path d="M1017.3 1212.4 L1019.6 1213.1 L1022.3 1211.1 L1025.2 1212.1 L1027.3 1212.4 L1029.8 1216.1 L1028.6 1217.4 L1026.9 1219.1 L1026.1 1222.4 L1022.9 1223.6 L1019.8 1224.9 L1019.6 1222.6 L1018.0 1219.9 L1018.2 1216.3Z" fill="#FCD3D5" stroke-width="1.68"/>
<path d="M989.9 1199.9 L993.6 1198.7 L997.3 1200.3 L999.8 1201.2 L1002.7 1201.3 L1005.0 1204.0 L1007.3 1204.3 L1010.4 1204.4 L1012.6 1207.0 L1014.8 1207.4 L1016.1 1211.8 L1012.7 1211.8 L1009.8 1210.5 L1006.9 1207.3 L1003.6 1208.0 L999.7 1206.7 L997.3 1204.9 L994.3 1203.5 L991.1 1203.0Z" fill="#FCD3D5" stroke-width="1.68"/>
<path d="M1019.8 1207.4 L1023.8 1209.0 L1026.1 1206.8 L1029.8 1208.6 L1027.6 1209.7 L1024.8 1211.1 L1022.4 1211.2 L1019.8 1209.9Z" fill="#BBDA1C" stroke-width="1.68"/>
<path d="M988.0 1274.8 L991.1 1273.6 L993.2 1276.1 L994.2 1278.6 L994.7 1281.0 L993.6 1284.8 L989.9 1286.7 L988.3 1284.8 L987.4 1282.3 L988.9 1277.7Z" fill="#BBDA1C" stroke-width="2.02"/>
<path d="M1042.3 1203.0 L1045.0 1204.5 L1047.3 1206.2 L1049.8 1209.9 L1050.1 1212.6 L1052.3 1216.1 L1054.0 1219.3 L1054.8 1222.4 L1056.7 1223.7 L1058.5 1226.1 L1060.7 1228.7 L1061.0 1231.1 L1058.5 1233.6 L1056.7 1234.8 L1053.5 1234.9 L1051.0 1238.6 L1051.8 1240.9 L1053.5 1243.6 L1053.9 1246.3 L1054.8 1249.9 L1053.2 1253.5 L1053.5 1256.1 L1054.1 1259.4 L1054.8 1263.6 L1053.5 1266.1 L1052.4 1263.2 L1051.0 1259.9 L1049.7 1257.0 L1049.8 1253.6 L1048.8 1250.2 L1047.3 1247.4 L1045.2 1249.3 L1042.3 1249.9 L1038.6 1247.4 L1037.0 1244.7 L1036.1 1241.1 L1036.4 1237.9 L1034.8 1234.9 L1035.3 1231.1 L1032.3 1228.6 L1029.8 1224.9 L1031.0 1221.4 L1033.6 1219.9 L1036.1 1222.4 L1037.6 1219.6 L1038.6 1217.4 L1041.1 1215.2 L1041.1 1212.4 L1044.8 1209.9 L1043.7 1207.2Z" fill="#FCD3D5" stroke-width="1.68"/>
<path d="M1051.0 1238.6 L1053.5 1234.9 L1056.7 1234.8 L1058.5 1233.6 L1061.0 1237.4 L1064.1 1238.0 L1066.0 1238.6 L1068.2 1240.5 L1071.0 1242.4 L1071.9 1245.2 L1073.5 1247.4 L1073.4 1249.9 L1072.3 1252.4 L1070.1 1254.7 L1067.3 1254.9 L1064.4 1255.8 L1064.8 1259.9 L1061.0 1261.1 L1057.3 1258.6 L1054.8 1261.1 L1054.8 1263.6 L1054.8 1267.3 L1055.2 1271.1 L1056.0 1274.8 L1057.5 1278.7 L1058.5 1281.1 L1059.4 1284.2 L1061.0 1286.1 L1058.5 1287.3 L1055.6 1284.7 L1054.8 1281.1 L1054.8 1278.5 L1053.5 1274.8 L1053.7 1271.2 L1052.9 1267.3 L1054.8 1263.6 L1054.1 1259.4 L1053.5 1256.1 L1053.2 1253.5 L1054.8 1249.9 L1053.9 1246.3 L1053.5 1243.6 L1051.8 1240.9Z" fill="#CFE5F3" stroke-width="1.68"/>
<path d="M1061.0 1231.1 L1064.8 1229.9 L1068.5 1232.4 L1072.3 1234.9 L1071.0 1238.6 L1071.3 1241.5 L1074.8 1242.4 L1075.7 1245.3 L1078.5 1248.6 L1080.3 1251.0 L1081.0 1253.6 L1077.3 1256.1 L1073.5 1253.6 L1072.3 1252.4 L1073.4 1249.9 L1073.5 1247.4 L1071.9 1245.2 L1071.0 1242.4 L1068.2 1240.5 L1066.0 1238.6 L1064.1 1238.0 L1061.0 1237.4 L1058.5 1233.6Z" fill="#FCD3D5" stroke-width="1.68"/>
<path d="M1068.5 1232.4 L1069.2 1229.4 L1072.3 1226.1 L1074.4 1225.2 L1077.3 1224.9 L1079.8 1227.9 L1082.3 1228.6 L1084.8 1232.4 L1083.1 1233.9 L1079.8 1234.9 L1078.5 1238.6 L1080.1 1241.5 L1082.3 1244.9 L1083.5 1248.0 L1086.0 1251.1 L1087.1 1253.9 L1089.1 1257.4 L1088.5 1261.4 L1089.8 1263.6 L1088.3 1266.0 L1087.3 1268.6 L1085.1 1269.2 L1082.3 1271.1 L1080.2 1274.3 L1077.3 1274.8 L1073.5 1276.1 L1074.1 1273.8 L1074.8 1271.1 L1077.2 1268.8 L1078.5 1267.3 L1082.3 1264.8 L1083.4 1262.2 L1083.5 1259.9 L1081.9 1257.5 L1081.0 1253.6 L1080.3 1251.0 L1078.5 1248.6 L1075.7 1245.3 L1074.8 1242.4 L1071.3 1241.5 L1071.0 1238.6 L1072.3 1234.9Z" fill="#BBDA1C" stroke-width="1.68"/>
<path d="M1067.3 1254.9 L1070.1 1254.7 L1072.3 1252.4 L1073.5 1253.6 L1077.3 1256.1 L1081.0 1253.6 L1081.9 1257.5 L1083.5 1259.9 L1083.4 1262.2 L1082.3 1264.8 L1078.5 1267.3 L1074.8 1268.6 L1073.0 1266.1 L1069.8 1266.1 L1066.9 1264.9 L1066.7 1261.1 L1064.8 1259.9 L1064.4 1255.8Z" fill="#FCD3D5" stroke-width="1.68"/>
<path d="M1087.3 1236.1 L1091.6 1234.3 L1093.5 1237.4 L1091.0 1241.1 L1087.3 1240.5Z" fill="#BBDA1C" stroke-width="2.02"/>
<path d="M855.0 1174.9 L858.4 1174.7 L861.2 1173.7 L864.0 1171.4 L865.6 1169.3 L867.5 1173.7 L869.6 1175.8 L871.2 1177.4 L870.0 1181.2 L870.3 1183.5 L872.5 1186.2 L874.8 1187.9 L876.2 1189.9 L877.7 1192.2 L878.7 1194.9 L877.9 1198.3 L876.2 1199.9 L872.5 1199.9 L870.2 1201.4 L867.5 1201.2 L865.5 1198.6 L862.5 1198.7 L859.9 1196.4 L857.5 1194.9 L854.4 1193.5 L852.5 1191.2 L848.1 1189.3 L848.7 1184.9 L851.1 1182.2 L853.7 1179.9 L854.8 1177.4Z" fill="#FCD3D5" stroke-width="1.68"/>
<path d="M835.6 1179.9 L837.5 1178.2 L840.0 1177.4 L843.8 1177.6 L846.2 1176.2 L849.4 1176.6 L852.4 1176.2 L855.0 1174.9 L854.8 1177.4 L853.7 1179.9 L851.1 1182.2 L848.7 1184.9 L848.1 1189.3 L846.0 1190.9 L842.5 1189.9 L839.6 1188.2 L837.5 1188.7 L835.0 1184.9 L835.2 1182.1Z" fill="#BBDA1C" stroke-width="1.68"/>
<path d="M835.0 1184.9 L837.5 1188.7 L839.6 1188.2 L842.5 1189.9 L846.0 1190.9 L848.1 1189.3 L846.2 1193.7 L844.4 1195.5 L841.2 1197.4 L843.7 1199.9 L841.3 1201.4 L838.7 1204.9 L835.0 1206.2 L833.7 1202.4 L832.5 1198.7 L833.4 1195.5 L834.4 1192.4 L834.2 1188.6Z" fill="#BBDA1C" stroke-width="1.68"/>
<path d="M834.4 1192.4 L838.7 1193.0 L838.5 1195.7 L837.5 1198.7 L836.1 1201.5 L835.0 1206.2" fill="none" stroke-width="1.45"/>
<path d="M835.0 1206.2 L838.7 1204.9 L841.3 1201.4 L843.7 1199.9 L841.2 1197.4 L844.4 1195.5 L846.2 1193.7 L848.1 1189.3 L852.5 1191.2 L854.4 1193.5 L857.5 1194.9 L859.9 1196.4 L862.5 1198.7 L865.5 1198.6 L867.5 1201.2 L870.2 1201.4 L872.5 1199.9 L876.2 1199.9 L878.7 1203.7 L880.4 1205.8 L883.7 1208.6 L883.7 1213.0 L886.2 1214.9 L888.2 1217.2 L888.7 1219.9 L889.9 1223.6 L893.1 1223.7 L897.4 1226.1 L900.5 1227.0 L902.4 1228.6 L904.9 1231.1 L903.0 1233.5 L901.2 1236.1 L899.1 1238.8 L896.2 1238.6 L892.7 1239.1 L889.9 1241.1 L885.6 1243.0 L882.5 1242.4 L879.0 1244.2 L876.2 1244.9 L873.8 1246.7 L872.5 1248.6 L870.0 1252.4 L868.3 1250.9 L866.2 1248.6 L862.5 1246.1 L861.7 1243.4 L860.0 1241.1 L857.7 1237.2 L856.2 1234.9 L853.8 1231.9 L852.5 1228.6 L849.9 1226.4 L848.7 1222.4 L846.8 1219.9 L845.0 1216.1 L843.2 1212.5 L841.2 1211.1 L837.5 1208.6Z" fill="#BBDA1C" stroke-width="1.68"/>
<path d="M876.2 1199.9 L879.3 1199.3 L880.0 1202.4 L878.7 1203.7Z" fill="#FCD3D5" stroke-width="1.55"/>
<path d="M862.5 1246.1 L866.2 1248.6 L868.3 1250.9 L870.0 1252.4 L872.5 1248.6 L873.8 1246.7 L876.2 1244.9 L879.0 1244.2 L882.5 1242.4 L885.6 1243.0 L889.9 1241.1 L892.4 1244.9 L893.7 1248.6 L890.5 1250.2 L887.4 1253.6 L883.3 1254.8 L880.0 1256.1 L877.6 1256.4 L876.2 1259.6 L872.5 1259.9 L870.0 1260.5 L866.2 1261.7 L862.5 1262.3 L861.6 1260.2 L860.6 1257.4 L861.3 1254.1 L861.2 1251.1 L861.0 1248.6Z" fill="#FCD3D5" stroke-width="1.68"/>
<path d="M889.9 1241.1 L892.7 1239.1 L896.2 1238.6 L899.1 1238.8 L901.2 1236.1 L903.0 1233.5 L904.9 1231.1 L904.5 1227.7 L903.7 1224.9 L904.7 1221.6 L906.2 1219.9 L908.1 1222.6 L911.2 1223.6 L913.7 1225.1 L917.4 1227.4 L917.2 1230.4 L916.2 1232.4 L914.5 1235.7 L911.2 1237.4 L909.0 1239.5 L907.4 1242.4 L904.8 1244.1 L902.4 1246.1 L899.9 1246.6 L897.4 1248.6 L893.7 1248.6 L892.4 1244.9Z" fill="#FCD3D5" stroke-width="1.68"/>
<path d="M889.9 1223.6 L893.1 1223.7 L897.4 1226.1 L900.5 1227.0 L902.4 1228.6 L904.9 1231.1 L904.5 1227.7 L903.7 1224.9 L904.7 1221.6 L906.2 1219.9 L905.1 1217.5 L904.9 1214.9 L902.4 1218.6 L899.3 1219.8 L897.4 1221.1 L894.1 1221.9 L891.2 1220.5Z" fill="#FCD3D5" stroke-width="1.68"/>
<path d="M886.2 1214.3 L888.4 1213.9 L888.7 1218.0 L886.8 1218.6Z" fill="#FFFFFF" stroke-width="1.55"/>
<path d="M896.2 1262.3 L899.3 1262.7" fill="none" stroke-width="3.36"/>
<path d="M1032.9 1258.6 L1031.3 1262.3 L1031.3 1264.8 L1030.2 1267.6 L1030.4 1269.8" fill="none" stroke-width="2.46"/>
<path d="M963.0 1282.3 L962.6 1285.1 L964.3 1287.3 L965.5 1291.1" fill="none" stroke-width="2.46"/>
<path d="M878.1 1141.2 L880.0 1139.8 L882.5 1138.7 L885.9 1138.7 L889.9 1137.5 L892.8 1138.5 L894.9 1138.7 L893.7 1142.5 L891.4 1144.5 L888.7 1143.7 L886.5 1145.9 L884.9 1147.5 L886.6 1149.9 L886.2 1152.5 L888.2 1153.9 L891.2 1156.2 L894.9 1158.7 L893.6 1160.8 L894.3 1163.7 L894.2 1167.2 L896.8 1169.9 L898.1 1173.7 L895.0 1173.9 L892.4 1174.9 L888.9 1174.0 L886.2 1171.8 L883.4 1169.9 L883.7 1167.4 L882.8 1164.5 L881.8 1162.4 L880.5 1159.3 L880.0 1156.2 L878.1 1152.6 L877.5 1150.0 L875.8 1147.7 L875.6 1145.0Z" fill="#FFFFFF" stroke-width="1.68"/>
<path d="M878.1 1141.2 L876.6 1139.2 L874.2 1136.5 L873.7 1133.7 L873.1 1131.3 L873.7 1127.5 L876.8 1125.3 L880.0 1123.1 L882.7 1122.6 L885.3 1122.0 L888.7 1121.2 L891.8 1121.4 L894.9 1122.9 L897.4 1123.7 L900.7 1124.1 L904.9 1123.1 L907.9 1122.2 L910.7 1121.9 L913.7 1122.5 L916.2 1122.3 L918.6 1122.7 L921.8 1123.1 L922.7 1119.6 L923.4 1117.1 L922.4 1113.7 L925.9 1112.7 L929.9 1111.9 L933.3 1111.0 L936.3 1110.3 L939.9 1110.0 L943.8 1110.3 L946.9 1109.4 L949.9 1107.5 L953.2 1108.2 L956.1 1109.4 L958.9 1113.0 L962.4 1112.5 L965.5 1112.4 L969.9 1113.1 L973.0 1112.3 L977.4 1111.2 L979.1 1114.4 L981.8 1114.7 L983.6 1117.5 L986.3 1119.7 L987.4 1121.9 L990.1 1122.5 L993.6 1123.1 L996.1 1123.7 L999.5 1123.9 L1001.9 1126.2 L1004.8 1126.9 L1008.7 1127.2 L1011.1 1130.0" fill="none" stroke-width="1.57"/>
<path d="M1011.1 1130.0 L1009.2 1132.1 L1007.3 1135.0 L1004.1 1135.6 L1001.1 1137.5 L998.6 1140.3 L997.3 1142.5 L994.5 1143.1 L991.1 1145.0 L989.7 1148.3 L988.6 1151.2 L986.3 1153.2 L983.6 1153.1" fill="none" stroke-width="1.57"/>
<path d="M983.6 1153.1 L980.7 1152.0 L977.9 1152.0 L974.9 1151.2 L971.2 1150.3 L967.4 1152.5 L963.6 1154.4 L959.9 1154.9 L957.8 1155.5 L954.9 1157.4 L952.4 1158.7 L949.9 1159.9" fill="none" stroke-width="1.57"/>
<path d="M949.9 1159.9 L947.1 1159.0 L943.0 1158.7 L940.6 1156.3 L939.9 1153.1 L936.2 1151.7 L933.4 1152.3 L930.1 1150.4 L927.4 1149.3 L924.8 1148.1 L920.6 1147.7 L917.5 1146.3 L915.7 1146.2 L912.4 1143.7 L909.6 1145.1 L906.4 1145.6 L906.4 1148.6 L906.4 1151.7 L905.6 1154.9 L906.2 1158.7" fill="none" stroke-width="1.57"/>
<path d="M983.6 1153.1 L980.6 1154.5 L977.4 1156.2 L975.1 1157.5 L972.3 1159.6 L969.9 1159.9 L969.2 1164.4 L967.4 1167.4" fill="none" stroke-width="1.57"/>
<path d="M949.9 1159.9 L952.5 1161.6 L954.9 1162.4" fill="none" stroke-width="1.57"/>
<path d="M948.6 1159.9 L951.8 1159.8 L953.6 1158.7 L957.4 1161.2 L953.6 1162.4 L949.9 1161.8" fill="none" stroke-width="2.91"/>
<path d="M1017.3 1131.1 L1020.5 1130.5 L1022.8 1128.2 L1024.8 1127.4 L1028.5 1127.3 L1030.9 1125.6 L1034.8 1124.9 L1038.2 1124.1 L1040.8 1123.8 L1044.9 1123.4 L1047.3 1123.6 L1049.1 1121.2 L1052.3 1119.9 L1055.0 1120.1 L1059.6 1121.1 L1062.3 1122.4 L1065.7 1124.1 L1068.1 1123.2 L1072.1 1125.5 L1074.7 1126.1 L1078.1 1127.3 L1081.5 1127.5 L1083.3 1127.7 L1087.2 1128.6 L1091.0 1128.8 L1093.0 1126.6 L1096.1 1129.1 L1099.7 1128.6 L1103.8 1127.4 L1105.6 1128.2 L1109.7 1127.4 L1111.8 1129.6 L1114.9 1131.7 L1117.2 1132.4 L1119.9 1134.7 L1121.7 1136.3 L1124.7 1136.9 L1122.6 1137.7 L1120.2 1139.6 L1117.2 1139.9 L1113.9 1140.4 L1109.8 1140.5 L1107.2 1141.1 L1105.2 1143.3 L1102.1 1145.1 L1099.7 1146.1 L1097.4 1149.1 L1094.7 1149.9 L1091.0 1151.3 L1087.3 1151.9 L1084.7 1153.6 L1081.9 1153.6 L1079.1 1154.7 L1075.4 1155.1 L1072.2 1156.9 L1068.6 1155.5 L1065.6 1155.4 L1062.4 1155.6 L1059.8 1154.9 L1056.5 1153.6 L1053.9 1153.2 L1050.8 1153.2 L1047.3 1152.4 L1045.7 1150.4 L1043.0 1149.0 L1039.8 1147.4 L1037.9 1144.2 L1035.0 1145.0 L1032.3 1142.4 L1029.1 1141.1 L1027.1 1140.8 L1024.8 1138.6 L1022.7 1136.8 L1021.0 1134.9 L1018.7 1132.6Z" fill="#FCD3D5" stroke-width="1.68"/>
<path d="M1124.3 1137.4 L1121.9 1135.5 L1118.2 1134.2 L1116.6 1132.9 L1113.7 1131.2 L1116.7 1130.0 L1120.0 1127.4 L1122.1 1126.5 L1124.9 1124.9 L1125.7 1121.5 L1125.7 1118.1 L1127.4 1116.2 L1132.0 1115.4 L1134.9 1114.3 L1138.5 1115.9 L1142.4 1114.9 L1144.7 1117.2 L1147.4 1118.7 L1149.3 1121.0 L1149.9 1124.9 L1153.3 1126.2 L1153.7 1128.7 L1156.5 1129.3 L1159.9 1129.9 L1161.8 1133.1 L1163.7 1134.9 L1167.4 1134.0 L1169.9 1133.7 L1173.1 1134.2 L1176.2 1133.1 L1176.2 1136.0 L1174.9 1139.9 L1172.4 1141.5 L1169.9 1143.7 L1166.2 1146.2 L1165.3 1148.9 L1165.4 1151.4 L1164.9 1154.9" fill="none" stroke-width="1.57"/>
<path d="M1143.7 1164.9 L1145.4 1163.2 L1147.4 1161.2 L1150.6 1160.9 L1152.4 1158.7 L1155.2 1158.3 L1157.4 1156.2 L1161.2 1153.7 L1164.9 1154.9 L1162.4 1158.7 L1159.0 1159.6 L1157.4 1162.4 L1156.1 1164.2 L1153.7 1166.2 L1154.9 1168.6 L1151.7 1168.4 L1149.9 1169.9 L1146.2 1169.9 L1144.3 1167.4Z" fill="#FCD3D5" stroke-width="1.79"/>
<path d="M1146.2 1169.9 L1149.9 1169.9 L1151.7 1168.4 L1154.9 1168.6 L1157.4 1172.4 L1158.7 1175.9 L1158.7 1178.6 L1156.2 1182.4 L1153.7 1182.3 L1151.2 1183.0 L1148.1 1181.8 L1148.9 1178.7 L1147.4 1176.1 L1147.5 1173.4Z" fill="#BBDA1C" stroke-width="2.02"/>
<path d="M1199.9 1112.5 L1204.3 1111.2 L1205.1 1114.1 L1205.5 1116.2 L1205.1 1119.0 L1206.7 1122.4 L1207.6 1125.7 L1209.2 1127.5 L1209.9 1131.2 L1207.4 1132.4 L1206.3 1134.7 L1205.5 1137.4 L1203.6 1141.2 L1201.1 1139.9 L1200.8 1136.0 L1200.5 1132.4 L1201.3 1128.8 L1201.1 1124.9 L1200.1 1121.3 L1200.5 1118.7 L1200.8 1115.8Z" fill="#BBDA1C" stroke-width="2.02"/>
<path d="M1201.1 1147.4 L1204.9 1146.2 L1207.1 1147.3 L1208.6 1149.9 L1210.5 1149.3 L1213.6 1149.3 L1211.2 1150.5 L1209.9 1153.0 L1206.1 1154.9 L1202.4 1155.5 L1199.9 1152.4 L1201.3 1150.6Z" fill="#BBDA1C" stroke-width="2.02"/>
<path d="M1196.1 1158.7 L1200.5 1159.9 L1200.8 1163.4 L1202.4 1164.9 L1201.2 1167.8 L1199.9 1169.9 L1199.0 1173.3 L1197.4 1176.1 L1194.3 1177.6 L1193.6 1179.9 L1190.3 1181.4 L1187.4 1181.8 L1184.7 1183.0 L1182.4 1183.0 L1179.7 1184.3 L1177.4 1184.9 L1174.3 1184.4 L1172.4 1186.1 L1170.3 1185.5 L1167.4 1185.5 L1163.7 1183.6 L1164.8 1181.5 L1167.4 1180.5 L1171.2 1178.8 L1173.7 1178.6 L1176.2 1177.5 L1179.9 1176.8 L1182.3 1174.3 L1184.9 1172.4 L1186.9 1171.0 L1189.9 1168.6 L1191.7 1166.1 L1193.6 1163.7 L1195.2 1162.1Z" fill="#BBDA1C" stroke-width="2.13"/>
<path d="M1159.9 1186.8 L1162.1 1184.8 L1164.9 1185.5 L1168.7 1187.4 L1166.2 1191.1 L1164.2 1193.5 L1163.7 1196.1 L1161.2 1197.4 L1160.6 1194.5 L1159.3 1192.4 L1160.1 1189.9Z" fill="#BBDA1C" stroke-width="2.24"/>
<path d="M1169.9 1186.8 L1173.4 1186.7 L1176.2 1185.5 L1177.4 1188.0 L1174.4 1188.8 L1172.4 1189.9Z" fill="#BBDA1C" stroke-width="2.24"/>
<path d="M1194.9 1152.4 L1195.6 1154.9 L1196.1 1158.7" fill="none" stroke-width="3.36"/>
<path d="M1128.1 1218.6 L1131.8 1216.7 L1132.4 1221.1 L1130.3 1223.9 L1129.9 1227.3 L1127.4 1228.6 L1128.2 1225.9 L1126.4 1223.6 L1127.8 1221.8Z" fill="#BBDA1C" stroke-width="1.90"/>
<path d="M1183.0 1109.3 L1186.8 1110.6" fill="none" stroke-width="3.81"/>
<path d="M1244.8 1128.7 L1247.3 1126.2" fill="none" stroke-width="2.69"/>
<path d="M1234.8 1138.1 L1237.3 1137.2" fill="none" stroke-width="2.69"/>
<path d="M1227.4 1141.8 L1229.9 1140.6" fill="none" stroke-width="2.69"/>
<path d="M1219.9 1146.2 L1223.0 1144.7" fill="none" stroke-width="2.69"/>
<path d="M1212.4 1149.3 L1214.9 1148.4" fill="none" stroke-width="2.69"/>
<path d="M1283.6 1107.5 L1287.3 1109.3 L1291.7 1111.0" fill="none" stroke-width="2.69"/>
<path d="M1306.7 1116.4 L1310.4 1116.9" fill="none" stroke-width="2.69"/>
<path d="M1323.5 1119.7 L1327.3 1120.6 L1331.0 1121.8" fill="none" stroke-width="2.69"/>
<path d="M1157.4 1204.9 L1159.3 1203.6" fill="none" stroke-width="2.69"/>
<path d="M1151.8 1213.0 L1153.7 1211.1" fill="none" stroke-width="2.69"/>
<path d="M1146.8 1187.1 L1149.3 1187.4" fill="none" stroke-width="2.69"/>
<path d="M1154.9 1189.9 L1156.2 1190.5" fill="none" stroke-width="2.69"/>
<path d="M1274.8 1093.1 L1277.9 1093.1 L1281.1 1092.7" fill="none" stroke-width="2.69"/>
<path d="M1104.1 1387.4 L1108.0 1386.4 L1109.9 1383.2 L1113.8 1382.5 L1116.6 1381.5 L1119.7 1380.0 L1122.7 1379.8 L1124.9 1378.2 L1128.3 1376.1 L1131.6 1374.9 L1133.5 1370.9 L1134.9 1368.2 L1137.3 1365.7 L1139.4 1364.8 L1141.5 1363.2 L1143.9 1361.2 L1148.2 1359.0 L1151.1 1358.9 L1154.0 1359.1 L1156.5 1359.9 L1159.6 1356.5 L1160.7 1353.2 L1163.2 1350.8 L1165.7 1349.1 L1169.3 1351.0 L1173.2 1351.6 L1176.7 1349.8 L1179.8 1350.7 L1183.2 1354.1 L1183.2 1356.9 L1181.5 1359.0 L1185.8 1361.2 L1188.2 1363.2 L1190.3 1365.0 L1193.2 1368.2 L1196.2 1368.2 L1197.3 1370.7 L1198.9 1367.8 L1198.6 1363.8 L1199.8 1361.5 L1200.0 1358.9 L1200.8 1356.3 L1201.5 1353.2 L1202.1 1350.2 L1203.2 1347.4 L1205.7 1349.9 L1204.0 1353.4 L1206.5 1356.5 L1209.5 1358.4 L1209.8 1361.5 L1212.1 1365.2 L1214.0 1368.2 L1215.2 1371.6 L1214.7 1374.2 L1215.6 1376.5 L1217.8 1378.0 L1220.2 1380.2 L1221.5 1383.2 L1223.8 1384.0 L1226.0 1387.0 L1228.1 1388.2 L1231.4 1391.0 L1233.1 1393.2 L1234.9 1395.9 L1239.0 1398.2 L1239.7 1401.1 L1241.3 1404.0 L1241.5 1406.5 L1241.5 1408.7 L1241.2 1411.7 L1240.6 1414.8 L1240.0 1417.9 L1239.2 1421.0 L1238.1 1423.2 L1235.7 1426.0 L1235.5 1428.4 L1234.0 1431.5 L1234.4 1434.3 L1230.3 1436.6 L1229.8 1439.8 L1227.6 1442.4 L1224.8 1444.8 L1221.3 1446.9 L1218.1 1448.1 L1215.8 1447.8 L1212.3 1447.3 L1209.2 1448.3 L1206.5 1448.1 L1202.6 1448.1 L1199.8 1446.5 L1197.2 1443.4 L1194.8 1442.3 L1192.5 1439.3 L1190.7 1436.5 L1186.5 1438.1 L1185.1 1434.9 L1184.0 1432.3 L1184.8 1429.8 L1186.5 1426.5 L1184.2 1428.6 L1181.5 1430.3 L1179.8 1432.3 L1175.9 1429.6 L1174.8 1426.5 L1172.3 1424.5 L1168.2 1423.2 L1165.3 1422.2 L1162.2 1422.6 L1159.9 1421.5 L1156.5 1421.9 L1154.0 1422.9 L1149.9 1423.2 L1147.5 1423.6 L1143.6 1424.2 L1141.5 1424.8 L1138.1 1425.9 L1136.4 1427.5 L1133.2 1429.8 L1130.6 1430.7 L1128.1 1431.3 L1124.9 1432.3 L1121.8 1433.5 L1119.8 1434.9 L1116.6 1434.8 L1112.8 1435.0 L1109.9 1433.1 L1108.4 1430.2 L1108.2 1428.1 L1108.8 1424.7 L1109.9 1421.5 L1108.6 1419.4 L1109.5 1416.0 L1107.4 1413.2 L1106.9 1410.3 L1106.2 1406.0 L1104.9 1403.2 L1102.4 1399.8 L1104.0 1397.4 L1104.9 1394.8 L1105.8 1390.9Z" fill="#F8AF14" stroke-width="2.02"/>
<path d="M1183.2 1434.0 L1184.6 1432.2 L1186.5 1429.8" fill="none" stroke-width="3.36"/>
<path d="M1210.6 1454.0 L1213.3 1454.7 L1216.5 1455.6 L1219.2 1454.5 L1222.3 1453.1 L1224.0 1457.3 L1222.0 1460.4 L1221.5 1463.1 L1218.6 1464.5 L1216.5 1464.8 L1214.5 1462.4 L1212.3 1460.6 L1211.6 1458.1Z" fill="#F8AF14" stroke-width="1.79"/>
<path d="M1308.1 1434.0 L1311.4 1436.5 L1314.1 1439.7 L1316.4 1442.3 L1318.2 1444.7 L1319.7 1446.5 L1323.7 1445.7 L1326.4 1444.8 L1326.3 1447.2 L1324.7 1449.8 L1320.9 1452.0 L1319.7 1454.8 L1317.6 1457.3 L1314.7 1457.3 L1311.4 1454.0 L1312.9 1451.7 L1313.1 1448.1 L1312.8 1445.0 L1312.2 1443.1 L1309.9 1441.9 L1309.7 1439.0 L1308.9 1436.7Z" fill="#F8AF14" stroke-width="2.46"/>
<path d="M1309.7 1456.5 L1313.1 1459.8 L1311.3 1462.8 L1309.7 1464.8 L1307.3 1468.2 L1304.7 1469.8 L1303.2 1472.3 L1299.7 1474.8 L1297.0 1476.4 L1293.1 1478.1 L1290.5 1476.7 L1288.1 1476.4 L1289.7 1472.3 L1293.5 1470.4 L1296.4 1468.1 L1298.6 1465.6 L1301.4 1463.1 L1305.1 1461.4 L1306.4 1459.0Z" fill="#F8AF14" stroke-width="2.46"/>
<circle cx="1289.7" cy="1479.6" r="1.6" fill="#0b0d12" stroke="none"/>
<circle cx="1208.1" cy="1452.3" r="1.6" fill="#0b0d12" stroke="none"/>
<circle cx="1222.3" cy="1452.3" r="1.6" fill="#0b0d12" stroke="none"/>
<path d="M1040.8 1288.3 L1044.0 1288.3 L1046.6 1289.1 L1049.0 1290.7 L1050.5 1294.2 L1053.3 1294.9 L1054.7 1297.2 L1057.9 1299.1 L1060.0 1301.6 L1061.1 1304.2 L1064.8 1304.9 L1066.6 1308.3 L1069.3 1309.8 L1070.4 1312.4 L1073.3 1314.9 L1075.9 1317.5 L1076.6 1319.9 L1077.1 1324.0 L1077.4 1327.4 L1073.3 1328.2 L1070.7 1326.0 L1069.3 1324.8 L1066.6 1323.2 L1064.4 1321.6 L1061.6 1318.6 L1060.0 1316.6 L1058.1 1314.5 L1055.8 1313.2 L1054.1 1309.9 L1052.3 1308.5 L1052.3 1304.9 L1049.1 1303.3 L1046.9 1300.3 L1046.3 1297.7 L1044.1 1295.8 L1043.3 1293.9 L1041.8 1290.7Z" fill="#FCD3D5" stroke-width="1.90"/>
<path d="M1042.5 1298.3 L1043.9 1301.0 L1045.8 1303.3" fill="none" stroke-width="2.46"/>
<path d="M1050.0 1309.9 L1051.3 1314.1 L1054.1 1316.6 L1056.0 1319.8 L1058.3 1320.7" fill="none" stroke-width="2.24"/>
<path d="M1063.3 1326.6 L1065.8 1327.4" fill="none" stroke-width="2.46"/>
<path d="M1059.1 1286.6 L1063.3 1284.9 L1065.9 1286.3 L1067.4 1288.3 L1068.6 1291.2 L1069.1 1294.9 L1069.3 1298.4 L1069.9 1301.6 L1066.6 1303.3 L1063.7 1300.6 L1062.5 1298.3 L1060.8 1295.9 L1060.0 1292.4 L1059.4 1289.4Z" fill="#BBDA1C" stroke-width="1.90"/>
<path d="M1077.4 1329.1 L1080.2 1329.8 L1084.9 1329.9 L1087.5 1330.7 L1091.1 1330.1 L1093.3 1332.4 L1096.0 1331.6 L1098.4 1334.9 L1101.6 1334.9 L1103.9 1335.5 L1107.6 1335.8 L1109.9 1336.6 L1112.4 1337.4 L1114.7 1339.1 L1118.2 1338.2 L1121.8 1339.4 L1124.9 1339.9 L1124.1 1342.4 L1120.4 1342.1 L1116.6 1341.6 L1113.8 1341.0 L1111.0 1340.1 L1108.2 1339.9 L1105.2 1339.6 L1102.5 1339.2 L1099.9 1338.2 L1097.5 1337.4 L1094.5 1338.5 L1091.6 1336.6 L1088.0 1336.7 L1086.2 1335.3 L1083.3 1334.1 L1081.3 1332.6 L1077.4 1331.6Z" fill="#FCD3D5" stroke-width="2.02"/>
<path d="M1126.6 1341.2 L1129.3 1340.7 L1133.2 1340.7" fill="none" stroke-width="2.69"/>
<path d="M1135.7 1344.9 L1138.8 1343.1 L1141.5 1341.6 L1145.3 1340.1 L1148.2 1338.2" fill="none" stroke-width="2.69"/>
<path d="M1138.2 1346.6 L1140.3 1345.3 L1143.2 1344.9" fill="none" stroke-width="2.69"/>
<path d="M1153.2 1336.6 L1155.7 1335.7" fill="none" stroke-width="2.69"/>
<path d="M1160.7 1334.9 L1162.4 1334.1" fill="none" stroke-width="2.69"/>
<path d="M1126.6 1306.6 L1129.3 1305.8 L1133.2 1304.1 L1136.3 1303.8 L1138.4 1303.8 L1141.5 1303.3 L1143.2 1304.9" fill="none" stroke-width="2.69"/>
<path d="M1128.2 1307.4 L1127.5 1311.2 L1126.6 1314.9 L1126.4 1318.7 L1124.1 1321.6 L1124.3 1325.3 L1124.9 1328.2" fill="none" stroke-width="2.69"/>
<path d="M1129.9 1313.3 L1132.4 1315.2 L1134.9 1316.6 L1135.4 1320.1 L1134.1 1323.2 L1134.9 1327.4" fill="none" stroke-width="2.69"/>
<path d="M1126.6 1314.9 L1129.2 1314.0 L1131.6 1313.3" fill="none" stroke-width="2.69"/>
<path d="M1152.4 1299.9 L1154.2 1302.4 L1154.0 1304.9 L1154.5 1307.1 L1153.2 1309.9" fill="none" stroke-width="2.69"/>
<path d="M1151.5 1311.6 L1154.5 1310.8 L1156.5 1312.4" fill="none" stroke-width="2.69"/>
<path d="M1148.2 1319.9 L1150.8 1321.3 L1154.1 1320.2 L1156.5 1320.7 L1159.2 1319.3 L1161.5 1319.6" fill="none" stroke-width="2.69"/>
<path d="M1169.9 1328.2 L1170.7 1331.6" fill="none" stroke-width="2.69"/>
<path d="M1174.8 1328.2 L1175.7 1332.4" fill="none" stroke-width="2.69"/>
<path d="M1096.6 1299.9 L1099.3 1298.1 L1100.2 1296.6 L1103.2 1294.9 L1106.9 1293.6 L1109.9 1291.6 L1113.8 1289.3 L1114.9 1286.6 L1117.5 1284.8 L1118.2 1282.5 L1121.6 1284.9 L1120.8 1287.7 L1119.9 1289.9 L1123.2 1292.4 L1120.9 1294.5 L1118.2 1295.8 L1114.9 1297.8 L1111.6 1298.3 L1109.3 1300.6 L1106.6 1301.6 L1102.9 1302.4 L1100.7 1303.3 L1099.0 1301.2Z" fill="#BBDA1C" stroke-width="1.90"/>
<path d="M1088.3 1302.4 L1090.9 1300.4 L1093.5 1300.9 L1096.6 1299.9 L1099.0 1301.2 L1100.7 1303.3 L1102.9 1302.4 L1106.6 1301.6 L1109.3 1300.6 L1111.6 1298.3 L1114.9 1297.8 L1118.2 1295.8 L1119.6 1298.2 L1119.9 1301.6 L1117.6 1305.5 L1116.6 1308.3 L1114.7 1310.6 L1113.2 1314.9 L1112.0 1318.9 L1111.6 1321.6 L1108.5 1320.7 L1106.6 1322.4 L1103.8 1321.6 L1101.6 1319.1 L1099.4 1321.3 L1096.6 1320.7 L1094.5 1317.5 L1091.6 1316.6 L1090.8 1312.9 L1089.1 1309.9 L1089.9 1306.3Z" fill="#FCD3D5" stroke-width="1.90"/>
<path d="M1166.5 1311.6 L1168.6 1310.5 L1172.3 1309.9 L1173.5 1313.0 L1176.5 1314.1 L1180.3 1313.0 L1183.2 1313.3 L1186.0 1313.9 L1189.8 1314.9 L1192.4 1315.5 L1194.7 1317.1 L1198.2 1317.4 L1200.7 1318.7 L1203.3 1319.4 L1206.5 1320.7 L1210.5 1323.0 L1213.1 1324.9 L1215.2 1327.9 L1218.1 1329.1 L1216.5 1333.2 L1219.6 1335.3 L1221.5 1338.2 L1223.0 1340.5 L1226.5 1342.4 L1229.7 1343.1 L1232.3 1344.1 L1229.8 1346.6 L1227.1 1343.8 L1223.1 1344.9 L1221.5 1342.5 L1218.0 1342.1 L1216.5 1339.9 L1212.2 1339.2 L1209.8 1338.2 L1206.9 1339.2 L1204.8 1340.7 L1202.0 1340.1 L1198.2 1341.6 L1195.2 1340.6 L1193.2 1338.2 L1192.2 1335.2 L1190.7 1333.2 L1188.1 1335.4 L1186.5 1336.6 L1187.7 1333.9 L1188.2 1329.9 L1186.2 1326.1 L1183.2 1324.9 L1180.3 1322.9 L1178.2 1321.6 L1175.3 1320.3 L1173.2 1320.7 L1169.6 1319.0 L1168.2 1316.6 L1167.3 1314.1Z" fill="#FCD3D5" stroke-width="2.02"/>
<path d="M1198.2 1317.4 L1198.7 1319.8 L1197.9 1324.1 L1198.4 1326.3 L1197.6 1329.7 L1198.2 1332.6 L1199.8 1335.7 L1199.2 1338.7 L1198.2 1341.6" fill="none" stroke-width="1.45"/>
<path d="M1218.1 1329.9 L1221.4 1330.5 L1223.9 1328.6 L1226.5 1328.2 L1229.5 1326.9 L1234.0 1325.7 L1237.0 1324.8 L1238.1 1322.4 L1237.0 1320.2 L1234.8 1318.3 L1232.1 1316.3 L1229.0 1316.9" fill="none" stroke-width="2.24"/>
<path d="M1244.8 1328.2 L1247.6 1330.5 L1249.8 1331.6" fill="none" stroke-width="2.69"/>
<path d="M1251.4 1334.1 L1253.3 1335.5 L1256.4 1336.6" fill="none" stroke-width="2.69"/>
<path d="M1258.1 1338.2 L1261.3 1339.3 L1263.1 1340.7" fill="none" stroke-width="2.69"/>
<path d="M1263.9 1343.2 L1267.0 1345.1 L1269.8 1346.6" fill="none" stroke-width="2.69"/>
<path d="M1288.1 1363.2 L1289.0 1365.5 L1290.6 1368.2" fill="none" stroke-width="2.69"/>
<path d="M1292.2 1371.5 L1293.1 1374.9" fill="none" stroke-width="2.69"/>
<path d="M1278.1 1382.4 L1280.8 1384.1 L1283.1 1386.5 L1285.4 1386.8 L1287.2 1389.0" fill="none" stroke-width="2.69"/>
<path d="M1326.4 1373.2 L1328.2 1371.1 L1329.7 1369.0 L1332.2 1367.4" fill="none" stroke-width="2.69"/>
<path d="M1032.5 1259.1 L1031.8 1261.9 L1030.0 1264.8 L1030.8 1269.1" fill="none" stroke-width="2.69"/>
<circle cx="1210.6" cy="1260.0" r="1.6" fill="#0b0d12" stroke="none"/>
<circle cx="1283.9" cy="1347.4" r="1.6" fill="#0b0d12" stroke="none"/>
<circle cx="1264.8" cy="1349.9" r="1.6" fill="#0b0d12" stroke="none"/>
<circle cx="1241.5" cy="1349.6" r="1.6" fill="#0b0d12" stroke="none"/>
<circle cx="1238.1" cy="1341.2" r="1.6" fill="#0b0d12" stroke="none"/>
<circle cx="1218.1" cy="1315.8" r="1.6" fill="#0b0d12" stroke="none"/>
<circle cx="1084.9" cy="1293.3" r="1.6" fill="#0b0d12" stroke="none"/>
<circle cx="1035.0" cy="1282.5" r="1.6" fill="#0b0d12" stroke="none"/>
<circle cx="1295.6" cy="1377.4" r="1.6" fill="#0b0d12" stroke="none"/>
<circle cx="1083.3" cy="1317.4" r="1.6" fill="#0b0d12" stroke="none"/>
<circle cx="1229.8" cy="1344.9" r="1.6" fill="#0b0d12" stroke="none"/>
<path d="M1127.4 1242.5 L1129.2 1240.9 L1132.4 1240.8 L1133.6 1244.1 L1134.1 1246.7 L1133.8 1249.7 L1133.2 1253.3 L1135.7 1256.0 L1136.5 1258.3 L1139.3 1260.9 L1141.5 1263.3 L1138.2 1265.8 L1135.1 1263.4 L1133.2 1261.6 L1131.2 1259.8 L1129.1 1256.6 L1128.0 1253.1 L1126.6 1250.0 L1128.2 1245.7Z" fill="#BBDA1C" stroke-width="2.13"/>
<path d="M1141.5 1277.5 L1143.9 1276.4 L1146.5 1275.8 L1147.9 1278.0 L1149.0 1280.0 L1147.8 1282.5 L1147.4 1285.8 L1143.2 1286.6 L1139.9 1283.3 L1139.9 1280.4Z" fill="#BBDA1C" stroke-width="2.13"/>
<path d="M1134.1 1258.3 L1137.2 1260.1 L1139.9 1260.8 L1140.7 1263.7 L1143.2 1265.8 L1142.8 1267.9 L1141.5 1270.8" fill="none" stroke-width="2.91"/>
<path d="M1134.9 1262.5 L1136.3 1265.3 L1139.0 1267.5 L1139.2 1270.3 L1138.2 1272.5" fill="none" stroke-width="2.91"/>
<path d="M1136.5 1265.8 L1141.1 1266.6 L1143.2 1269.1 L1144.3 1271.0 L1144.9 1274.1" fill="none" stroke-width="2.91"/>
<path d="M1133.2 1265.8 L1134.7 1268.8 L1135.7 1270.8" fill="none" stroke-width="2.91"/>
<path d="M1139.9 1264.1 L1144.0 1263.3" fill="none" stroke-width="2.91"/>
<path d="M1124.9 1264.1 L1121.8 1266.4 L1123.0 1270.5 L1119.9 1271.6 L1118.2 1274.2 L1116.6 1278.3" fill="none" stroke-width="2.91"/>
<path d="M1129.9 1280.0 L1133.2 1277.5" fill="none" stroke-width="2.91"/>
<path d="M1088.3 1235.8 L1092.4 1235.0 L1093.3 1239.2 L1089.9 1241.7 L1087.4 1240.0Z" fill="#BBDA1C" stroke-width="1.90"/>
<path d="M950.7 1030.0 L947.3 1029.9 L943.3 1029.1 L939.7 1028.9 L937.5 1030.7 L933.3 1030.8 L930.8 1031.6 L927.5 1032.4 L923.3 1032.5 L919.2 1033.6 L916.1 1034.1 L913.3 1034.1 L910.8 1035.1 L907.6 1035.7 L905.0 1035.8 L902.2 1037.4 L899.0 1037.7 L897.5 1040.0 L896.7 1042.5 L893.3 1043.9 L891.6 1045.8 L890.8 1049.1 L893.8 1050.8 L896.6 1050.8 L899.8 1049.2 L903.3 1050.0 L907.1 1050.6 L910.0 1052.5 L913.4 1053.6 L916.6 1054.1 L915.2 1052.6 L913.3 1050.0 L910.6 1048.6 L906.6 1047.5 L904.7 1046.4 L902.5 1044.1 L905.0 1040.8 L908.0 1039.4 L911.6 1038.3 L914.4 1035.4 L919.2 1036.7 L921.6 1035.8 L925.6 1034.5 L927.4 1034.6 L931.6 1034.1 L935.0 1034.3 L938.2 1033.7 L941.6 1032.5 L944.9 1031.9 L947.1 1033.4 L949.9 1031.6Z" fill="#BBDA1C" stroke-width="2.24"/>
<path d="M1024.8 1015.0 L1027.0 1014.6 L1030.1 1013.9 L1034.2 1014.5 L1036.5 1013.3 L1039.4 1014.7 L1044.1 1014.8 L1046.5 1015.8 L1045.7 1018.0 L1043.2 1020.0 L1039.2 1020.1 L1036.4 1020.1 L1033.2 1020.8 L1029.8 1019.6 L1026.5 1018.3Z" fill="#BBDA1C" stroke-width="2.46"/>
<path d="M1046.5 1018.3 L1049.2 1019.1 L1052.8 1018.9 L1056.5 1019.0 L1059.8 1020.0 L1063.7 1020.5 L1066.3 1023.2 L1070.4 1021.3 L1073.1 1022.5 L1076.3 1024.9 L1080.0 1026.8 L1083.1 1026.6 L1082.2 1028.6 L1079.8 1030.8 L1077.1 1029.2 L1073.8 1030.4 L1069.8 1029.1 L1067.2 1028.7 L1063.7 1028.1 L1059.8 1026.6 L1055.9 1025.5 L1052.5 1024.5 L1049.8 1023.3 L1048.2 1021.4Z" fill="#BBDA1C" stroke-width="2.46"/>
<path d="M1184.7 1033.3 L1186.8 1032.4 L1190.5 1033.1 L1193.0 1032.6 L1196.4 1031.6 L1199.8 1033.2 L1202.3 1031.8 L1206.0 1033.7 L1209.7 1032.5 L1212.3 1032.4 L1215.0 1034.8 L1218.0 1035.0 L1215.6 1036.1 L1213.0 1037.5 L1209.1 1036.2 L1207.1 1036.3 L1203.0 1036.6 L1199.2 1037.2 L1196.0 1038.0 L1193.0 1037.5 L1189.0 1035.8 L1186.4 1035.8Z" fill="#BBDA1C" stroke-width="2.46"/>
<path d="M866.7 1015.8 L870.5 1015.9 L873.9 1017.5 L876.7 1016.7 L879.8 1015.5 L882.7 1016.8 L885.4 1016.7 L888.3 1015.8" fill="none" stroke-width="3.36"/>
<path d="M893.3 1016.7 L896.6 1014.2 L899.9 1014.0 L903.3 1013.3 L905.6 1012.1 L909.3 1013.5 L911.4 1012.7 L914.9 1012.5 L918.3 1012.2 L920.3 1014.0 L923.0 1014.9 L926.6 1014.2 L930.1 1014.4 L934.0 1015.1 L937.4 1014.7" fill="none" stroke-width="3.36"/>
<path d="M901.6 1016.7 L904.9 1016.2 L908.0 1017.2 L911.3 1016.7 L914.1 1015.5 L916.6 1015.8" fill="none" stroke-width="3.36"/>
<path d="M974.1 1019.6 L976.2 1019.9 L979.1 1019.3" fill="none" stroke-width="3.36"/>
<path d="M984.1 1015.0 L986.1 1014.0 L989.0 1014.7" fill="none" stroke-width="3.36"/>
<path d="M993.2 1034.1 L996.2 1033.2 L998.2 1033.3" fill="none" stroke-width="3.36"/>
<path d="M878.3 1057.4 L880.0 1055.6 L883.3 1056.9" fill="none" stroke-width="3.36"/>
<path d="M863.3 1061.6 L865.0 1060.1 L868.3 1059.9" fill="none" stroke-width="3.36"/>
<path d="M1178.9 1039.1 L1180.5 1040.0" fill="none" stroke-width="3.36"/>
<path d="M1198.0 1040.0 L1202.2 1040.2 L1204.7 1040.8" fill="none" stroke-width="3.36"/>
<path d="M969.9 1044.1 L972.1 1046.3 L976.6 1046.6 L979.8 1046.9 L983.2 1047.5" fill="none" stroke-width="3.36"/>
<path d="M996.5 1048.3 L998.4 1049.8 L999.0 1052.5" fill="none" stroke-width="3.36"/>
<circle cx="1020.7" cy="1028.0" r="1.8" fill="#0b0d12" stroke="none"/>
<circle cx="1043.2" cy="1029.1" r="1.8" fill="#0b0d12" stroke="none"/>
<circle cx="1056.5" cy="1033.3" r="1.8" fill="#0b0d12" stroke="none"/>
<circle cx="997.4" cy="1050.0" r="1.8" fill="#0b0d12" stroke="none"/>
</g>
<rect x="83.9" y="954" width="1286.4" height="570.3" fill="none" stroke="#0d0d0d" stroke-width="2.5"/>
<text x="100.5" y="996.2" font-size="32.4" font-weight="bold" text-anchor="start" fill="#111">(e)</text>
<text x="123.6" y="1293.6" font-size="24.0" font-weight="bold" text-anchor="start" fill="#333" textLength="212.3" lengthAdjust="spacingAndGlyphs">Calorie-corrected</text>
<text x="168.7" y="1324.5" font-size="25.0" font-weight="bold" text-anchor="start" fill="#333">PFP</text>
<text x="218.6" y="1328.7" font-size="16.5" font-weight="bold" text-anchor="start" fill="#333" textLength="71.5" lengthAdjust="spacingAndGlyphs">livestock</text>
<rect x="198.8" y="1335.8" width="45.8" height="24.8" fill="#CFE5F3" stroke="#22303c" stroke-width="1.8"/>
<rect x="198.8" y="1369.5" width="45.8" height="24.5" fill="#BBDA1C" stroke="#2a3310" stroke-width="1.8"/>
<rect x="198.8" y="1402.0" width="45.8" height="23.6" fill="#F8AF14" stroke="#3d2a08" stroke-width="1.8"/>
<rect x="198.8" y="1434.3" width="45.8" height="24.2" fill="#FCD3D5" stroke="#332526" stroke-width="1.8"/>
<rect x="198.8" y="1468.0" width="45.8" height="23.2" fill="#fff" stroke="#7a7a7a" stroke-width="1.2"/>
<text x="272.1" y="1353.0" font-size="17.0" font-weight="bold" text-anchor="start" fill="#1a1a1a" textLength="86.1" lengthAdjust="spacingAndGlyphs">Exporting</text>
<text x="272.1" y="1380.7" font-size="17.0" font-weight="bold" text-anchor="start" fill="#1a1a1a" textLength="85.0" lengthAdjust="spacingAndGlyphs">Importing</text>
<text x="272.1" y="1417.2" font-size="17.0" font-weight="bold" text-anchor="start" fill="#1a1a1a" textLength="85.0" lengthAdjust="spacingAndGlyphs">Importing</text>
<text x="272.1" y="1450.2" font-size="17.0" font-weight="bold" text-anchor="start" fill="#1a1a1a" textLength="86.1" lengthAdjust="spacingAndGlyphs">Exporting</text>
<text x="272.1" y="1483.7" font-size="17.0" font-weight="bold" text-anchor="start" fill="#1a1a1a" textLength="67.6" lengthAdjust="spacingAndGlyphs">No data</text>
<text x="135.4" y="1371.7" font-size="21.0" font-weight="bold" text-anchor="start" fill="#1a1a1a" textLength="45.8" lengthAdjust="spacingAndGlyphs">High</text>
<text x="135.6" y="1436.8" font-size="21.0" font-weight="bold" text-anchor="start" fill="#1a1a1a" textLength="40.5" lengthAdjust="spacingAndGlyphs">Low</text>
</svg></body></html>
